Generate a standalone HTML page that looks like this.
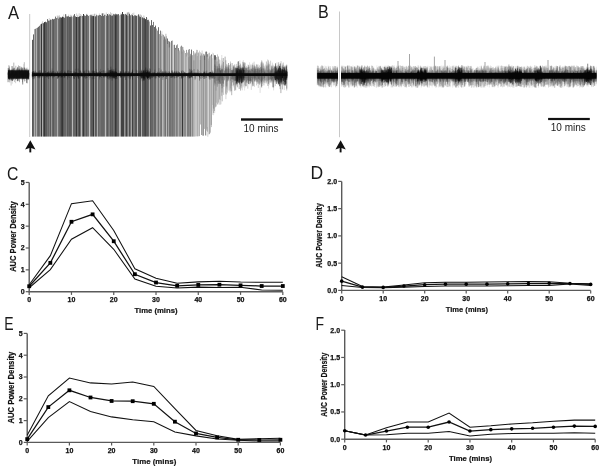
<!DOCTYPE html><html><head><meta charset="utf-8"><style>html,body{margin:0;padding:0;background:#fff;width:603px;height:469px;overflow:hidden}svg{display:block;filter:blur(0.3px)}</style></head><body><svg width="603" height="469" viewBox="0 0 603 469"><path d="M29.20,182.60 V291.70 H282.82" fill="none" stroke="#5a5a5a" stroke-width="1.4"/><line x1="25.70" y1="291.70" x2="29.20" y2="291.70" stroke="#5a5a5a" stroke-width="1.2"/><text x="24.60" y="294.10" text-anchor="end" font-size="7" font-weight="bold" font-family="&quot;Liberation Sans&quot;, sans-serif" fill="#111" stroke="#111" stroke-width="0.25">0</text><line x1="25.70" y1="269.85" x2="29.20" y2="269.85" stroke="#5a5a5a" stroke-width="1.2"/><text x="24.60" y="272.25" text-anchor="end" font-size="7" font-weight="bold" font-family="&quot;Liberation Sans&quot;, sans-serif" fill="#111" stroke="#111" stroke-width="0.25">1</text><line x1="25.70" y1="248.00" x2="29.20" y2="248.00" stroke="#5a5a5a" stroke-width="1.2"/><text x="24.60" y="250.40" text-anchor="end" font-size="7" font-weight="bold" font-family="&quot;Liberation Sans&quot;, sans-serif" fill="#111" stroke="#111" stroke-width="0.25">2</text><line x1="25.70" y1="226.15" x2="29.20" y2="226.15" stroke="#5a5a5a" stroke-width="1.2"/><text x="24.60" y="228.55" text-anchor="end" font-size="7" font-weight="bold" font-family="&quot;Liberation Sans&quot;, sans-serif" fill="#111" stroke="#111" stroke-width="0.25">3</text><line x1="25.70" y1="204.30" x2="29.20" y2="204.30" stroke="#5a5a5a" stroke-width="1.2"/><text x="24.60" y="206.70" text-anchor="end" font-size="7" font-weight="bold" font-family="&quot;Liberation Sans&quot;, sans-serif" fill="#111" stroke="#111" stroke-width="0.25">4</text><line x1="25.70" y1="182.45" x2="29.20" y2="182.45" stroke="#5a5a5a" stroke-width="1.2"/><text x="24.60" y="184.85" text-anchor="end" font-size="7" font-weight="bold" font-family="&quot;Liberation Sans&quot;, sans-serif" fill="#111" stroke="#111" stroke-width="0.25">5</text><line x1="29.20" y1="291.70" x2="29.20" y2="294.90" stroke="#5a5a5a" stroke-width="1.2"/><text x="29.20" y="302.30" text-anchor="middle" font-size="7" font-weight="bold" font-family="&quot;Liberation Sans&quot;, sans-serif" fill="#111" stroke="#111" stroke-width="0.25">0</text><line x1="71.47" y1="291.70" x2="71.47" y2="294.90" stroke="#5a5a5a" stroke-width="1.2"/><text x="71.47" y="302.30" text-anchor="middle" font-size="7" font-weight="bold" font-family="&quot;Liberation Sans&quot;, sans-serif" fill="#111" stroke="#111" stroke-width="0.25">10</text><line x1="113.74" y1="291.70" x2="113.74" y2="294.90" stroke="#5a5a5a" stroke-width="1.2"/><text x="113.74" y="302.30" text-anchor="middle" font-size="7" font-weight="bold" font-family="&quot;Liberation Sans&quot;, sans-serif" fill="#111" stroke="#111" stroke-width="0.25">20</text><line x1="156.01" y1="291.70" x2="156.01" y2="294.90" stroke="#5a5a5a" stroke-width="1.2"/><text x="156.01" y="302.30" text-anchor="middle" font-size="7" font-weight="bold" font-family="&quot;Liberation Sans&quot;, sans-serif" fill="#111" stroke="#111" stroke-width="0.25">30</text><line x1="198.28" y1="291.70" x2="198.28" y2="294.90" stroke="#5a5a5a" stroke-width="1.2"/><text x="198.28" y="302.30" text-anchor="middle" font-size="7" font-weight="bold" font-family="&quot;Liberation Sans&quot;, sans-serif" fill="#111" stroke="#111" stroke-width="0.25">40</text><line x1="240.55" y1="291.70" x2="240.55" y2="294.90" stroke="#5a5a5a" stroke-width="1.2"/><text x="240.55" y="302.30" text-anchor="middle" font-size="7" font-weight="bold" font-family="&quot;Liberation Sans&quot;, sans-serif" fill="#111" stroke="#111" stroke-width="0.25">50</text><line x1="282.82" y1="291.70" x2="282.82" y2="294.90" stroke="#5a5a5a" stroke-width="1.2"/><text x="282.82" y="302.30" text-anchor="middle" font-size="7" font-weight="bold" font-family="&quot;Liberation Sans&quot;, sans-serif" fill="#111" stroke="#111" stroke-width="0.25">60</text><polyline points="29.20,284.71 50.34,255.65 71.47,203.64 92.61,200.80 113.74,230.52 134.88,268.76 156.01,278.15 177.15,283.18 198.28,281.87 219.41,281.21 240.55,282.09 261.69,282.30 282.82,282.30" fill="none" stroke="#111" stroke-width="1.05"/><polyline points="29.20,287.77 50.34,269.63 71.47,239.26 92.61,227.68 113.74,249.31 134.88,279.03 156.01,286.24 177.15,287.99 198.28,287.11 219.41,287.55 240.55,287.33 261.69,289.95 282.82,290.17" fill="none" stroke="#111" stroke-width="1.05"/><polyline points="29.20,286.24 50.34,262.86 71.47,221.78 92.61,214.35 113.74,241.23 134.88,274.22 156.01,282.52 177.15,285.80 198.28,284.93 219.41,284.71 240.55,285.36 261.69,286.02 282.82,286.02" fill="none" stroke="#111" stroke-width="1.25"/><rect x="27.30" y="284.34" width="3.8" height="3.8" fill="#000"/><rect x="48.44" y="260.96" width="3.8" height="3.8" fill="#000"/><rect x="69.57" y="219.88" width="3.8" height="3.8" fill="#000"/><rect x="90.70" y="212.45" width="3.8" height="3.8" fill="#000"/><rect x="111.84" y="239.33" width="3.8" height="3.8" fill="#000"/><rect x="132.97" y="272.32" width="3.8" height="3.8" fill="#000"/><rect x="154.11" y="280.62" width="3.8" height="3.8" fill="#000"/><rect x="175.25" y="283.90" width="3.8" height="3.8" fill="#000"/><rect x="196.38" y="283.03" width="3.8" height="3.8" fill="#000"/><rect x="217.51" y="282.81" width="3.8" height="3.8" fill="#000"/><rect x="238.65" y="283.46" width="3.8" height="3.8" fill="#000"/><rect x="259.79" y="284.12" width="3.8" height="3.8" fill="#000"/><rect x="280.92" y="284.12" width="3.8" height="3.8" fill="#000"/><text transform="translate(16.20,236.60) rotate(-90)" text-anchor="middle" font-size="8.6" font-weight="bold" font-family="&quot;Liberation Sans&quot;, sans-serif" fill="#111" stroke="#111" stroke-width="0.2" textLength="70.5" lengthAdjust="spacingAndGlyphs">AUC Power Density</text><text x="156.00" y="313.30" text-anchor="middle" font-size="8" font-weight="bold" font-family="&quot;Liberation Sans&quot;, sans-serif" fill="#111" stroke="#111" stroke-width="0.2" textLength="43" lengthAdjust="spacingAndGlyphs">Time (mins)</text><path d="M341.70,181.60 V290.40 H590.70" fill="none" stroke="#5a5a5a" stroke-width="1.4"/><line x1="338.20" y1="290.40" x2="341.70" y2="290.40" stroke="#5a5a5a" stroke-width="1.2"/><text x="337.10" y="292.80" text-anchor="end" font-size="7" font-weight="bold" font-family="&quot;Liberation Sans&quot;, sans-serif" fill="#111" stroke="#111" stroke-width="0.25">0.0</text><line x1="338.20" y1="263.15" x2="341.70" y2="263.15" stroke="#5a5a5a" stroke-width="1.2"/><text x="337.10" y="265.55" text-anchor="end" font-size="7" font-weight="bold" font-family="&quot;Liberation Sans&quot;, sans-serif" fill="#111" stroke="#111" stroke-width="0.25">0.5</text><line x1="338.20" y1="235.90" x2="341.70" y2="235.90" stroke="#5a5a5a" stroke-width="1.2"/><text x="337.10" y="238.30" text-anchor="end" font-size="7" font-weight="bold" font-family="&quot;Liberation Sans&quot;, sans-serif" fill="#111" stroke="#111" stroke-width="0.25">1.0</text><line x1="338.20" y1="208.65" x2="341.70" y2="208.65" stroke="#5a5a5a" stroke-width="1.2"/><text x="337.10" y="211.05" text-anchor="end" font-size="7" font-weight="bold" font-family="&quot;Liberation Sans&quot;, sans-serif" fill="#111" stroke="#111" stroke-width="0.25">1.5</text><line x1="338.20" y1="181.40" x2="341.70" y2="181.40" stroke="#5a5a5a" stroke-width="1.2"/><text x="337.10" y="183.80" text-anchor="end" font-size="7" font-weight="bold" font-family="&quot;Liberation Sans&quot;, sans-serif" fill="#111" stroke="#111" stroke-width="0.25">2.0</text><line x1="341.70" y1="290.40" x2="341.70" y2="293.60" stroke="#5a5a5a" stroke-width="1.2"/><text x="341.70" y="300.90" text-anchor="middle" font-size="7" font-weight="bold" font-family="&quot;Liberation Sans&quot;, sans-serif" fill="#111" stroke="#111" stroke-width="0.25">0</text><line x1="383.20" y1="290.40" x2="383.20" y2="293.60" stroke="#5a5a5a" stroke-width="1.2"/><text x="383.20" y="300.90" text-anchor="middle" font-size="7" font-weight="bold" font-family="&quot;Liberation Sans&quot;, sans-serif" fill="#111" stroke="#111" stroke-width="0.25">10</text><line x1="424.70" y1="290.40" x2="424.70" y2="293.60" stroke="#5a5a5a" stroke-width="1.2"/><text x="424.70" y="300.90" text-anchor="middle" font-size="7" font-weight="bold" font-family="&quot;Liberation Sans&quot;, sans-serif" fill="#111" stroke="#111" stroke-width="0.25">20</text><line x1="466.20" y1="290.40" x2="466.20" y2="293.60" stroke="#5a5a5a" stroke-width="1.2"/><text x="466.20" y="300.90" text-anchor="middle" font-size="7" font-weight="bold" font-family="&quot;Liberation Sans&quot;, sans-serif" fill="#111" stroke="#111" stroke-width="0.25">30</text><line x1="507.70" y1="290.40" x2="507.70" y2="293.60" stroke="#5a5a5a" stroke-width="1.2"/><text x="507.70" y="300.90" text-anchor="middle" font-size="7" font-weight="bold" font-family="&quot;Liberation Sans&quot;, sans-serif" fill="#111" stroke="#111" stroke-width="0.25">40</text><line x1="549.20" y1="290.40" x2="549.20" y2="293.60" stroke="#5a5a5a" stroke-width="1.2"/><text x="549.20" y="300.90" text-anchor="middle" font-size="7" font-weight="bold" font-family="&quot;Liberation Sans&quot;, sans-serif" fill="#111" stroke="#111" stroke-width="0.25">50</text><line x1="590.70" y1="290.40" x2="590.70" y2="293.60" stroke="#5a5a5a" stroke-width="1.2"/><text x="590.70" y="300.90" text-anchor="middle" font-size="7" font-weight="bold" font-family="&quot;Liberation Sans&quot;, sans-serif" fill="#111" stroke="#111" stroke-width="0.25">60</text><polyline points="341.70,276.77 362.45,286.58 383.20,287.13 403.95,284.95 424.70,282.77 445.45,282.22 466.20,282.22 486.95,281.95 507.70,281.68 528.45,281.41 549.20,281.68 569.95,283.31 590.70,283.86" fill="none" stroke="#111" stroke-width="1.05"/><polyline points="341.70,285.50 362.45,287.40 383.20,287.67 403.95,287.13 424.70,286.58 445.45,286.04 466.20,286.04 486.95,286.04 507.70,285.77 528.45,285.50 549.20,285.50 569.95,283.86 590.70,285.50" fill="none" stroke="#111" stroke-width="1.05"/><polyline points="341.70,281.13 362.45,287.13 383.20,287.40 403.95,286.04 424.70,284.68 445.45,284.13 466.20,284.13 486.95,284.13 507.70,283.86 528.45,283.59 549.20,283.31 569.95,283.59 590.70,284.40" fill="none" stroke="#111" stroke-width="1.25"/><circle cx="341.70" cy="281.13" r="1.8" fill="#000"/><circle cx="362.45" cy="287.13" r="1.8" fill="#000"/><circle cx="383.20" cy="287.40" r="1.8" fill="#000"/><circle cx="403.95" cy="286.04" r="1.8" fill="#000"/><circle cx="424.70" cy="284.68" r="1.8" fill="#000"/><circle cx="445.45" cy="284.13" r="1.8" fill="#000"/><circle cx="466.20" cy="284.13" r="1.8" fill="#000"/><circle cx="486.95" cy="284.13" r="1.8" fill="#000"/><circle cx="507.70" cy="283.86" r="1.8" fill="#000"/><circle cx="528.45" cy="283.59" r="1.8" fill="#000"/><circle cx="549.20" cy="283.31" r="1.8" fill="#000"/><circle cx="569.95" cy="283.59" r="1.8" fill="#000"/><circle cx="590.70" cy="284.40" r="1.8" fill="#000"/><text transform="translate(322.30,235.50) rotate(-90)" text-anchor="middle" font-size="8.4" font-weight="bold" font-family="&quot;Liberation Sans&quot;, sans-serif" fill="#111" stroke="#111" stroke-width="0.2" textLength="64.5" lengthAdjust="spacingAndGlyphs">AUC Power Density</text><text x="466.90" y="312.20" text-anchor="middle" font-size="8" font-weight="bold" font-family="&quot;Liberation Sans&quot;, sans-serif" fill="#111" stroke="#111" stroke-width="0.2" textLength="42.3" lengthAdjust="spacingAndGlyphs">Time (mins)</text><path d="M27.20,333.40 V442.40 H280.40" fill="none" stroke="#5a5a5a" stroke-width="1.4"/><line x1="23.70" y1="442.40" x2="27.20" y2="442.40" stroke="#5a5a5a" stroke-width="1.2"/><text x="22.60" y="444.80" text-anchor="end" font-size="7" font-weight="bold" font-family="&quot;Liberation Sans&quot;, sans-serif" fill="#111" stroke="#111" stroke-width="0.25">0</text><line x1="23.70" y1="420.60" x2="27.20" y2="420.60" stroke="#5a5a5a" stroke-width="1.2"/><text x="22.60" y="423.00" text-anchor="end" font-size="7" font-weight="bold" font-family="&quot;Liberation Sans&quot;, sans-serif" fill="#111" stroke="#111" stroke-width="0.25">1</text><line x1="23.70" y1="398.80" x2="27.20" y2="398.80" stroke="#5a5a5a" stroke-width="1.2"/><text x="22.60" y="401.20" text-anchor="end" font-size="7" font-weight="bold" font-family="&quot;Liberation Sans&quot;, sans-serif" fill="#111" stroke="#111" stroke-width="0.25">2</text><line x1="23.70" y1="377.00" x2="27.20" y2="377.00" stroke="#5a5a5a" stroke-width="1.2"/><text x="22.60" y="379.40" text-anchor="end" font-size="7" font-weight="bold" font-family="&quot;Liberation Sans&quot;, sans-serif" fill="#111" stroke="#111" stroke-width="0.25">3</text><line x1="23.70" y1="355.20" x2="27.20" y2="355.20" stroke="#5a5a5a" stroke-width="1.2"/><text x="22.60" y="357.60" text-anchor="end" font-size="7" font-weight="bold" font-family="&quot;Liberation Sans&quot;, sans-serif" fill="#111" stroke="#111" stroke-width="0.25">4</text><line x1="23.70" y1="333.40" x2="27.20" y2="333.40" stroke="#5a5a5a" stroke-width="1.2"/><text x="22.60" y="335.80" text-anchor="end" font-size="7" font-weight="bold" font-family="&quot;Liberation Sans&quot;, sans-serif" fill="#111" stroke="#111" stroke-width="0.25">5</text><line x1="27.20" y1="442.40" x2="27.20" y2="445.60" stroke="#5a5a5a" stroke-width="1.2"/><text x="27.20" y="453.00" text-anchor="middle" font-size="7" font-weight="bold" font-family="&quot;Liberation Sans&quot;, sans-serif" fill="#111" stroke="#111" stroke-width="0.25">0</text><line x1="69.40" y1="442.40" x2="69.40" y2="445.60" stroke="#5a5a5a" stroke-width="1.2"/><text x="69.40" y="453.00" text-anchor="middle" font-size="7" font-weight="bold" font-family="&quot;Liberation Sans&quot;, sans-serif" fill="#111" stroke="#111" stroke-width="0.25">10</text><line x1="111.60" y1="442.40" x2="111.60" y2="445.60" stroke="#5a5a5a" stroke-width="1.2"/><text x="111.60" y="453.00" text-anchor="middle" font-size="7" font-weight="bold" font-family="&quot;Liberation Sans&quot;, sans-serif" fill="#111" stroke="#111" stroke-width="0.25">20</text><line x1="153.80" y1="442.40" x2="153.80" y2="445.60" stroke="#5a5a5a" stroke-width="1.2"/><text x="153.80" y="453.00" text-anchor="middle" font-size="7" font-weight="bold" font-family="&quot;Liberation Sans&quot;, sans-serif" fill="#111" stroke="#111" stroke-width="0.25">30</text><line x1="196.00" y1="442.40" x2="196.00" y2="445.60" stroke="#5a5a5a" stroke-width="1.2"/><text x="196.00" y="453.00" text-anchor="middle" font-size="7" font-weight="bold" font-family="&quot;Liberation Sans&quot;, sans-serif" fill="#111" stroke="#111" stroke-width="0.25">40</text><line x1="238.20" y1="442.40" x2="238.20" y2="445.60" stroke="#5a5a5a" stroke-width="1.2"/><text x="238.20" y="453.00" text-anchor="middle" font-size="7" font-weight="bold" font-family="&quot;Liberation Sans&quot;, sans-serif" fill="#111" stroke="#111" stroke-width="0.25">50</text><line x1="280.40" y1="442.40" x2="280.40" y2="445.60" stroke="#5a5a5a" stroke-width="1.2"/><text x="280.40" y="453.00" text-anchor="middle" font-size="7" font-weight="bold" font-family="&quot;Liberation Sans&quot;, sans-serif" fill="#111" stroke="#111" stroke-width="0.25">60</text><polyline points="27.20,435.21 48.30,395.75 69.40,378.09 90.50,382.89 111.60,383.98 132.70,382.01 153.80,386.37 174.90,408.61 196.00,430.41 217.10,435.86 238.20,439.35 259.30,438.69 280.40,438.26" fill="none" stroke="#111" stroke-width="1.05"/><polyline points="27.20,441.31 48.30,417.55 69.40,401.63 90.50,411.44 111.60,416.89 132.70,419.73 153.80,421.69 174.90,431.94 196.00,435.86 217.10,438.91 238.20,440.22 259.30,441.09 280.40,441.09" fill="none" stroke="#111" stroke-width="1.05"/><polyline points="27.20,439.13 48.30,407.08 69.40,390.30 90.50,397.49 111.60,400.98 132.70,401.20 153.80,403.81 174.90,421.69 196.00,433.46 217.10,437.39 238.20,439.78 259.30,440.00 280.40,439.78" fill="none" stroke="#111" stroke-width="1.25"/><rect x="25.30" y="437.23" width="3.8" height="3.8" fill="#000"/><rect x="46.40" y="405.18" width="3.8" height="3.8" fill="#000"/><rect x="67.50" y="388.40" width="3.8" height="3.8" fill="#000"/><rect x="88.60" y="395.59" width="3.8" height="3.8" fill="#000"/><rect x="109.70" y="399.08" width="3.8" height="3.8" fill="#000"/><rect x="130.80" y="399.30" width="3.8" height="3.8" fill="#000"/><rect x="151.90" y="401.91" width="3.8" height="3.8" fill="#000"/><rect x="173.00" y="419.79" width="3.8" height="3.8" fill="#000"/><rect x="194.10" y="431.56" width="3.8" height="3.8" fill="#000"/><rect x="215.20" y="435.49" width="3.8" height="3.8" fill="#000"/><rect x="236.30" y="437.88" width="3.8" height="3.8" fill="#000"/><rect x="257.40" y="438.10" width="3.8" height="3.8" fill="#000"/><rect x="278.50" y="437.88" width="3.8" height="3.8" fill="#000"/><text transform="translate(14.30,387.60) rotate(-90)" text-anchor="middle" font-size="8.6" font-weight="bold" font-family="&quot;Liberation Sans&quot;, sans-serif" fill="#111" stroke="#111" stroke-width="0.2" textLength="72" lengthAdjust="spacingAndGlyphs">AUC Power Density</text><text x="154.30" y="464.00" text-anchor="middle" font-size="8" font-weight="bold" font-family="&quot;Liberation Sans&quot;, sans-serif" fill="#111" stroke="#111" stroke-width="0.2" textLength="44" lengthAdjust="spacingAndGlyphs">Time (mins)</text><path d="M344.70,330.00 V439.20 H595.20" fill="none" stroke="#5a5a5a" stroke-width="1.4"/><line x1="341.20" y1="439.20" x2="344.70" y2="439.20" stroke="#5a5a5a" stroke-width="1.2"/><text x="340.10" y="441.60" text-anchor="end" font-size="7" font-weight="bold" font-family="&quot;Liberation Sans&quot;, sans-serif" fill="#111" stroke="#111" stroke-width="0.25">0.0</text><line x1="341.20" y1="411.95" x2="344.70" y2="411.95" stroke="#5a5a5a" stroke-width="1.2"/><text x="340.10" y="414.35" text-anchor="end" font-size="7" font-weight="bold" font-family="&quot;Liberation Sans&quot;, sans-serif" fill="#111" stroke="#111" stroke-width="0.25">0.5</text><line x1="341.20" y1="384.70" x2="344.70" y2="384.70" stroke="#5a5a5a" stroke-width="1.2"/><text x="340.10" y="387.10" text-anchor="end" font-size="7" font-weight="bold" font-family="&quot;Liberation Sans&quot;, sans-serif" fill="#111" stroke="#111" stroke-width="0.25">1.0</text><line x1="341.20" y1="357.45" x2="344.70" y2="357.45" stroke="#5a5a5a" stroke-width="1.2"/><text x="340.10" y="359.85" text-anchor="end" font-size="7" font-weight="bold" font-family="&quot;Liberation Sans&quot;, sans-serif" fill="#111" stroke="#111" stroke-width="0.25">1.5</text><line x1="341.20" y1="330.20" x2="344.70" y2="330.20" stroke="#5a5a5a" stroke-width="1.2"/><text x="340.10" y="332.60" text-anchor="end" font-size="7" font-weight="bold" font-family="&quot;Liberation Sans&quot;, sans-serif" fill="#111" stroke="#111" stroke-width="0.25">2.0</text><line x1="344.70" y1="439.20" x2="344.70" y2="442.40" stroke="#5a5a5a" stroke-width="1.2"/><text x="344.70" y="449.70" text-anchor="middle" font-size="7" font-weight="bold" font-family="&quot;Liberation Sans&quot;, sans-serif" fill="#111" stroke="#111" stroke-width="0.25">0</text><line x1="386.45" y1="439.20" x2="386.45" y2="442.40" stroke="#5a5a5a" stroke-width="1.2"/><text x="386.45" y="449.70" text-anchor="middle" font-size="7" font-weight="bold" font-family="&quot;Liberation Sans&quot;, sans-serif" fill="#111" stroke="#111" stroke-width="0.25">10</text><line x1="428.20" y1="439.20" x2="428.20" y2="442.40" stroke="#5a5a5a" stroke-width="1.2"/><text x="428.20" y="449.70" text-anchor="middle" font-size="7" font-weight="bold" font-family="&quot;Liberation Sans&quot;, sans-serif" fill="#111" stroke="#111" stroke-width="0.25">20</text><line x1="469.95" y1="439.20" x2="469.95" y2="442.40" stroke="#5a5a5a" stroke-width="1.2"/><text x="469.95" y="449.70" text-anchor="middle" font-size="7" font-weight="bold" font-family="&quot;Liberation Sans&quot;, sans-serif" fill="#111" stroke="#111" stroke-width="0.25">30</text><line x1="511.70" y1="439.20" x2="511.70" y2="442.40" stroke="#5a5a5a" stroke-width="1.2"/><text x="511.70" y="449.70" text-anchor="middle" font-size="7" font-weight="bold" font-family="&quot;Liberation Sans&quot;, sans-serif" fill="#111" stroke="#111" stroke-width="0.25">40</text><line x1="553.45" y1="439.20" x2="553.45" y2="442.40" stroke="#5a5a5a" stroke-width="1.2"/><text x="553.45" y="449.70" text-anchor="middle" font-size="7" font-weight="bold" font-family="&quot;Liberation Sans&quot;, sans-serif" fill="#111" stroke="#111" stroke-width="0.25">50</text><line x1="595.20" y1="439.20" x2="595.20" y2="442.40" stroke="#5a5a5a" stroke-width="1.2"/><text x="595.20" y="449.70" text-anchor="middle" font-size="7" font-weight="bold" font-family="&quot;Liberation Sans&quot;, sans-serif" fill="#111" stroke="#111" stroke-width="0.25">60</text><polyline points="344.70,430.75 365.57,435.00 386.45,427.75 407.32,422.03 428.20,422.03 449.07,413.04 469.95,427.21 490.82,425.85 511.70,423.94 532.58,422.85 553.45,421.21 574.33,420.12 595.20,420.12" fill="none" stroke="#111" stroke-width="1.05"/><polyline points="344.70,430.75 365.57,435.00 386.45,434.84 407.32,433.20 428.20,433.20 449.07,431.57 469.95,435.93 490.82,434.30 511.70,433.48 532.58,433.20 553.45,433.20 574.33,432.66 595.20,433.20" fill="none" stroke="#111" stroke-width="1.05"/><polyline points="344.70,430.75 365.57,435.00 386.45,431.02 407.32,427.21 428.20,427.21 449.07,422.03 469.95,431.02 490.82,429.66 511.70,428.84 532.58,428.30 553.45,427.21 574.33,426.12 595.20,426.39" fill="none" stroke="#111" stroke-width="1.25"/><circle cx="344.70" cy="430.75" r="1.8" fill="#000"/><circle cx="365.57" cy="435.00" r="1.8" fill="#000"/><circle cx="386.45" cy="431.02" r="1.8" fill="#000"/><circle cx="407.32" cy="427.21" r="1.8" fill="#000"/><circle cx="428.20" cy="427.21" r="1.8" fill="#000"/><circle cx="449.07" cy="422.03" r="1.8" fill="#000"/><circle cx="469.95" cy="431.02" r="1.8" fill="#000"/><circle cx="490.82" cy="429.66" r="1.8" fill="#000"/><circle cx="511.70" cy="428.84" r="1.8" fill="#000"/><circle cx="532.58" cy="428.30" r="1.8" fill="#000"/><circle cx="553.45" cy="427.21" r="1.8" fill="#000"/><circle cx="574.33" cy="426.12" r="1.8" fill="#000"/><circle cx="595.20" cy="426.39" r="1.8" fill="#000"/><text transform="translate(326.60,384.80) rotate(-90)" text-anchor="middle" font-size="8.4" font-weight="bold" font-family="&quot;Liberation Sans&quot;, sans-serif" fill="#111" stroke="#111" stroke-width="0.2" textLength="64" lengthAdjust="spacingAndGlyphs">AUC Power Density</text><text x="470.50" y="461.00" text-anchor="middle" font-size="8" font-weight="bold" font-family="&quot;Liberation Sans&quot;, sans-serif" fill="#111" stroke="#111" stroke-width="0.2" textLength="43" lengthAdjust="spacingAndGlyphs">Time (mins)</text><line x1="29.7" y1="14" x2="29.7" y2="137" stroke="#c8c8c8" stroke-width="1"/><path d="M17.5 66.9V77.5M15.8 65.8V77.1M23.8 69.7V75.4M13.3 73.1V78.7M20.8 66.4V77.6M19.0 72.9V80.8M24.8 71.2V77.4M18.5 65.4V78.5M11.8 74.1V75.1M26.2 68.2V78.5M12.3 73.4V80.1" stroke="#424242" stroke-width="0.6" stroke-opacity="0.6" fill="none"/><path d="M20.3 72.8V78.5M21.4 67.6V75.8M17.8 71.1V74.7M9.6 69.7V79.0M21.7 71.3V74.7M14.1 72.4V76.1M20.6 70.9V75.2M26.0 71.3V76.6M8.7 69.8V77.8M8.9 69.5V75.3M20.1 68.7V76.7M12.9 74.3V75.0" stroke="#4e4e4e" stroke-width="0.6" stroke-opacity="0.8" fill="none"/><path d="M10.0 74.0V76.0M13.8 62.6V74.7M9.4 73.9V79.1M22.0 73.3V78.1M26.8 72.7V79.8M13.4 69.5V77.6M13.0 68.8V79.5M24.2 67.8V74.6M25.3 72.9V75.9M15.4 72.3V74.9M12.9 68.7V76.8M13.4 71.5V79.2M11.2 71.4V75.8M16.6 72.0V76.0" stroke="#666666" stroke-width="0.6" stroke-opacity="0.8" fill="none"/><path d="M8.9 65.2V75.5M19.5 73.9V82.2M24.7 71.6V76.2M18.4 70.9V80.5M12.3 73.3V81.0M22.4 72.1V74.8M16.5 68.6V79.0M18.0 73.7V77.7M19.4 66.0V78.4M22.1 70.0V74.7M27.2 68.8V78.1M9.4 66.5V79.5M19.7 72.4V77.2M15.3 72.1V76.5M23.0 73.0V77.4M25.4 71.1V76.0" stroke="#5a5a5a" stroke-width="0.6" stroke-opacity="0.8" fill="none"/><path d="M11.3 70.1V74.9M22.4 74.0V75.8M19.6 69.9V74.9M23.5 74.3V78.1M9.3 68.4V76.3M23.8 72.9V79.0M14.5 68.2V82.1M18.8 73.6V75.4" stroke="#1e1e1e" stroke-width="0.6" stroke-opacity="0.4" fill="none"/><path d="M13.1 70.6V75.3M8.0 72.5V82.2M26.5 72.0V82.8M22.5 70.4V76.3M22.7 73.2V76.4M19.0 69.2V76.7M9.6 70.5V76.8M9.5 71.2V76.3M21.7 71.7V76.7M13.3 72.0V75.4" stroke="#424242" stroke-width="0.6" stroke-opacity="0.8" fill="none"/><path d="M18.9 71.8V77.8M8.8 71.9V75.1M21.4 67.1V74.8M28.3 71.3V77.3M20.6 72.5V76.7M9.7 72.6V80.0M14.9 70.1V76.1M9.1 73.3V82.1M16.8 73.6V76.9M18.9 67.5V74.7M8.7 68.4V74.6M16.5 72.4V74.8M16.3 74.2V78.7M18.7 73.5V77.9" stroke="#5a5a5a" stroke-width="0.6" stroke-opacity="0.6" fill="none"/><path d="M14.6 74.1V77.4M16.3 71.4V78.6M27.3 71.4V76.0M28.1 72.0V74.8M24.6 67.5V78.5M12.4 70.3V75.7M25.4 72.8V75.6M19.5 72.0V77.9M17.7 67.6V81.3M28.8 72.5V79.0M21.5 69.3V75.8M17.4 70.9V74.6M17.3 74.0V80.9M26.1 73.5V77.9M22.4 68.0V76.0" stroke="#1e1e1e" stroke-width="0.6" stroke-opacity="0.8" fill="none"/><path d="M16.4 72.5V77.4M26.2 73.6V76.4M10.8 69.6V80.3M21.2 70.8V79.9M14.6 72.3V75.7M16.5 71.0V77.0M20.0 71.0V75.2M18.7 69.9V75.5M24.3 62.2V76.9M22.9 67.2V77.9M24.9 70.7V81.0M8.3 70.0V77.8M23.9 74.5V78.7M10.2 74.0V77.6M17.8 73.1V78.2" stroke="#727272" stroke-width="0.6" stroke-opacity="0.8" fill="none"/><path d="M16.3 70.0V76.7M26.3 69.0V77.7M24.6 71.1V81.6M9.7 70.3V76.2M23.3 71.7V77.9M9.3 70.7V75.7M12.5 72.0V75.8M23.9 72.8V78.7M11.3 73.3V77.0M17.8 69.9V75.8M22.9 72.9V77.8M11.8 74.0V79.8M22.5 70.0V82.3M22.8 71.5V77.1" stroke="#666666" stroke-width="0.6" stroke-opacity="0.6" fill="none"/><path d="M9.8 69.9V82.6M19.7 72.3V75.3M27.0 67.4V78.9M25.0 70.2V76.7M17.7 67.9V75.9M9.7 74.0V77.5M22.8 74.1V80.3" stroke="#5a5a5a" stroke-width="0.6" stroke-opacity="0.4" fill="none"/><path d="M13.2 73.5V75.3M23.4 71.1V76.4M8.6 74.0V75.7M21.0 72.8V75.4M14.5 70.6V77.9M28.7 68.8V75.1M23.5 71.0V77.8M20.6 73.9V77.2M13.6 73.2V75.3" stroke="#666666" stroke-width="0.6" stroke-opacity="0.4" fill="none"/><path d="M21.5 71.7V77.0M13.8 72.6V77.9M27.5 72.3V77.9M15.6 71.7V76.7M21.9 70.9V77.7M14.0 74.4V77.2M25.7 69.9V78.8M11.9 72.4V75.2M15.6 74.4V75.2M16.3 69.4V77.1" stroke="#2a2a2a" stroke-width="0.6" stroke-opacity="0.6" fill="none"/><path d="M28.4 73.5V77.4M22.7 69.5V74.6M27.0 72.4V77.8M12.5 66.3V80.4M23.2 71.6V79.1M14.5 69.4V79.2M12.9 74.1V81.1M15.9 72.3V76.1M27.0 70.8V76.3M20.1 73.5V77.5M19.0 70.7V75.1M20.3 73.6V74.8M23.0 70.8V78.7M28.5 72.9V79.6M11.9 69.6V75.5M21.1 68.2V77.0" stroke="#727272" stroke-width="0.6" stroke-opacity="0.6" fill="none"/><path d="M12.5 74.2V80.7M17.4 72.4V75.3M17.5 68.9V80.1M12.1 73.7V79.9M17.2 73.5V77.4M27.6 72.4V76.2M13.5 68.4V79.7M14.5 74.0V75.8M14.1 71.3V77.7M24.1 73.0V77.7M21.9 74.0V74.9M12.2 72.5V74.9M19.1 74.3V77.6M28.0 71.8V74.5M9.3 69.3V78.6M26.2 74.1V77.5" stroke="#363636" stroke-width="0.6" stroke-opacity="0.6" fill="none"/><path d="M9.5 70.5V77.1M25.3 72.0V76.2M16.7 72.4V74.9M21.3 74.5V76.8M14.3 74.3V75.9M23.7 72.9V76.7M10.3 73.5V76.8M8.2 68.1V74.8M16.2 73.1V76.9M19.4 70.2V76.2M14.2 67.7V78.1M28.0 71.6V80.1M9.3 71.6V76.3M17.6 74.5V75.5M15.3 70.9V77.4" stroke="#2a2a2a" stroke-width="0.6" stroke-opacity="0.8" fill="none"/><path d="M13.2 72.3V80.0M18.1 74.1V77.6M12.3 68.6V83.7M23.7 64.2V77.8M12.3 71.8V75.9M9.3 69.9V75.7M12.2 72.9V76.2M8.9 68.4V74.9" stroke="#727272" stroke-width="0.6" stroke-opacity="0.4" fill="none"/><path d="M28.0 70.9V77.8M16.5 73.8V76.5M23.8 68.3V80.0M11.0 72.1V76.4M26.5 71.7V80.0" stroke="#424242" stroke-width="0.6" stroke-opacity="0.4" fill="none"/><path d="M13.9 72.4V75.7M12.2 72.3V74.9M14.0 73.9V77.5M23.9 72.4V76.5M28.8 73.0V76.7M11.9 66.0V80.9M22.7 69.2V76.3M12.8 73.4V76.9" stroke="#121212" stroke-width="0.6" stroke-opacity="0.6" fill="none"/><path d="M22.5 72.8V75.5M11.9 73.1V74.9" stroke="#121212" stroke-width="0.6" stroke-opacity="0.4" fill="none"/><path d="M27.1 71.7V83.3M28.6 73.1V74.9M8.4 71.9V77.5M19.3 69.6V74.6M22.7 73.8V84.5" stroke="#121212" stroke-width="0.6" stroke-opacity="0.8" fill="none"/><path d="M21.1 71.0V77.7M17.8 70.7V74.9M16.9 73.3V75.7M24.7 67.9V76.2M23.5 73.3V75.4M15.8 72.9V79.9M21.4 71.7V74.6M27.5 73.1V77.0M28.6 70.4V76.1M15.6 69.2V83.2M8.7 73.1V78.0" stroke="#4e4e4e" stroke-width="0.6" stroke-opacity="0.4" fill="none"/><path d="M8.2 72.8V79.6M10.8 74.1V80.3M19.9 68.4V76.2M16.1 72.5V78.2M20.3 71.4V75.1" stroke="#2a2a2a" stroke-width="0.6" stroke-opacity="0.4" fill="none"/><path d="M26.5 70.9V77.7M25.1 71.2V76.9M11.0 70.9V79.0M11.1 73.9V85.5M20.5 74.1V76.8M27.0 71.4V74.9M21.3 71.3V76.5M19.2 74.3V77.2" stroke="#363636" stroke-width="0.6" stroke-opacity="0.4" fill="none"/><path d="M16.7 71.5V77.5M8.9 73.3V79.0M23.0 73.3V77.1M18.9 69.9V78.5M12.9 69.5V76.3M8.9 71.2V79.5M19.0 74.2V78.1M28.7 69.6V76.5M16.5 73.8V75.5M18.3 71.3V75.8M25.5 73.9V76.3" stroke="#363636" stroke-width="0.6" stroke-opacity="0.8" fill="none"/><path d="M13.0 73.8V75.4M27.9 72.3V75.8M25.9 70.2V75.4M18.8 69.3V78.3M25.2 73.1V75.6M22.0 71.8V75.3M15.5 73.8V79.9M9.8 72.5V78.6M15.9 73.8V77.1M11.6 71.7V74.8M13.0 72.0V74.7M14.5 71.5V75.3" stroke="#4e4e4e" stroke-width="0.6" stroke-opacity="0.6" fill="none"/><path d="M15.0 74.0V76.4M27.4 74.0V78.5M21.0 69.9V78.1M25.5 68.9V77.5M24.1 69.7V77.7M12.3 70.3V75.9M27.2 73.8V75.2M9.7 73.8V80.2M23.0 71.0V78.7M9.9 74.2V76.6M27.8 72.8V76.2M27.0 69.3V78.2M16.3 74.4V75.5M10.0 72.4V77.7M15.7 71.1V75.9M16.0 73.7V75.0M11.4 69.6V79.9" stroke="#1e1e1e" stroke-width="0.6" stroke-opacity="0.6" fill="none"/><rect x="8" y="70.3" width="21" height="8.4" fill="#0a0a0a" opacity="0.9"/><path d="M32.5 39.8V74.0M32.5 74.0V136.6M43.5 23.2V74.0M43.5 74.0V136.6M45.5 21.7V74.0M45.5 74.0V136.6M46.5 22.3V74.0M46.5 74.0V136.6M50.5 19.6V74.0M50.5 74.0V136.6M53.5 19.3V74.0M53.5 74.0V136.6M60.5 17.4V74.0M60.5 74.0V136.6M63.5 17.1V74.0M63.5 74.0V136.6M67.5 16.4V74.0M67.5 74.0V136.6M69.5 16.9V74.0M69.5 74.0V136.6M70.5 16.8V74.0M70.5 74.0V136.6M78.5 16.9V74.0M78.5 74.0V136.6M86.5 14.5V74.0M86.5 74.0V136.6M91.5 15.4V74.0M91.5 74.0V136.6M92.5 15.8V74.0M92.5 74.0V136.6M95.5 16.3V74.0M95.5 74.0V136.6M107.5 14.0V74.0M107.5 74.0V136.6M110.5 15.0V74.0M110.5 74.0V136.6M112.5 15.5V74.0M112.5 74.0V136.6M135.5 15.4V74.0M135.5 74.0V136.6M136.5 15.8V74.0M136.5 74.0V136.6M138.5 14.4V74.0M138.5 74.0V136.6M139.5 16.4V74.0M139.5 74.0V136.6M142.5 17.4V74.0M142.5 74.0V136.6M143.5 18.2V74.0M143.5 74.0V136.6M146.5 17.1V74.0M146.5 74.0V136.6M147.5 20.0V74.0M147.5 74.0V136.6M150.5 25.5V74.0M150.5 74.0V136.6" stroke="#5a5a5a" stroke-width="1" fill="none"/><path d="M33.5 34.4V74.0M33.5 74.0V136.6M38.5 26.8V74.0M38.5 74.0V136.6M48.5 20.6V74.0M48.5 74.0V136.6M52.5 18.9V74.0M52.5 74.0V136.6M59.5 17.5V74.0M59.5 74.0V136.6M64.5 17.7V74.0M64.5 74.0V136.6M65.5 14.3V74.0M65.5 74.0V136.6M68.5 16.2V74.0M68.5 74.0V136.6M71.5 16.5V74.0M71.5 74.0V136.6M73.5 16.2V74.0M73.5 74.0V136.6M74.5 14.1V74.0M74.5 74.0V136.6M75.5 16.4V74.0M75.5 74.0V136.6M82.5 16.0V74.0M82.5 74.0V136.6M84.5 15.5V74.0M84.5 74.0V136.6M96.5 15.2V74.0M96.5 74.0V136.6M98.5 15.5V74.0M98.5 74.0V136.6M101.5 16.0V74.0M101.5 74.0V136.6M102.5 13.4V74.0M102.5 74.0V136.6M103.5 16.0V74.0M103.5 74.0V136.6M111.5 15.7V74.0M111.5 74.0V136.6M114.5 14.4V74.0M114.5 74.0V136.6M117.5 14.4V74.0M117.5 74.0V136.6M118.5 14.1V74.0M118.5 74.0V136.6M148.5 20.1V74.0M148.5 74.0V136.6M151.5 20.1V74.0M151.5 74.0V136.6M152.5 25.1V74.0M152.5 74.0V136.6M154.5 27.0V74.0M154.5 74.0V136.6M155.5 25.6V74.0M155.5 74.0V136.6M204.5 55.7V74.0M206.5 51.6V74.0M214.5 55.2V74.0M215.5 55.3V74.0" stroke="#666666" stroke-width="1" fill="none"/><path d="M34.5 29.1V74.0M34.5 74.0V136.6M36.5 28.1V74.0M36.5 74.0V136.6M42.5 23.2V74.0M42.5 74.0V136.6M57.5 17.9V74.0M57.5 74.0V136.6M97.5 15.4V74.0M97.5 74.0V136.6M141.5 18.2V74.0M141.5 74.0V136.6M149.5 21.5V74.0M149.5 74.0V136.6M172.5 40.5V74.0M178.5 74.0V136.6M179.5 50.6V74.0M191.5 74.0V136.6M193.5 51.0V74.0M193.5 74.0V136.6M197.5 74.0V136.4M199.5 74.0V136.2M202.5 55.4V74.0M202.5 74.0V135.6M203.5 53.8V74.0M207.5 74.0V131.7M209.5 56.4V74.0M212.5 74.0V105.0M218.5 56.5V74.0" stroke="#aeaeae" stroke-width="1" fill="none"/><path d="M35.5 28.8V74.0M35.5 74.0V136.6M49.5 20.6V74.0M49.5 74.0V136.6M66.5 16.4V74.0M66.5 74.0V136.6M109.5 14.3V74.0M109.5 74.0V136.6M153.5 21.9V74.0M153.5 74.0V136.6M160.5 30.6V74.0M160.5 74.0V136.6M171.5 40.9V74.0M171.5 74.0V136.6M173.5 74.0V136.6M174.5 44.8V74.0M174.5 74.0V136.6M175.5 47.9V74.0M176.5 74.0V136.6M178.5 48.1V74.0M187.5 74.0V136.6M188.5 74.0V136.6M207.5 54.2V74.0M211.5 54.4V74.0" stroke="#7e7e7e" stroke-width="1" fill="none"/><path d="M37.5 27.7V74.0M37.5 74.0V136.6M39.5 25.8V74.0M39.5 74.0V136.6M47.5 19.1V74.0M47.5 74.0V136.6M54.5 18.8V74.0M54.5 74.0V136.6M55.5 16.6V74.0M55.5 74.0V136.6M56.5 18.1V74.0M56.5 74.0V136.6M58.5 18.6V74.0M58.5 74.0V136.6M77.5 16.9V74.0M77.5 74.0V136.6M80.5 16.0V74.0M80.5 74.0V136.6M85.5 15.9V74.0M85.5 74.0V136.6M87.5 14.9V74.0M87.5 74.0V136.6M88.5 15.9V74.0M88.5 74.0V136.6M90.5 15.2V74.0M90.5 74.0V136.6M99.5 15.0V74.0M99.5 74.0V136.6M100.5 15.0V74.0M100.5 74.0V136.6M104.5 14.8V74.0M104.5 74.0V136.6M106.5 15.7V74.0M106.5 74.0V136.6M108.5 15.4V74.0M108.5 74.0V136.6M113.5 14.2V74.0M113.5 74.0V136.6M125.5 13.9V74.0M125.5 74.0V136.6M127.5 15.5V74.0M127.5 74.0V136.6M130.5 15.3V74.0M130.5 74.0V136.6M133.5 16.1V74.0M133.5 74.0V136.6M134.5 15.3V74.0M134.5 74.0V136.6M158.5 27.2V74.0M158.5 74.0V136.6M161.5 35.8V74.0M161.5 74.0V136.6M165.5 39.3V74.0M165.5 74.0V136.6M167.5 38.5V74.0M167.5 74.0V136.6M169.5 41.6V74.0M169.5 74.0V136.6M170.5 74.0V136.6M172.5 74.0V136.6M190.5 74.0V136.6M191.5 49.6V74.0" stroke="#727272" stroke-width="1" fill="none"/><path d="M40.5 24.4V74.0M40.5 74.0V136.6M51.5 19.7V74.0M51.5 74.0V136.6M94.5 16.3V74.0M94.5 74.0V136.6M124.5 14.4V74.0M124.5 74.0V136.6M128.5 15.4V74.0M128.5 74.0V136.6M157.5 30.6V74.0M157.5 74.0V136.6M181.5 74.0V136.6M183.5 74.0V136.6M200.5 55.6V74.0M203.5 74.0V135.7M205.5 74.0V135.3M213.5 74.0V113.0" stroke="#969696" stroke-width="1" fill="none"/><path d="M41.5 23.8V74.0M41.5 74.0V136.6M44.5 22.1V74.0M44.5 74.0V136.6M62.5 16.7V74.0M62.5 74.0V136.6M76.5 17.0V74.0M76.5 74.0V136.6M83.5 14.0V74.0M83.5 74.0V136.6M93.5 15.9V74.0M93.5 74.0V136.6M115.5 14.3V74.0M115.5 74.0V136.6M182.5 74.0V136.6" stroke="#363636" stroke-width="1" fill="none"/><path d="M61.5 17.6V74.0M61.5 74.0V136.6M79.5 16.3V74.0M79.5 74.0V136.6M121.5 14.3V74.0M121.5 74.0V136.6M122.5 12.0V74.0M122.5 74.0V136.6M123.5 14.1V74.0M123.5 74.0V136.6M126.5 14.7V74.0M126.5 74.0V136.6M132.5 15.0V74.0M132.5 74.0V136.6M145.5 19.1V74.0M145.5 74.0V136.6" stroke="#424242" stroke-width="1" fill="none"/><path d="M72.5 16.8V74.0M72.5 74.0V136.6M81.5 16.3V74.0M81.5 74.0V136.6M105.5 14.8V74.0M105.5 74.0V136.6M119.5 15.4V74.0M119.5 74.0V136.6M137.5 15.5V74.0M137.5 74.0V136.6M162.5 34.4V74.0M162.5 74.0V136.6M166.5 36.3V74.0M166.5 74.0V136.6M186.5 74.0V136.6M187.5 52.6V74.0M192.5 55.1V74.0M194.5 54.6V74.0M194.5 74.0V136.6M195.5 53.6V74.0M198.5 53.8V74.0M200.5 74.0V124.5M204.5 74.0V128.9M209.5 74.0V134.2M210.5 55.5V74.0M215.5 74.0V107.1M216.5 57.1V74.0M217.5 74.0V104.2M218.5 74.0V102.6" stroke="#bababa" stroke-width="1" fill="none"/><path d="M89.5 15.2V74.0M89.5 74.0V136.6M180.5 46.9V74.0M184.5 50.7V74.0M195.5 74.0V136.5M196.5 74.0V136.4M198.5 74.0V136.3M201.5 53.8V74.0M210.5 74.0V132.7M211.5 74.0V127.1M217.5 54.4V74.0" stroke="#c6c6c6" stroke-width="1" fill="none"/><path d="M116.5 14.3V74.0M116.5 74.0V136.6M129.5 13.8V74.0M129.5 74.0V136.6M140.5 17.0V74.0M140.5 74.0V136.6M144.5 18.1V74.0M144.5 74.0V136.6" stroke="#4e4e4e" stroke-width="1" fill="none"/><path d="M120.5 14.7V74.0M120.5 74.0V136.6M131.5 14.5V74.0M131.5 74.0V136.6M156.5 28.6V74.0M156.5 74.0V136.6M159.5 34.1V74.0M159.5 74.0V136.6M163.5 34.8V74.0M163.5 74.0V136.6M168.5 40.9V74.0M168.5 74.0V136.6M175.5 74.0V136.6M177.5 44.4V74.0M181.5 45.6V74.0M182.5 46.8V74.0M183.5 49.7V74.0M185.5 53.1V74.0M186.5 49.9V74.0M188.5 49.7V74.0M189.5 49.0V74.0M201.5 74.0V135.0M205.5 51.7V74.0M214.5 74.0V111.0" stroke="#a2a2a2" stroke-width="1" fill="none"/><path d="M164.5 36.5V74.0M164.5 74.0V136.6M176.5 45.3V74.0M177.5 74.0V136.6M179.5 74.0V136.6M180.5 74.0V136.6M184.5 74.0V136.6M185.5 74.0V136.6M189.5 74.0V136.6M192.5 74.0V136.6" stroke="#8a8a8a" stroke-width="1" fill="none"/><path d="M170.5 42.4V74.0M173.5 44.9V74.0M190.5 55.3V74.0M196.5 52.2V74.0M197.5 56.0V74.0M199.5 50.6V74.0M208.5 53.4V74.0M212.5 58.2V74.0M213.5 53.4V74.0M216.5 74.0V106.5" stroke="#d2d2d2" stroke-width="1" fill="none"/><path d="M206.5 74.0V124.9M208.5 74.0V134.4" stroke="#dedede" stroke-width="1" fill="none"/><path d="M147.0 18.1V21.1M106.3 12.5V15.5M91.2 14.3V17.3M143.8 15.4V18.4M42.7 21.2V24.2M84.1 14.8V17.8M57.9 16.9V19.9M121.0 13.2V16.2M42.2 22.6V25.6M127.9 12.8V15.8M111.8 13.0V16.0M60.1 16.8V19.8M73.5 15.3V18.3M68.7 14.5V17.5M80.6 14.0V17.0M108.6 13.5V16.5M79.2 13.3V16.3M103.9 13.4V16.4M99.4 13.5V16.5M76.6 13.4V16.4M65.7 14.0V17.0M133.8 12.6V15.6M57.9 16.2V19.2M148.3 19.2V22.2M58.8 15.6V18.6M65.9 14.7V17.7M57.3 15.4V18.4M71.2 15.4V18.4M115.6 13.1V16.1M101.5 13.4V16.4M141.5 15.4V18.4M81.7 14.9V17.9M94.6 14.0V17.0M103.2 13.0V16.0M90.8 14.5V17.5M94.7 13.6V16.6M110.5 12.1V15.1M70.8 14.7V17.7M49.3 18.1V21.1M65.8 14.2V17.2M127.8 13.3V16.3M139.3 14.8V17.8M86.9 13.7V16.7M144.0 16.5V19.5M93.0 14.0V17.0M132.5 13.2V16.2M77.7 14.8V17.8M63.7 14.4V17.4M128.4 11.9V14.9M140.9 14.9V17.9M127.7 12.3V15.3M129.1 12.3V15.3M59.4 15.3V18.3M73.4 14.9V17.9M141.1 16.3V19.3M96.3 13.8V16.8M127.1 12.5V15.5M140.2 14.2V17.2M110.9 13.9V16.9M113.4 13.7V16.7M235.4 74.5V84.1M269.4 71.5V79.4M285.1 72.2V76.3M241.6 72.2V76.5M234.3 74.3V75.9M215.1 74.1V78.5M278.5 70.6V74.7M270.7 74.1V76.7M286.3 66.7V77.2M230.6 73.5V80.1M217.9 69.4V85.5M224.0 69.6V80.0M234.2 70.6V80.7M247.9 73.1V78.0M259.0 73.3V80.3M282.5 67.6V74.5M280.3 72.4V75.4M258.1 74.4V75.8M273.0 64.7V81.5M277.7 65.3V78.5M282.7 72.4V75.4M230.1 74.1V92.3M229.2 65.0V77.0M239.9 73.1V78.9M278.2 71.4V74.8M281.6 71.8V78.5M247.8 73.5V88.7M234.5 64.4V78.9M245.5 69.9V79.6M272.2 72.2V77.5M215.2 68.8V80.6M262.9 70.8V78.7M277.0 71.4V78.7M222.5 60.6V83.4M223.5 74.5V75.8M286.2 68.8V78.6M235.0 68.5V75.0M214.4 66.1V75.6M249.2 67.1V77.6M262.5 68.2V80.0M273.2 67.7V76.8M263.0 73.6V76.9M258.6 73.8V78.3M272.2 73.6V79.0M242.1 68.7V79.7M258.3 74.1V87.9M262.0 71.3V82.2M270.9 74.4V80.4" stroke="#7e7e7e" stroke-width="0.6" stroke-opacity="0.6" fill="none"/><path d="M243.5 71.5V74.0M201.8 53.1V74.0M219.0 59.3V74.0M218.3 64.1V74.0M209.4 52.7V74.0M165.9 33.8V74.0M201.4 55.6V74.0M243.6 62.5V74.0M217.0 61.1V74.0M229.8 68.9V74.0M215.2 75.0V105.9M205.9 75.0V135.6M240.5 75.0V90.6M242.6 75.0V80.1M231.6 75.0V91.2M222.2 75.0V101.3M221.7 75.0V95.8M231.7 75.0V95.2M230.4 75.0V88.0M242.1 75.0V81.1M213.6 75.0V106.2M233.8 75.0V85.1M229.1 75.0V90.6" stroke="#8a8a8a" stroke-width="0.6" fill="none"/><path d="M175.8 49.4V74.0M161.9 31.3V74.0M179.4 50.9V74.0M196.8 56.7V74.0M221.8 58.2V74.0M194.9 52.1V74.0M161.4 33.8V74.0M210.2 58.6V74.0M243.9 62.7V74.0M167.3 44.0V74.0M242.2 75.0V90.3M212.7 75.0V110.8M237.3 75.0V81.9M217.3 75.0V104.7M235.8 75.0V90.4M225.9 75.0V99.2M205.8 75.0V129.9M243.0 75.0V86.5" stroke="#bababa" stroke-width="0.6" fill="none"/><path d="M243.7 68.5V74.0M200.3 60.0V74.0M225.1 56.6V74.0M163.9 39.8V74.0M228.5 63.0V74.0M190.0 56.3V74.0M191.8 55.7V74.0M181.2 46.0V74.0" stroke="#727272" stroke-width="0.6" fill="none"/><path d="M221.8 55.0V74.0M225.3 65.4V74.0M207.2 56.8V74.0M169.0 47.4V74.0M194.9 53.3V74.0M198.7 54.2V74.0M198.6 53.0V74.0M186.4 56.5V74.0M162.4 39.6V74.0M214.7 75.0V113.1M217.1 75.0V98.5M213.6 75.0V115.2M247.3 75.0V83.0M214.6 75.0V103.6M241.6 75.0V88.2M207.6 75.0V127.1M219.5 75.0V96.9M227.5 75.0V93.2M237.6 75.0V82.1M206.7 75.0V127.3" stroke="#c6c6c6" stroke-width="0.6" fill="none"/><path d="M208.4 60.8V74.0M183.2 47.0V74.0M204.8 59.9V74.0M206.9 52.3V74.0M166.0 36.5V74.0M181.9 53.6V74.0M198.5 52.3V74.0M221.5 65.6V74.0M216.8 57.3V74.0M243.3 65.1V74.0M202.1 50.5V74.0M185.5 54.0V74.0M182.5 50.3V74.0M178.0 50.9V74.0M207.8 75.0V136.7M220.9 75.0V104.3M205.7 75.0V131.0M244.9 75.0V87.6M226.1 75.0V94.6M225.5 75.0V93.4M248.7 75.0V83.9M218.9 75.0V104.5M233.8 75.0V84.4M214.8 75.0V107.9M220.2 75.0V100.1M220.0 75.0V104.8M213.3 75.0V113.0M247.1 75.0V78.4M227.1 75.0V92.1M226.3 75.0V88.5" stroke="#aeaeae" stroke-width="0.6" fill="none"/><path d="M238.8 71.9V74.0M225.8 60.3V74.0M223.3 58.0V74.0M195.2 53.4V74.0M244.8 67.4V74.0M182.1 51.6V74.0M193.9 60.4V74.0M223.5 62.0V74.0M235.9 68.8V74.0M230.4 63.7V74.0M188.7 57.3V74.0M243.9 63.7V74.0M231.2 75.0V85.7M243.8 75.0V79.6M206.0 75.0V130.8M211.3 75.0V124.9M246.3 75.0V86.2M237.3 75.0V87.3M239.2 75.0V89.0M222.1 75.0V92.5M213.7 75.0V108.6" stroke="#7e7e7e" stroke-width="0.6" fill="none"/><path d="M240.9 68.4V74.0M187.6 55.1V74.0M244.2 67.9V74.0M212.7 52.5V74.0M244.6 75.0V90.5M249.6 75.0V78.0M212.4 75.0V114.8M243.0 75.0V87.5M207.2 75.0V127.2M243.1 75.0V86.3" stroke="#d2d2d2" stroke-width="0.6" fill="none"/><path d="M204.4 54.4V74.0M241.1 71.6V74.0M164.7 37.6V74.0M190.5 53.8V74.0" stroke="#666666" stroke-width="0.6" fill="none"/><path d="M233.3 67.2V74.0M215.1 59.9V74.0M196.8 49.8V74.0M197.2 50.0V74.0M208.7 58.5V74.0M166.2 38.1V74.0M178.8 53.2V74.0M198.1 52.9V74.0M243.0 70.4V74.0M200.3 52.3V74.0M189.0 52.1V74.0M219.5 75.0V99.3M230.3 75.0V89.5M216.2 75.0V102.7M226.1 75.0V94.3M240.8 75.0V87.2M209.6 75.0V133.8M248.6 75.0V80.3M213.4 75.0V108.1M206.7 75.0V128.3" stroke="#969696" stroke-width="0.6" fill="none"/><path d="M236.7 63.9V74.0M215.2 59.6V74.0M179.2 52.2V74.0M237.6 61.6V74.0M219.9 60.2V74.0M183.3 51.6V74.0M211.5 55.9V74.0M229.0 65.2V74.0M234.7 75.0V91.0M223.6 75.0V94.9M205.6 75.0V129.1M237.2 75.0V83.6M235.1 75.0V90.0M206.5 75.0V129.3M230.6 75.0V91.1M244.9 75.0V85.6" stroke="#a2a2a2" stroke-width="0.6" fill="none"/><path d="M253.6 71.8V75.6M285.5 73.8V85.5M276.6 70.2V74.9M230.6 72.9V75.2M247.6 69.8V80.4M233.8 66.5V75.8M218.8 72.3V75.0M254.4 72.5V81.7M237.1 69.4V75.3M260.4 67.2V77.6M267.5 73.3V75.5M261.3 62.4V76.4M272.9 72.2V77.5M278.7 64.6V74.5M281.1 69.2V79.9M248.4 70.8V76.6M245.2 72.0V75.8M280.4 71.1V77.5M251.7 69.1V78.0M257.1 69.0V76.7M250.5 72.4V80.7M261.5 68.8V82.4M247.0 71.9V80.8M277.5 70.4V77.3M245.9 70.2V75.8M271.1 71.6V76.9M215.1 66.0V84.0M271.6 71.8V79.4M250.1 69.6V77.9M214.8 64.2V85.5M238.8 67.5V77.3M219.8 66.0V84.0M251.7 68.8V76.3M251.2 72.5V81.7M262.9 62.5V74.8" stroke="#5a5a5a" stroke-width="0.6" stroke-opacity="0.6" fill="none"/><path d="M241.2 71.3V86.1M270.5 70.3V79.1M235.7 73.7V77.1M218.4 68.3V77.2M257.4 68.5V81.2M280.8 68.4V77.7M281.9 73.5V78.1M226.8 63.9V74.8M254.7 69.3V75.1M259.4 65.3V74.9M253.1 68.2V86.0M242.3 67.2V80.1M272.2 68.9V79.9M265.2 72.0V83.3M228.9 68.5V75.0M252.8 71.9V78.6M270.6 60.7V78.7M247.5 67.9V75.1M242.0 71.5V78.1M251.0 64.4V80.9M239.2 70.7V75.1M282.4 64.8V78.9M275.3 64.6V74.9M230.8 74.0V75.6M240.1 73.7V82.5M282.9 63.4V74.9M220.0 70.8V75.4M281.0 71.7V77.3M254.3 67.4V76.0M220.0 72.4V78.9M271.3 71.8V80.4M255.3 72.1V77.9M251.2 70.0V78.3M219.1 69.7V82.5M286.4 71.0V75.8M244.6 72.3V76.3M239.6 65.0V78.7M284.8 67.6V80.3M222.8 68.9V77.8M235.2 71.3V80.1M217.4 69.5V75.6M232.3 70.4V75.6M227.0 70.8V76.9M273.6 73.1V77.1M247.7 67.2V74.7" stroke="#363636" stroke-width="0.6" stroke-opacity="0.4" fill="none"/><path d="M227.6 66.1V81.2M252.8 69.3V79.9M235.2 68.2V76.3M237.4 72.6V86.2M264.3 65.7V78.6M268.6 65.6V88.5M246.2 73.0V78.5M216.1 68.9V80.7M280.6 69.2V83.4M232.0 65.4V82.5M258.6 74.4V77.0M285.2 69.3V79.1M249.3 72.5V80.6M273.5 68.8V76.6M218.9 73.5V84.0M246.6 71.7V78.4M222.3 67.9V75.6M216.0 72.1V79.4M217.1 73.8V77.1M264.8 69.3V79.9M285.6 70.1V79.7M249.6 62.3V76.5M243.3 60.0V74.7M266.0 71.6V79.6M241.0 69.2V77.7M225.5 66.0V76.1M246.4 71.1V76.6M255.5 67.0V78.1M270.8 72.9V83.0M275.6 71.4V77.0M230.7 68.4V77.4M266.6 72.9V80.5M269.0 71.4V79.8M284.2 71.4V82.2M240.0 71.9V77.3M257.1 71.1V75.6M247.2 64.5V77.9M223.6 73.6V74.6M264.9 68.8V76.2M254.0 69.9V77.5M248.4 64.5V82.2M261.2 62.1V76.5M281.0 73.2V74.8M281.5 69.9V77.1M232.8 73.2V76.0M256.4 63.9V79.8M275.8 71.3V76.5M239.6 69.4V79.2M230.0 68.7V75.9M275.1 74.3V74.9" stroke="#8a8a8a" stroke-width="0.6" stroke-opacity="0.4" fill="none"/><path d="M284.0 68.7V78.8M222.8 70.3V82.3M261.0 63.3V80.1M250.8 70.1V79.8M258.8 73.6V82.0M225.4 67.3V74.9M222.8 72.5V77.9M216.4 69.4V77.3M234.9 73.0V80.0M240.8 73.2V76.1M215.1 68.6V79.7M244.4 71.8V75.4M263.5 70.6V77.7M269.1 73.7V79.7M274.9 67.1V75.4M231.2 70.3V78.6M261.3 70.0V80.3M243.2 68.8V80.2M248.8 71.7V75.4M235.3 67.4V76.9M239.4 72.2V77.9M278.2 71.6V84.6M214.1 73.1V75.1M233.8 66.1V77.6M264.5 67.4V78.4M220.9 71.3V78.9M281.5 73.6V80.8M226.4 67.4V78.1M217.6 68.4V76.3M265.5 74.3V75.6M266.8 72.9V80.4M221.4 67.6V78.0M233.8 69.3V76.1M264.8 71.1V80.0M257.6 74.3V80.7M253.9 68.9V76.2M216.2 71.0V75.2M215.0 73.9V75.0M235.0 71.3V79.3M230.9 68.0V80.2M250.3 68.8V81.1M262.2 61.5V80.1M254.3 73.2V78.4M240.5 72.0V78.0M240.2 71.7V80.5M283.7 73.9V76.2M258.4 67.2V79.1M273.6 72.7V77.2M228.6 65.9V79.8M218.0 72.7V76.4M278.8 66.6V78.5M227.3 69.0V80.0" stroke="#969696" stroke-width="0.6" stroke-opacity="0.6" fill="none"/><path d="M275.3 66.7V86.1M234.4 71.2V81.2M215.9 74.3V75.8M214.8 69.7V78.7M220.6 72.2V75.4M247.8 74.1V82.7M257.1 71.6V79.1M246.5 73.3V82.6M239.5 73.8V79.7M235.6 74.1V78.4M282.8 74.4V75.0M274.4 71.5V78.1M271.6 69.4V76.9M232.8 71.6V78.3M246.7 70.5V79.1M261.3 70.0V74.9M227.0 67.7V78.5M267.9 70.2V80.9M273.7 72.5V82.4M248.0 70.2V80.3M217.7 72.4V78.7M220.9 74.2V76.7M218.0 74.1V83.2M249.8 68.8V74.9M247.6 72.3V78.2M252.2 73.2V78.2M240.2 73.7V82.2M271.1 69.8V79.8M227.0 67.0V76.8M240.0 63.0V75.1M259.3 69.8V79.4M237.3 69.6V84.0M267.2 69.8V80.6M215.3 73.1V74.7M283.3 62.4V75.7M251.9 70.6V81.8M251.1 67.8V80.3M286.3 74.1V75.4M274.3 68.1V76.4M218.4 72.2V75.0M266.4 72.3V82.4M286.1 65.7V76.5M235.8 72.3V78.6M285.4 71.7V82.5M284.7 68.5V76.1M251.6 69.1V75.4M267.3 65.1V77.3M233.3 69.6V79.8M220.8 69.7V83.2M239.4 69.1V75.8M272.1 71.5V83.5M226.1 66.3V85.7M244.3 62.2V74.9" stroke="#424242" stroke-width="0.6" stroke-opacity="0.4" fill="none"/><path d="M255.2 68.0V81.6M287.0 69.2V76.1M224.5 74.0V77.1M237.8 73.5V77.1M238.2 68.9V82.7M228.4 67.4V76.0M243.2 70.3V76.3M258.8 71.4V78.5M281.3 74.3V84.8M252.5 64.7V74.6M273.8 68.5V74.6M274.4 72.0V75.0M280.4 70.3V76.4M249.2 73.1V81.3M272.9 72.3V76.8M214.9 73.7V82.6M245.5 71.4V75.3M268.5 74.2V79.2M258.2 69.1V78.7M220.2 67.7V77.1M273.6 71.8V87.5M254.9 69.8V78.5M280.5 63.2V77.0M269.0 64.5V79.9M233.2 69.9V76.9M280.6 70.4V80.8M237.4 72.0V83.3M228.4 71.3V79.4M226.0 68.6V77.9M264.5 72.1V77.7M214.9 72.5V74.5M285.4 74.1V75.6M242.8 61.8V74.6M232.1 63.0V75.8M260.8 72.9V81.7M255.8 68.9V75.4M222.3 69.9V77.7M225.2 70.2V75.7" stroke="#363636" stroke-width="0.6" stroke-opacity="0.6" fill="none"/><path d="M227.9 72.4V77.5M258.0 68.5V75.1M215.8 66.7V80.2M236.3 72.3V76.2M249.7 70.2V75.1M284.3 74.3V90.1M259.0 73.1V76.6M278.4 70.6V76.5M274.4 66.0V81.5M257.2 74.4V76.2M256.5 72.1V79.3M257.8 70.0V78.9M260.3 66.7V76.9M246.2 72.6V76.5M232.5 71.1V76.9M263.9 65.9V78.9M219.0 71.9V80.7M232.1 69.2V79.0M234.1 68.7V81.3M244.9 66.8V84.7M251.1 70.8V75.4M284.0 65.8V85.9M250.6 71.2V82.6M239.9 60.4V76.5M273.6 73.7V90.4M253.2 67.6V85.9M225.5 66.5V77.0M277.2 74.0V78.2M285.1 67.1V77.3M244.9 63.1V80.1M250.6 69.0V80.8M284.9 72.1V77.9M276.8 72.3V81.0M260.4 67.3V76.2M279.8 68.8V80.7M219.2 68.7V75.3M268.5 74.1V80.1M274.6 71.9V77.7M216.4 74.3V77.1M237.0 73.4V81.3M221.2 64.7V79.1M246.9 69.9V83.2M241.3 72.7V81.1M242.5 72.0V76.8M283.1 69.8V76.9M257.6 68.7V75.4M252.9 73.8V75.7M285.2 65.4V76.4M262.9 64.8V78.9M271.4 74.5V78.0M233.4 67.5V75.1M224.5 68.1V79.9M262.9 68.8V74.6" stroke="#727272" stroke-width="0.6" stroke-opacity="0.4" fill="none"/><path d="M214.1 74.2V74.5M259.0 73.7V75.8M250.2 71.3V78.6M243.7 71.3V78.8M255.4 73.5V75.8M216.2 72.4V79.3M254.0 74.1V74.8M279.5 73.8V75.0M251.3 72.7V89.9M227.0 72.1V74.6M227.0 74.1V77.7M238.4 72.4V77.0M244.2 72.8V75.6M233.8 69.4V87.4M233.8 65.5V81.3M257.4 69.7V77.3M270.8 69.1V81.7M226.6 74.1V81.6M277.7 73.1V83.4M220.7 70.5V77.1M239.6 72.2V83.2M276.8 73.2V74.6M276.2 72.2V79.0M271.7 73.2V81.5M267.6 74.3V76.9M283.3 71.3V81.1M230.3 69.3V80.1M216.1 73.1V90.6M232.9 70.1V79.6M222.6 72.6V79.9M255.1 73.6V74.8M249.0 66.3V83.9M251.8 72.2V78.1M223.0 65.4V83.4M282.8 70.0V82.3M254.5 73.9V80.5M235.6 68.2V83.2M235.5 72.9V76.8M279.8 71.1V78.9M282.5 74.1V79.1M241.8 68.8V75.4M269.2 64.1V78.6M243.2 64.6V80.4M274.1 74.0V77.8M269.2 68.9V78.5M229.1 74.1V75.0M217.1 66.2V85.4M257.1 70.0V75.9M219.4 68.0V76.6M268.2 71.5V75.3" stroke="#5a5a5a" stroke-width="0.6" stroke-opacity="0.4" fill="none"/><path d="M286.4 73.2V76.0M237.2 70.7V77.4M279.0 74.5V76.5M263.4 71.5V79.0M241.0 66.5V76.8M273.8 70.8V76.3M224.5 74.3V80.9M286.4 71.0V77.2M216.9 62.1V76.5M241.2 66.3V78.2M253.9 72.4V78.1M218.3 68.1V78.1M222.6 67.9V75.6M266.8 66.1V74.7M253.7 68.1V77.0M245.8 70.2V78.1M244.9 62.4V77.9M268.6 72.3V76.1M229.2 70.5V78.3M252.0 65.6V77.8M269.4 68.7V78.5M234.3 67.2V74.5M244.9 67.7V76.3M269.6 70.0V78.2M231.9 72.1V75.5M282.6 69.9V78.5M285.6 73.3V77.2M280.3 64.1V77.7M273.5 68.0V76.0M219.6 64.8V77.5M226.9 68.9V81.6M225.2 71.4V77.7M217.3 70.8V75.3M227.2 69.0V89.7M261.1 64.3V76.0M223.9 73.9V76.4M228.4 71.3V81.0M254.7 69.8V77.2M231.3 73.6V75.3M234.9 71.4V77.5M262.3 63.3V84.1M271.6 68.3V76.6M227.7 66.8V79.5M261.2 72.1V74.6M245.9 71.4V77.4M248.6 67.3V75.9" stroke="#7e7e7e" stroke-width="0.6" stroke-opacity="0.4" fill="none"/><path d="M249.2 72.6V85.2M246.4 73.0V79.6M246.6 73.1V75.6M258.0 69.9V75.4M237.0 66.6V80.3M224.6 71.4V75.5M227.0 74.1V84.6M256.3 64.5V76.1M268.9 69.0V79.5M238.7 65.4V81.5M230.5 69.9V74.9M250.0 69.9V77.0M257.7 73.6V81.4M227.5 70.3V76.2M249.9 74.4V79.1M231.5 71.7V82.5M271.8 74.3V75.6M282.4 73.3V81.5M231.2 70.3V78.3M220.0 70.4V76.4M269.4 72.6V76.3M235.2 72.8V76.3M244.0 69.0V77.2M257.7 65.3V82.5M246.9 66.8V76.7M227.2 70.3V81.7M214.5 72.8V76.8M278.5 66.7V82.8M269.2 73.1V82.9M250.8 66.1V83.6M267.9 74.2V79.6M235.3 73.7V79.1M266.4 71.7V82.4M266.5 73.2V83.9M215.5 72.7V82.4M262.8 73.9V75.7M240.9 71.4V77.5M252.7 65.0V80.4M286.8 64.9V74.5M259.9 68.1V77.5M216.4 69.9V76.5M216.9 74.2V81.0M276.7 62.4V81.8M250.8 64.8V74.7M219.6 66.1V83.3M240.8 71.1V74.5M282.6 73.4V84.8" stroke="#969696" stroke-width="0.6" stroke-opacity="0.4" fill="none"/><path d="M264.0 68.9V82.3M267.3 67.1V78.1M256.5 69.1V80.8M216.5 70.0V76.9M273.0 64.8V77.0M257.3 68.8V82.1M263.3 72.8V80.1M223.3 62.6V76.4M270.0 71.3V82.7M274.7 74.1V81.0M277.6 74.3V75.2M261.9 69.4V75.4M241.7 73.3V75.6M219.1 72.4V78.9M275.0 71.1V75.0M230.0 72.4V82.2M252.0 70.3V76.1M279.1 62.3V75.6M271.3 71.8V78.1" stroke="#a2a2a2" stroke-width="0.6" stroke-opacity="0.4" fill="none"/><path d="M221.2 68.6V75.9M261.3 71.4V78.6M269.3 70.7V79.4M275.0 72.1V76.7M220.1 72.7V78.9M222.8 72.6V80.1M239.1 74.4V81.0M266.3 65.5V76.1M283.4 65.1V79.3M255.4 66.5V78.5M239.5 72.3V84.4M266.6 73.0V79.2M217.5 72.7V80.1M246.5 66.2V76.5M252.8 62.8V85.5M235.8 66.9V77.6M286.6 67.6V80.2M260.0 74.2V76.8M269.6 74.3V76.7M218.0 72.4V83.5M219.8 72.4V75.6M280.9 72.1V75.0M224.9 72.2V80.2M227.7 72.0V80.5M215.7 70.2V76.3M269.1 62.4V75.2M279.7 65.3V76.2M236.2 72.9V82.4M273.7 66.3V75.6M253.3 65.4V80.3M284.7 68.6V77.7M248.6 73.9V77.6M238.3 65.9V77.4M260.6 72.5V74.8M281.0 68.5V76.9M259.4 68.4V82.8M284.0 74.0V82.6M226.9 73.7V76.7M271.4 67.6V74.6M264.7 72.4V75.3M269.1 69.1V77.9M282.7 70.0V79.7M216.9 72.6V84.0M280.3 69.8V76.5" stroke="#8a8a8a" stroke-width="0.6" stroke-opacity="0.6" fill="none"/><path d="M254.0 71.2V78.7M232.2 69.9V76.0M247.8 72.7V76.2M281.3 69.6V79.8M248.7 65.0V83.9M272.6 66.4V87.3M255.4 69.2V79.8M219.5 63.6V82.3M274.8 73.9V78.6M278.3 62.3V84.6M272.7 69.6V78.4M263.4 68.3V76.4M228.1 68.6V77.7M226.1 69.3V74.9M254.9 65.9V77.3M231.5 70.1V79.0M256.9 71.1V76.7M232.1 74.0V77.0M214.5 68.0V75.3M264.4 70.6V75.8M249.4 70.3V81.0M261.5 68.8V86.8M237.4 73.1V74.9M222.1 69.0V88.3M256.8 64.7V82.3M280.1 70.6V89.1M220.3 70.5V83.8M219.8 68.6V78.0M276.1 74.4V77.8M285.4 71.3V75.2M244.5 65.8V80.2M242.3 72.7V82.5M244.2 72.8V80.9M232.6 73.4V82.4M221.8 69.1V85.7M261.7 60.4V87.7M250.6 73.7V80.8M274.6 73.6V77.9M262.0 74.1V86.0M240.8 72.7V75.6M223.8 72.8V86.8M270.8 71.2V79.2M233.7 65.4V78.9M269.9 73.0V76.1M243.7 69.8V82.4M271.4 65.6V77.0M261.2 67.3V76.2M273.3 74.1V87.1M281.4 73.6V82.9M227.9 73.7V75.5M278.4 74.3V75.2M271.9 66.4V80.7M243.5 73.5V75.4M252.7 69.9V84.3M245.8 72.5V75.8M284.6 71.1V77.0M223.4 73.2V83.8" stroke="#424242" stroke-width="0.6" stroke-opacity="0.6" fill="none"/><path d="M233.2 69.2V78.4M281.2 69.0V75.1M257.1 71.7V79.4M266.6 73.5V80.3M228.9 65.7V81.1M268.0 70.8V79.3M218.6 72.9V76.0M235.4 68.6V77.5M251.1 72.2V81.6M235.7 73.1V80.9M269.4 70.5V81.6M265.3 64.5V77.9M272.0 72.5V79.0M241.0 73.9V88.5M284.4 72.3V85.2M241.2 69.7V77.3M231.1 70.1V75.6M285.7 74.2V79.1M274.3 71.5V80.7M232.5 73.9V79.5M224.6 73.9V75.4M275.9 70.9V82.3M221.7 71.6V80.0M222.1 63.5V79.6M249.8 74.0V79.6M245.2 62.8V80.3M265.1 69.4V80.0M235.6 73.2V75.9M233.9 73.5V79.2M268.4 73.6V78.2M269.3 70.6V84.7M234.5 69.1V74.7M278.7 74.0V80.2M262.8 66.9V83.3" stroke="#666666" stroke-width="0.6" stroke-opacity="0.4" fill="none"/><path d="M223.6 68.0V79.7M279.5 74.3V77.0M237.3 68.4V84.8M235.1 64.5V79.1M283.6 68.1V75.2M220.5 74.1V75.0M246.6 69.5V81.1M272.4 62.6V76.8M251.1 73.0V78.9M266.6 70.5V82.5M252.4 71.3V76.1M260.1 73.5V92.9M235.8 73.1V85.1M214.8 67.5V77.3M267.6 72.3V85.8M284.8 65.9V79.3M277.6 71.8V79.2M230.7 68.5V79.7M240.6 68.5V74.7M286.5 69.5V75.4M268.3 73.3V83.7" stroke="#a2a2a2" stroke-width="0.6" stroke-opacity="0.6" fill="none"/><path d="M225.0 71.1V79.2M233.1 69.9V86.0M244.0 68.7V75.5M263.4 63.5V75.9M240.5 64.1V74.8M225.9 67.3V76.8M242.7 74.4V75.0M240.8 64.8V78.8M258.2 66.7V77.2M242.1 73.6V75.0M264.2 73.3V82.8M236.9 69.0V76.4M272.0 73.0V74.7M246.6 68.2V81.9M257.9 64.3V84.0M232.9 74.4V78.2M268.1 70.0V86.0M262.2 71.0V75.7M220.6 72.6V78.0M267.9 63.4V75.1M283.0 68.3V80.4M256.6 73.5V85.4M215.6 69.8V75.6M254.4 64.7V75.6M278.1 73.5V74.9M254.2 68.9V74.7M240.3 70.1V74.7M275.8 74.2V81.6M237.2 67.5V75.2M226.9 74.1V87.3M281.8 70.2V76.4M233.5 73.0V79.7M230.5 61.5V81.0M228.4 73.0V78.1M250.3 73.0V76.1M240.9 66.9V78.6M262.7 73.9V76.3M278.4 67.7V77.4M232.6 73.0V77.3M261.2 72.7V75.0" stroke="#727272" stroke-width="0.6" stroke-opacity="0.6" fill="none"/><path d="M248.3 66.6V80.2M239.8 70.9V75.1M238.5 69.2V74.8M282.0 65.9V80.2M239.8 70.0V77.1M266.2 66.5V77.2M260.9 68.7V81.1M271.6 71.1V76.5M215.1 64.9V77.8M259.9 70.2V80.0M234.9 73.2V81.0M259.0 69.6V79.5M244.6 67.9V80.2M254.1 61.7V77.3M235.3 67.6V80.6M268.0 66.0V76.9M220.2 70.5V75.7M228.5 73.1V75.2M218.5 73.7V83.9M278.5 72.6V79.8M221.7 70.2V77.6M257.0 67.0V82.1M260.0 74.3V74.6M259.5 71.1V77.3M254.5 73.0V86.8M234.4 72.5V77.2M245.7 74.0V82.5M253.0 70.5V79.1M261.8 65.8V78.6M270.3 71.5V75.8M267.7 59.4V81.6M215.0 72.8V77.9M252.3 67.4V82.7M220.5 70.2V75.1M265.0 70.5V81.2M274.1 72.9V76.5M227.6 73.2V81.3M265.2 70.3V76.4M250.1 72.4V84.2M253.4 73.9V77.5M285.5 73.9V76.0M275.0 71.1V82.4M235.2 72.4V89.6M255.0 70.9V75.7M286.7 71.0V78.2M284.9 73.6V82.2M275.9 65.6V79.8M248.4 73.2V79.8M260.1 69.9V84.4M261.4 72.0V79.6M286.7 64.3V77.1" stroke="#4e4e4e" stroke-width="0.6" stroke-opacity="0.4" fill="none"/><path d="M220.1 74.2V83.8M246.0 67.6V76.0M220.8 72.9V75.9M248.6 70.9V78.2M282.5 66.4V89.4M236.8 72.1V74.8M275.4 70.6V75.5M224.7 70.8V75.2M262.8 74.3V78.4M244.2 70.1V75.2M277.8 66.4V77.2M258.3 72.2V83.5M245.9 67.9V78.0M248.6 71.7V84.0M263.9 74.1V85.4M220.1 71.0V75.5M217.4 68.7V76.6M279.9 68.2V79.6M217.0 69.5V81.0M218.6 73.3V80.5M240.8 67.4V78.7M215.3 68.5V76.5M286.8 71.1V76.1M245.9 68.4V78.1M268.4 60.4V83.8M271.0 70.1V82.4M259.5 68.1V84.6M242.2 68.3V83.4M257.3 68.4V76.4M255.9 74.1V80.5M280.0 64.2V75.6M220.9 70.5V77.2M218.1 68.3V80.2M266.4 61.5V74.7M269.7 72.0V75.5M264.5 72.1V78.2M250.5 70.7V83.3M248.4 70.4V76.1M220.8 70.6V75.8M232.7 72.3V76.8M254.9 71.0V80.7M261.3 73.8V80.7M235.1 67.7V79.6M285.8 70.7V75.1M237.7 72.5V75.9M216.4 71.5V76.7M275.3 71.1V79.8M254.1 66.5V75.1M232.6 70.7V79.4M258.3 71.7V77.1" stroke="#4e4e4e" stroke-width="0.6" stroke-opacity="0.6" fill="none"/><path d="M225.5 68.9V75.6M236.1 69.6V76.0M215.4 70.7V78.1M279.3 73.3V82.6M217.2 66.2V77.8M272.6 70.9V75.4M239.2 65.7V77.7M226.9 73.7V77.8M246.0 68.6V78.7M214.9 70.0V76.1M286.7 65.3V90.5M272.1 69.2V81.4M248.9 70.8V81.5M261.8 72.8V80.7M258.8 69.5V78.7M228.0 65.3V79.5M264.7 72.2V75.9M246.7 68.5V80.8M265.0 68.3V81.2M251.3 73.7V77.7M263.4 68.7V81.5M258.4 67.9V76.1M260.7 72.8V76.0M239.1 66.2V83.5M252.8 68.4V86.5M248.6 71.1V75.2M231.4 71.8V79.6M244.1 70.9V76.7M223.7 72.7V78.7M260.4 73.4V83.3M281.0 61.2V77.1M226.8 64.7V86.2M244.6 72.3V78.1M217.3 73.9V86.9M262.5 70.6V81.1M219.6 70.9V75.4M230.2 71.6V78.5M272.3 68.9V76.2M245.5 73.5V86.2M217.8 66.6V77.0M280.5 71.4V74.9M268.1 73.8V78.2M221.8 71.3V81.0" stroke="#666666" stroke-width="0.6" stroke-opacity="0.6" fill="none"/><path d="M242.0 73.9V75.7M240.7 71.9V75.7M239.2 71.5V76.3M241.6 72.2V76.2M239.5 71.5V80.1M238.5 61.3V82.7M243.8 69.9V78.2M236.9 72.8V77.2M237.7 68.0V78.2M237.0 68.3V79.1M236.5 71.9V79.5M238.1 74.1V77.6M241.4 72.8V83.3M241.3 73.3V78.1M238.3 74.4V78.3M241.4 73.1V77.0M286.4 70.7V78.2M284.6 71.2V76.6M282.0 72.6V77.9M285.1 72.5V74.7M278.6 69.0V84.1M282.3 69.8V77.8M278.2 68.4V79.4M280.5 68.0V76.5M281.0 71.7V80.5M281.9 71.7V77.9M286.2 72.8V77.0M276.4 72.5V83.9M284.9 72.3V78.4M278.6 73.4V80.3M279.8 66.0V78.9M277.0 71.0V78.2M279.1 73.5V76.2M280.6 74.4V76.8M284.6 69.6V79.3M275.1 66.5V80.1M275.3 74.1V77.0M275.7 72.2V74.6M286.8 70.8V79.6M283.5 70.0V81.0M278.0 74.3V78.9M276.5 73.9V77.9M282.0 70.5V80.6M285.6 74.0V79.5M282.4 72.6V77.9M276.0 68.9V80.7M280.5 68.7V77.8M279.8 70.9V78.4M283.3 69.8V84.3" stroke="#060606" stroke-width="0.6" stroke-opacity="0.8" fill="none"/><path d="M237.6 70.1V81.6M240.6 71.2V75.7M237.4 73.8V74.8M237.2 66.3V76.7M238.0 72.3V79.2M239.6 69.3V78.3M239.5 72.4V82.1M240.8 69.6V80.1M238.9 73.3V81.3M241.9 72.1V75.4M282.8 74.1V76.3M279.4 74.3V82.1M280.8 67.5V74.7M281.3 71.1V78.6M279.2 70.8V78.2M283.4 67.1V75.3M277.3 73.7V74.8M280.3 71.6V74.5M282.4 71.4V76.2M278.9 68.1V77.0M278.3 71.4V76.2M285.1 74.1V85.8" stroke="#2a2a2a" stroke-width="0.6" stroke-opacity="0.8" fill="none"/><path d="M237.6 74.1V75.0M237.3 72.1V75.7M241.0 72.0V78.1M239.8 67.5V76.4M237.2 70.6V81.2M239.8 73.0V77.9M236.8 71.4V76.9M240.9 69.7V79.0M237.5 74.0V81.5M240.9 68.0V81.8M236.9 69.5V84.1M240.0 72.0V75.8M242.9 74.0V76.9M281.8 72.8V84.0M286.7 72.0V78.0M286.8 74.2V77.9M286.1 67.2V75.5M285.7 71.0V76.6M284.7 74.5V75.0M279.6 66.0V77.3M277.2 72.0V79.4" stroke="#060606" stroke-width="0.6" stroke-opacity="0.6" fill="none"/><path d="M243.7 74.4V77.7M243.8 70.0V75.4M241.6 73.8V83.1M240.7 70.2V76.3M236.6 73.8V82.3M236.8 67.9V74.8M243.2 73.2V78.6M239.1 73.8V74.7M238.0 71.7V77.1M242.9 68.7V75.3M237.5 72.6V76.8M239.3 71.0V80.3M237.9 73.4V75.3M241.5 69.7V77.4M240.4 73.3V77.2M239.7 72.8V76.8M242.6 68.2V77.6M240.5 71.8V74.9M236.0 68.2V80.7M237.3 71.6V81.4M280.5 69.7V82.6M287.0 72.2V76.4M275.3 72.2V79.8M282.2 73.7V77.2M279.7 71.2V85.9M280.1 72.1V78.1M284.2 74.0V78.0M285.6 72.8V79.6M278.1 69.8V79.9M278.0 70.3V74.9M280.3 71.2V80.3M277.5 71.4V77.8M285.5 73.4V84.5M282.3 69.5V78.3M280.1 72.7V75.9M286.1 71.4V83.7M281.1 73.8V75.0M284.3 66.7V85.1M285.2 73.6V84.4M282.1 69.2V75.5M277.2 72.4V82.3" stroke="#121212" stroke-width="0.6" stroke-opacity="0.8" fill="none"/><path d="M242.7 66.9V80.5M243.3 72.8V82.0M242.0 73.9V79.0M239.5 70.0V84.5M238.9 69.5V77.9M241.1 71.5V75.2M280.6 72.9V74.5M276.6 73.0V75.2M280.0 71.4V77.7M277.1 73.9V79.6M277.6 69.2V74.8M276.8 74.1V79.0M284.3 74.0V74.8" stroke="#2a2a2a" stroke-width="0.6" stroke-opacity="0.6" fill="none"/><path d="M241.4 71.2V77.3M243.8 70.4V78.4M243.4 73.3V79.7M243.3 70.4V80.7M236.2 70.3V85.4M239.4 72.9V83.1M242.9 74.1V75.4M236.4 73.6V83.8M277.4 74.5V81.0M276.3 72.9V74.8M283.2 74.5V77.8M279.7 72.9V86.4M281.5 70.4V79.8M278.2 73.7V78.4M277.9 73.0V75.2M280.9 71.9V93.1M281.9 72.5V76.2M285.6 72.9V76.2M281.1 72.1V82.0M286.8 72.0V88.6" stroke="#1e1e1e" stroke-width="0.6" stroke-opacity="0.6" fill="none"/><path d="M237.1 74.0V77.0M237.2 73.0V80.0M237.4 73.9V78.7M240.9 71.3V81.4M237.3 70.2V81.0M241.5 71.2V78.4M239.4 69.9V77.5M243.4 68.7V75.7M239.9 69.2V78.0M280.3 72.7V76.6M276.2 72.3V77.9M282.5 69.2V77.8M282.7 74.2V77.3M280.8 72.4V79.4M282.1 72.6V75.5M281.8 71.8V81.7M286.1 74.5V79.8M284.2 69.3V77.5M278.0 72.2V79.0M278.8 67.8V77.0M284.4 73.6V75.8M284.2 70.4V76.0M284.4 67.8V75.6M278.8 70.1V76.5M279.5 66.8V78.0M281.3 73.5V82.5M276.5 71.4V79.2M285.1 74.0V81.9M282.0 72.9V77.8M276.5 68.0V76.3M285.0 72.3V76.4M285.5 69.9V75.4" stroke="#121212" stroke-width="0.6" stroke-opacity="0.6" fill="none"/><path d="M240.2 69.7V75.3M241.2 68.2V75.2M242.1 73.2V81.6M243.5 67.6V75.2M237.0 72.4V75.0M236.7 73.9V83.0M243.1 73.0V75.3M242.4 73.5V82.3M238.3 68.8V75.1M238.2 72.0V75.9M238.8 70.7V79.5M236.2 73.8V80.9M239.0 74.4V82.1M241.9 70.0V77.5M286.0 73.7V76.7M276.6 66.4V78.7M275.0 66.7V78.6M279.0 74.3V79.0M278.5 74.0V83.4M276.7 72.0V76.1M278.0 73.4V76.4M280.9 73.4V79.0M286.3 74.1V77.2M284.7 70.0V77.4M281.1 74.0V75.3M284.4 69.6V79.5M284.8 72.8V82.0M283.1 71.9V75.9M275.5 63.3V79.3M283.7 74.0V79.9M277.4 70.6V78.8M275.4 74.4V79.2M275.6 74.1V75.0M275.6 72.7V80.0M282.7 74.4V74.8M277.8 72.8V77.8M286.3 65.8V74.8M279.8 72.6V84.0M281.4 71.4V76.3M277.8 71.8V76.0M285.3 72.2V77.9M283.7 72.2V75.7" stroke="#1e1e1e" stroke-width="0.6" stroke-opacity="0.8" fill="none"/><path d="M49.9 71.7V77.3M92.2 71.9V75.2M94.0 73.4V78.9M41.9 73.1V75.6M157.1 73.4V74.7M54.6 73.8V76.2M42.3 72.0V76.6M94.1 71.2V75.7M166.1 73.2V79.1M184.4 72.1V75.5M75.0 73.4V75.6M185.1 73.0V75.3M173.0 71.9V76.9M137.6 73.8V74.6M45.3 73.1V76.2M84.5 73.1V77.1M131.4 74.6V75.9M162.8 73.2V79.8M89.0 70.5V76.1M93.9 73.0V75.8M140.5 72.8V75.6M64.8 72.7V75.1M158.4 74.0V77.0M94.9 72.7V75.1M136.3 72.9V75.7M166.8 73.4V77.0M108.2 72.9V75.4M78.4 73.3V75.8M120.6 73.7V76.4M150.7 72.3V79.0M170.8 74.2V77.5M189.2 73.1V77.7M53.7 73.5V75.1M136.6 73.3V76.2M169.2 71.4V77.0M148.1 74.4V78.0M113.3 73.7V76.6M48.7 73.3V79.0M190.9 74.0V74.9M118.0 73.3V74.8M152.2 73.8V77.9M177.4 73.6V74.9M108.2 73.1V75.1M194.5 73.3V75.5M42.5 74.1V76.1M200.8 72.6V75.1M108.1 71.5V75.0M142.2 74.5V81.2M199.3 73.9V76.9M112.1 73.6V75.7M37.9 73.1V75.2M145.2 73.5V76.2M188.0 72.5V78.1M153.2 73.6V76.6M179.6 72.1V75.4M112.4 72.2V77.1M90.6 74.3V75.2M71.9 74.2V74.7M171.9 70.7V77.4M100.2 72.0V74.9M39.1 72.6V75.5M73.3 73.5V75.4M196.0 74.5V75.8M101.0 73.0V75.7M52.2 74.2V74.9M137.5 73.6V75.9M124.6 74.5V77.7M83.4 71.8V76.1M178.5 74.5V76.4M184.4 73.1V76.1M110.9 66.7V76.8M203.8 73.3V76.5M85.8 73.2V78.6M145.2 74.0V74.7M110.2 72.7V76.1M110.7 72.7V76.7M116.3 71.7V76.0M115.7 68.3V79.2M112.5 72.1V75.5M111.1 72.0V78.8M115.4 72.5V75.8M148.3 72.6V75.3M141.7 70.3V78.7M149.7 68.3V75.5M146.1 72.2V76.5M142.0 73.0V78.3M147.7 71.7V76.8M148.0 72.0V75.8M145.9 74.3V74.8M146.5 74.0V74.7M146.5 74.4V77.5M145.5 72.5V75.0" stroke="#1e1e1e" stroke-width="0.6" stroke-opacity="0.6" fill="none"/><path d="M191.8 74.2V75.4M191.5 72.7V75.1M40.9 72.0V75.9M41.4 74.4V76.3M78.6 73.5V78.9M178.2 71.2V75.3M61.8 74.2V77.3M162.9 73.0V75.8M74.2 70.8V75.8M185.5 73.9V77.4M175.7 74.4V76.4M110.9 72.9V75.8M32.8 72.8V74.8M48.3 72.3V75.6M89.7 71.5V79.7M77.4 72.6V76.1M32.2 71.8V77.8M65.6 73.6V75.0M97.9 74.5V76.4M204.2 73.8V75.1M99.9 73.7V76.1M141.5 73.5V74.9M51.7 70.4V75.0M151.7 74.4V76.4M210.0 74.3V79.2M114.5 71.7V75.4M163.2 72.6V76.5M191.0 74.2V75.6M184.9 74.1V75.5M93.6 73.9V75.3M104.7 72.9V76.0M160.4 73.3V74.9M159.1 72.0V77.2M72.1 73.4V74.8M213.2 73.0V75.7M162.1 72.0V75.1M64.6 70.4V77.2M100.6 68.9V74.9M206.8 70.5V74.8M108.5 70.4V75.6M140.8 71.3V76.5M142.2 72.8V75.2M120.8 71.5V75.9M174.9 73.6V77.8M37.2 72.3V75.2M173.7 74.4V76.5M125.8 72.7V74.8M63.4 73.8V78.1M204.0 74.1V75.6M38.2 73.8V75.1M40.0 72.6V76.7M38.8 72.8V75.7M176.5 74.4V75.5M106.9 73.9V76.3M61.9 73.0V76.1M136.2 69.6V75.3M93.4 71.9V75.2M192.6 74.4V75.3M111.7 70.8V76.0M90.4 73.7V74.7M73.4 73.2V78.9M52.4 71.6V77.0M201.5 74.5V76.6M109.2 74.4V76.2M192.8 73.9V75.9M35.8 73.3V76.7M197.1 73.6V74.7M37.3 73.8V77.1M144.6 69.5V77.1M171.3 72.8V75.2M177.7 73.9V76.7M131.4 72.9V75.2M209.2 72.2V76.2M166.3 71.2V75.0M143.8 71.9V75.0M60.4 71.1V78.0M186.8 73.1V75.7M58.2 72.5V76.1M179.8 74.4V78.6M168.1 74.2V75.6M40.1 72.1V78.0M191.1 70.2V76.8M53.1 71.7V75.3M144.2 73.9V74.7M164.2 72.6V74.8M144.1 73.9V76.1M52.1 68.5V75.0M96.4 69.2V75.0M210.9 72.3V76.2M138.7 71.8V79.1M191.6 71.5V77.5M181.6 72.1V75.5M188.6 73.0V76.7M189.5 73.7V78.1M123.3 73.7V77.8M165.1 72.0V75.2M79.2 72.6V76.1M109.8 74.6V74.7M93.9 74.2V75.7M132.1 71.4V76.3M43.5 71.9V76.4M168.8 73.5V74.8M160.3 70.8V77.2M212.5 72.3V78.2M134.5 74.1V75.7M121.4 72.7V77.6M90.2 72.1V76.0M148.8 74.5V77.2M137.6 74.4V77.9M37.6 74.3V75.2M97.6 74.5V77.0M177.7 73.4V77.2M111.4 72.5V76.1M112.2 73.9V76.1M142.0 74.2V79.7M145.7 73.9V75.7" stroke="#2a2a2a" stroke-width="0.6" stroke-opacity="0.4" fill="none"/><path d="M125.1 72.6V76.6M174.6 72.0V74.7M116.9 73.9V75.7M189.9 74.5V78.2M38.9 74.5V77.3M160.9 74.3V76.1M125.5 72.7V80.0M46.3 73.9V76.9M125.9 71.0V76.1M177.2 72.2V75.5M158.5 74.4V76.5M172.3 72.2V75.1M207.0 72.3V74.6M45.4 70.8V74.8M69.2 70.6V78.0M61.9 73.6V76.8M67.3 73.2V74.9M107.0 73.2V76.5M148.2 73.9V76.8M42.9 74.3V75.9M72.0 74.3V74.8M210.5 71.7V75.6M188.5 73.8V76.7M42.4 73.8V75.9M47.9 73.8V75.5M197.6 73.0V75.5M143.9 73.3V77.2M98.1 72.0V75.0M37.5 73.7V74.9M144.1 73.7V74.9M193.4 72.4V75.1M172.0 74.2V75.0M138.6 72.7V74.8M161.3 69.6V75.9M123.5 72.7V74.8M166.5 74.1V78.9M131.7 72.8V76.2M59.9 73.5V75.6M93.1 74.5V75.0M126.7 72.6V74.7M193.2 74.3V75.8M55.0 74.5V75.8M55.5 72.6V75.3M49.2 72.5V74.7M103.5 70.3V77.6M140.0 72.3V77.0M132.1 72.4V76.9M179.2 72.0V75.1M189.6 68.8V78.0M65.8 74.3V75.5M104.7 74.2V75.2M99.7 74.3V75.6M43.1 73.6V75.1M142.5 74.2V74.8M130.1 74.5V75.9M65.4 73.2V75.1M108.2 72.5V74.9M167.3 73.8V76.7M42.9 73.7V75.0M127.8 73.9V74.7M170.1 72.9V75.3M74.3 73.8V74.8M58.1 74.0V78.4M207.3 74.0V75.2M120.7 71.1V77.5M210.7 72.1V77.8M121.2 72.4V77.6M199.3 73.7V76.7M43.9 71.8V76.2M57.3 74.2V76.5M138.9 74.1V75.7M87.2 73.3V78.2M100.0 73.3V76.2M102.2 72.9V75.0M122.7 74.0V75.7M96.6 74.3V76.0M182.7 74.4V76.3M200.3 74.6V78.5M183.3 73.5V77.8M94.7 71.0V76.7M212.8 72.0V77.6M206.1 71.3V75.4M210.0 72.3V79.9M146.7 74.3V74.9M198.4 73.5V75.7M37.6 73.7V74.7M119.1 73.0V76.0M61.2 72.8V76.1M112.7 74.2V75.2M97.1 73.2V76.6M57.8 72.4V75.9M53.7 70.9V75.8M203.8 72.0V76.8M57.5 74.4V78.8M99.5 71.7V77.1M47.4 72.2V76.3M108.0 73.5V75.9M34.8 72.0V75.3M128.9 73.1V78.4M186.5 73.9V75.5M37.9 71.9V77.7M201.1 72.4V78.9M39.8 74.3V75.5M193.9 74.0V75.7M142.2 74.3V75.7M42.7 73.8V75.0M80.8 74.3V76.6M62.6 73.7V74.6M70.1 73.7V76.4M149.9 73.3V78.2M105.0 70.7V76.8M117.7 74.2V74.9M96.3 71.6V76.0M46.0 74.3V76.2M116.3 72.4V77.1M79.6 73.0V75.8M47.5 72.6V77.5M191.5 71.1V77.1M66.9 74.2V74.8M163.7 71.6V76.3M59.1 73.3V77.1M214.0 71.9V79.0M150.3 69.3V74.7M155.1 74.0V78.3M109.0 70.0V76.4M58.5 74.6V76.7M40.0 73.5V75.1M71.4 74.4V77.5M211.3 73.4V77.5M50.1 74.2V76.6M33.3 73.6V77.1M204.4 72.6V79.0M67.6 73.7V75.4M157.6 74.6V75.9M103.8 73.3V77.1M155.8 73.2V74.9M109.6 71.0V78.0M38.9 74.4V74.8M160.5 74.4V75.9M167.1 72.8V75.7M88.4 73.7V76.3M90.8 73.6V76.3M173.3 73.1V74.7M147.7 73.6V76.5M86.2 74.0V75.2M34.8 73.2V75.3M54.9 71.8V75.5M64.7 74.1V78.2M104.5 72.8V75.1M145.3 72.6V77.2M187.4 73.5V77.1M179.7 73.0V75.0M126.7 74.2V74.8M126.8 73.7V74.6M120.8 74.4V76.2M205.0 73.0V74.9M94.2 74.5V75.6M194.1 69.1V74.8M34.8 72.1V74.9M35.2 70.8V74.6M42.6 74.3V77.5M90.0 73.3V75.1M180.8 74.5V75.8M180.0 72.9V75.9M127.8 72.9V77.4M138.3 73.8V74.6M68.4 72.9V75.1M81.7 74.0V75.7M54.1 74.5V77.0M103.4 74.2V75.1M39.2 74.3V77.7M113.3 74.4V78.2M111.4 73.9V77.5M113.5 74.6V74.6M113.1 71.1V76.7M110.5 71.9V76.3M112.6 71.2V75.8M149.7 73.2V79.0M148.7 72.1V80.1M146.9 73.2V75.4M143.3 71.9V75.8M146.5 72.4V75.1M147.3 68.7V78.1M144.8 74.4V74.8" stroke="#060606" stroke-width="0.6" stroke-opacity="0.4" fill="none"/><path d="M36.4 71.9V75.0M80.2 74.4V75.2M88.6 70.5V76.6M44.9 73.9V75.3M112.5 72.6V75.5M39.2 73.0V75.7M46.3 72.4V75.2M190.1 71.8V74.9M148.3 73.9V75.4M203.9 72.7V75.6M78.8 73.2V74.7M121.5 74.1V76.5M96.0 73.9V76.3M211.6 73.2V77.4M132.4 70.4V75.4M149.2 74.2V75.6M46.6 72.3V77.0M190.8 70.3V75.6M131.4 74.4V76.2M85.1 70.4V78.6M186.5 73.3V75.0M145.2 73.4V74.6M86.6 69.7V78.0M124.4 71.7V76.8M51.4 74.5V75.1M156.4 74.3V77.5M78.1 68.6V78.5M195.8 73.4V78.6M118.4 72.8V76.3M177.6 74.2V76.3M102.1 74.1V75.6M160.4 74.3V75.8M140.5 74.0V74.6M61.5 73.2V78.0M92.3 70.9V79.2M212.3 70.4V76.6M128.3 72.9V75.7M82.7 73.5V77.2M211.2 74.4V78.7M158.4 72.9V76.3M52.7 73.4V78.3M34.5 74.0V74.9M208.4 73.3V75.4M40.8 73.5V76.1M136.6 74.2V74.9M33.0 71.5V76.9M100.7 73.5V76.1M181.4 74.6V77.3M32.8 73.3V79.2M160.8 72.9V76.5M192.4 72.8V75.4M39.0 73.6V75.1M106.6 73.8V75.8M45.3 73.9V75.1M74.8 73.6V75.5M101.4 71.0V78.0M204.8 74.4V76.1M195.1 73.2V80.1M51.6 72.3V76.0M55.0 71.9V75.1M139.4 74.1V74.7M162.8 72.4V77.7M78.9 73.6V77.5M61.9 73.6V76.3M123.5 70.3V75.0M32.0 74.6V75.6M97.6 73.7V75.5M156.3 72.9V74.8M100.6 73.6V76.5M168.3 71.4V75.6M190.7 73.1V75.2M59.7 73.9V75.1M203.9 70.7V77.3M168.2 73.5V76.0M74.2 72.8V79.0M161.5 73.5V75.1M177.3 72.9V75.0M61.3 74.6V77.1M204.1 74.2V76.3M178.7 72.3V77.0M96.0 74.3V76.5M156.2 74.6V74.7M102.7 70.6V76.2M48.0 72.5V76.5M52.7 71.2V75.5M106.0 73.9V76.7M75.4 72.0V75.1M68.3 69.9V76.7M205.3 73.9V78.5M174.3 74.0V78.7M189.0 73.4V79.1M40.1 70.1V76.2M206.3 73.4V75.5M213.5 74.5V77.7M81.0 71.9V77.0M51.6 72.6V75.5M124.4 72.2V74.7M183.0 74.0V75.5M40.1 73.5V76.5M125.6 71.6V75.9M129.1 71.7V75.3M73.0 74.1V74.8M83.9 70.9V75.3M57.9 74.3V75.2M169.8 72.4V75.7M88.9 74.4V75.4M33.0 74.6V75.3M141.8 74.4V75.6M97.0 74.1V75.8M93.6 71.8V74.7M84.3 72.6V77.7M165.1 71.8V76.5M61.8 70.0V76.1M51.2 73.1V76.3M152.9 73.2V77.5M113.2 73.1V76.5M76.5 73.6V75.8M194.9 74.1V75.1M128.2 72.6V76.3M155.3 73.2V76.8M88.2 74.4V76.7M173.9 72.7V77.7M128.2 71.7V74.6M133.5 73.4V75.9M108.8 71.8V79.2M70.0 73.7V75.0M101.0 73.3V75.9M33.4 72.7V75.9M157.1 71.4V74.9M79.7 72.9V76.0M62.1 73.9V76.4M186.2 74.0V74.9M39.2 70.5V78.6M184.3 73.8V76.7M48.1 72.0V77.2M124.4 73.6V76.3M137.6 74.2V75.2M110.3 72.4V74.9M106.0 72.6V74.8M158.4 73.6V75.8M103.5 74.5V76.6M72.3 74.1V75.7M32.6 72.5V75.8M36.8 72.3V75.5M60.2 71.5V76.7M113.2 74.1V75.7M115.1 72.4V79.2M111.6 74.0V75.7M111.6 73.9V75.4M112.5 71.5V78.4M113.5 71.6V76.5M146.5 73.2V76.5M141.5 73.9V75.2M149.9 73.1V75.7M145.1 72.9V79.8M142.8 72.7V76.4M141.7 74.2V75.8M148.7 73.4V75.8M141.7 69.6V75.9M146.2 70.4V75.2M147.2 72.0V75.8" stroke="#121212" stroke-width="0.6" stroke-opacity="0.4" fill="none"/><path d="M71.6 73.7V74.8M89.9 72.4V77.8M194.7 73.2V76.2M52.5 73.1V76.1M141.1 74.4V76.4M77.1 72.3V75.3M170.5 72.8V77.7M70.5 73.4V75.0M85.7 72.8V77.0M109.2 74.3V80.1M158.4 72.8V76.0M111.1 72.7V75.1M208.4 73.6V77.0M165.4 72.8V76.1M196.1 73.8V76.9M120.7 73.0V74.8M35.0 70.6V75.5M48.4 73.9V76.7M113.8 71.9V75.4M120.3 71.8V77.5M183.5 71.3V77.1M176.6 72.0V76.9M155.9 74.4V78.8M88.1 73.7V75.3M194.2 72.5V76.1M34.0 73.9V75.5M96.4 73.6V76.9M190.5 73.5V77.8M190.3 74.4V75.2M184.4 71.7V76.0M171.9 73.9V75.8M79.5 72.8V75.1M58.5 73.0V76.7M120.5 72.2V74.8M34.0 73.5V75.5M195.7 73.6V74.7M172.1 74.6V76.1M212.8 71.3V78.5M147.0 69.9V76.9M41.0 70.7V76.1M142.0 74.0V75.0M74.7 72.7V74.9M34.7 72.9V77.9M105.5 73.1V75.6M81.7 73.8V76.4M48.6 71.6V75.7M192.4 70.2V74.9M94.3 72.5V75.6M98.5 72.4V76.3M32.6 73.3V76.3M47.6 72.1V76.3M157.8 73.2V76.3M182.3 73.2V76.4M76.1 72.6V75.6M135.9 72.9V76.2M50.8 70.9V74.8M197.3 72.5V75.1M41.7 72.6V75.9M189.3 72.8V75.0M151.6 74.5V76.5M110.4 74.2V75.5M154.1 72.4V75.9M144.4 70.6V75.1M169.7 72.5V75.2M38.8 74.5V76.9M110.1 74.6V75.7M128.8 73.5V75.0M46.6 73.0V76.5M171.5 73.0V78.0M147.0 73.4V77.5M88.8 71.2V75.4M106.1 71.6V77.9M152.7 74.6V77.2M78.0 72.6V75.9M66.3 72.4V76.5M179.7 73.9V75.9M64.3 72.5V76.2M73.4 74.2V76.5M85.6 73.8V75.2M130.2 74.3V75.8M58.5 74.0V77.4M90.3 73.4V76.0M75.5 73.4V74.8M142.1 73.4V75.4M183.8 72.8V74.6M125.3 73.8V76.9M70.3 74.5V75.5M183.1 70.8V75.7M59.7 74.3V74.9M90.4 74.6V77.5M175.3 72.1V74.8M212.2 72.8V78.7M56.1 73.1V75.6M159.5 71.6V77.5M113.7 73.7V76.3M111.0 74.0V76.9M78.0 73.8V76.6M178.5 71.6V76.3M33.8 72.9V75.9M210.2 73.8V75.3M149.3 72.2V74.9M122.7 74.5V75.2M141.6 73.1V77.6M99.6 70.9V79.4M75.3 68.8V77.1M35.4 73.4V77.1M148.1 74.0V76.4M198.1 70.1V76.0M181.6 73.8V78.1M182.2 70.0V75.1M116.0 74.0V75.3M192.3 71.6V77.3M161.4 74.4V75.0M52.6 73.6V75.8M132.2 72.4V75.0M105.6 74.2V76.7M203.4 73.2V75.8M44.3 73.9V76.2M199.5 71.3V78.1M65.2 71.4V76.7M68.5 73.8V75.9M173.3 71.9V75.6M192.4 73.1V78.2M168.5 73.1V74.8M149.7 73.1V79.1M80.4 70.0V77.8M108.0 68.4V76.2M83.3 73.4V74.7M164.0 71.2V77.3M72.9 74.4V75.4M165.8 71.4V76.1M159.1 68.1V77.6M129.7 72.9V77.0M173.6 73.7V75.0M154.1 73.2V75.7M37.9 73.9V77.4M42.1 73.7V75.1M104.9 73.5V76.9M203.2 73.9V75.1M116.5 74.0V77.7M110.3 73.8V76.4M113.8 71.5V76.2M115.5 70.2V75.4M113.9 73.0V75.3M111.5 71.9V76.6M114.6 73.9V74.7M114.7 71.3V75.0M111.2 74.0V77.5M144.9 73.1V76.0M143.3 72.3V77.9M149.8 71.0V80.0M145.5 70.8V76.0" stroke="#1e1e1e" stroke-width="0.6" stroke-opacity="0.4" fill="none"/><path d="M76.5 72.8V75.0M78.5 73.1V78.6M67.8 74.4V77.3M106.5 73.6V75.9M114.2 72.4V76.6M205.1 74.5V77.4M121.4 74.1V76.5M153.9 71.9V75.0M146.9 72.0V77.5M189.2 72.6V75.6M189.1 74.1V74.6M132.5 69.6V79.6M54.8 74.6V77.1M181.5 70.9V78.6M65.4 73.4V75.6M121.9 73.9V75.2M115.1 74.3V75.0M113.5 74.0V75.6M175.9 73.1V75.7M57.6 74.0V74.6M103.4 74.1V74.6M67.6 70.6V75.0M70.7 71.0V75.5M134.3 73.3V76.5M63.7 73.5V76.2M40.7 73.0V75.1M95.3 74.4V75.2M195.1 72.1V74.9M59.4 72.3V76.6M32.5 72.9V74.9M152.5 72.4V76.0M159.2 72.7V77.8M61.2 74.4V76.2M194.6 73.5V75.7M107.7 73.0V75.1M176.8 70.8V78.1M62.2 72.3V75.3M108.6 74.4V75.8M33.2 74.0V76.7M172.8 74.2V76.5M191.7 73.6V76.9M38.8 71.5V74.9M166.3 73.8V76.5M190.7 72.1V77.3M43.9 74.1V76.6M127.2 73.9V75.0M53.4 73.7V77.3M61.4 74.3V74.7M153.6 73.6V77.1M121.9 73.4V74.7M107.9 72.6V77.1M51.3 72.6V74.8M139.2 70.8V75.3M43.5 73.0V75.8M140.4 73.6V76.4M176.2 73.0V75.2M206.6 73.6V77.9M110.2 72.0V75.7M62.7 73.7V77.1M56.9 74.3V74.8M154.1 74.2V76.0M76.3 73.5V75.5M127.4 73.5V76.3M106.1 73.5V75.2M195.9 73.9V75.0M45.8 73.3V75.3M82.8 74.0V75.0M149.5 72.2V75.5M129.9 71.9V76.4M123.0 72.8V76.2M149.0 74.2V76.3M176.1 71.7V75.8M97.3 74.3V75.2M157.7 72.0V76.5M126.8 74.6V74.8M107.3 74.0V74.8M32.4 71.9V76.7M64.7 74.4V77.3M161.9 72.3V77.3M148.1 73.6V77.9M84.2 72.7V76.6M128.9 74.3V76.3M110.2 69.8V75.9M110.2 70.1V76.6M116.8 72.7V74.8M115.9 72.7V75.7M114.5 73.2V75.0M110.8 71.1V75.8M114.9 74.6V74.9M115.2 74.5V77.0M111.7 71.0V74.8M148.7 73.8V74.7M142.0 73.4V77.3M148.8 72.3V77.6M146.1 74.6V76.2M149.2 73.0V74.9M141.3 73.2V74.9M144.8 72.6V79.0M148.1 70.3V77.9M143.6 72.6V80.4M147.5 72.7V74.7M145.7 67.6V75.6M143.7 72.9V78.0M145.0 69.9V77.4" stroke="#121212" stroke-width="0.6" stroke-opacity="0.6" fill="none"/><path d="M126.6 74.4V76.9M60.8 72.4V76.4M113.8 74.3V77.3M191.1 69.0V75.9M83.6 74.3V77.4M50.7 73.2V75.9M197.1 74.3V75.6M169.4 71.7V75.6M70.0 74.4V75.0" stroke="#363636" stroke-width="0.6" stroke-opacity="0.6" fill="none"/><path d="M108.4 74.4V76.5M76.3 74.3V75.9M52.6 72.5V75.1M90.8 73.0V74.9M48.7 71.1V76.4M36.6 72.6V75.3M161.6 73.5V75.6M83.8 72.3V76.6M123.3 74.5V76.2M196.2 73.8V75.1M101.7 74.3V75.3M209.5 72.5V74.7M34.2 73.1V77.1M114.5 73.6V75.7M154.8 69.7V77.1M198.7 73.7V75.7M40.2 73.4V74.9M111.8 74.2V75.1M185.0 74.4V76.7M80.8 74.5V75.3M57.6 70.7V75.3M133.1 73.3V76.1M109.8 72.8V76.7M188.9 73.7V76.4M77.9 74.5V77.7M57.4 73.6V78.6M78.8 73.9V75.7M104.5 74.4V77.5M42.8 74.3V74.7M38.8 74.1V74.7M203.7 73.8V76.5M74.5 71.7V78.9M88.7 72.9V75.4M198.2 72.2V76.3M84.3 70.9V75.5M73.5 71.6V77.2M32.8 71.1V75.6M139.9 73.2V74.6M138.6 74.4V76.4M44.9 71.3V77.7M40.1 72.7V76.6M120.2 71.2V77.4M57.5 72.5V75.2M111.7 73.4V74.8M146.9 70.0V75.3M160.2 73.1V76.8M144.1 71.3V76.8M71.9 71.4V75.1M195.0 74.0V78.5M167.9 72.6V76.3M205.0 71.8V75.3M157.9 73.7V75.3M163.4 74.5V75.5M45.9 73.9V77.3M166.2 72.5V75.4M121.9 72.8V76.5M79.5 70.6V74.7M35.4 74.4V76.3M193.3 74.3V75.5M75.6 73.2V76.2M73.7 73.0V77.7M181.9 72.4V77.5M100.7 73.5V75.5M155.9 74.1V77.5M122.4 72.5V76.3M208.7 73.8V75.9M189.1 72.3V75.9M203.9 73.4V79.0M75.9 72.5V75.9M143.4 70.4V74.6M144.9 74.1V76.0M167.0 72.2V75.7M130.3 73.3V79.2M123.7 73.9V75.7M67.6 73.7V79.4M119.7 72.7V75.0M113.2 73.4V75.8M149.7 71.7V76.9M142.1 73.7V74.8M143.5 72.3V75.3M149.2 73.6V77.3M144.1 72.8V76.5" stroke="#2a2a2a" stroke-width="0.6" stroke-opacity="0.6" fill="none"/><path d="M154.3 72.6V76.4M107.7 74.0V78.7M91.7 74.2V75.3M185.7 72.9V76.0M128.2 71.3V74.7M93.0 70.4V75.7M151.8 74.2V77.5M77.8 73.7V76.6M34.1 74.5V79.1M57.3 71.5V75.6M204.3 73.2V75.2M47.3 73.5V75.4M210.4 71.9V76.9M211.4 72.4V75.2M140.9 73.4V76.8M174.7 70.9V76.0M154.7 72.8V75.4M53.1 72.8V74.9M93.9 73.1V76.3M160.7 73.6V76.0M33.7 71.0V74.8M185.0 72.3V76.2M168.7 73.0V76.0M82.1 73.7V76.9M110.0 70.0V78.5M65.2 73.1V74.8M185.5 74.4V75.4M32.4 73.9V76.5M78.1 74.5V76.6M75.3 72.4V77.1M188.7 73.1V74.8M50.9 74.2V77.1M204.3 71.8V74.9M132.2 71.9V75.8M178.1 74.3V76.4M80.7 70.9V74.7M130.7 73.4V77.4M100.0 73.9V77.2M64.8 71.8V75.4M209.1 72.0V78.6M162.3 71.0V75.8M196.9 73.1V75.7M113.1 73.0V77.7M202.3 74.5V77.8M151.1 73.1V77.5M170.9 74.4V75.9M115.9 71.5V76.8M194.3 74.4V75.1M97.9 72.0V75.2M100.5 72.2V74.8M107.1 72.5V77.1M146.4 72.2V76.7M117.7 74.2V75.4M211.3 74.4V74.7M60.0 74.5V76.0M191.0 73.1V77.5M209.5 73.4V77.2M176.6 73.5V76.2M96.7 71.9V74.6M163.4 72.9V77.1M148.3 73.3V74.8M137.6 74.3V75.5M100.4 72.8V76.6M58.5 73.9V77.6M213.9 73.0V76.6M81.6 72.5V74.6M33.0 71.7V75.6M207.8 73.9V75.1M75.7 74.0V75.2M137.0 70.4V74.8M172.2 70.4V77.6M189.7 74.4V74.8M32.6 74.3V75.1M118.6 73.6V76.4M144.5 74.2V76.6M199.6 73.7V80.6M45.5 73.4V75.3M112.2 73.0V75.8M112.2 70.2V77.6M114.2 71.7V76.2M114.3 73.1V76.1M114.2 74.2V77.3M116.6 74.0V77.2M112.0 74.0V74.8M115.7 71.7V76.9M114.9 74.4V76.6M116.8 74.1V79.0M112.3 71.2V77.2M114.1 73.2V78.3M116.5 73.7V74.8M116.8 72.4V75.6M143.7 70.0V80.5M147.0 72.5V77.2M146.7 74.4V75.8M149.8 74.0V77.3M141.4 70.9V78.2M148.8 70.8V77.6M144.3 74.3V80.5M145.2 70.9V74.9M141.7 73.6V75.0M144.2 74.0V78.2M145.7 74.3V75.8" stroke="#060606" stroke-width="0.6" stroke-opacity="0.6" fill="none"/><path d="M139.3 74.0V77.1M165.6 70.5V75.7M81.2 73.4V75.4M140.7 72.3V78.2M118.7 74.2V74.8M197.8 74.5V76.8M195.3 73.2V75.8M197.7 69.0V76.0M108.3 71.2V74.9M196.5 72.0V75.8M45.7 73.0V77.6M118.7 70.1V75.5M85.0 71.9V76.6M114.9 73.2V74.7M90.2 73.7V74.7M175.0 74.3V77.8M99.6 73.3V77.4M140.4 74.6V74.7M207.0 73.9V76.9M99.9 71.1V76.8M34.3 72.2V75.5M131.8 72.2V75.3M189.1 74.3V77.0M191.4 74.1V75.5M49.0 72.2V74.9" stroke="#363636" stroke-width="0.6" stroke-opacity="0.4" fill="none"/><path d="M112.1 68.8V80.6M149.4 72.4V75.2M149.6 73.7V74.9M147.7 72.9V76.9" stroke="#2a2a2a" stroke-width="0.6" stroke-opacity="0.8" fill="none"/><path d="M114.6 71.5V78.1M114.3 74.2V75.8M112.7 71.3V75.0M110.2 74.0V74.8M111.9 74.0V76.0M112.7 71.1V75.9M147.6 74.3V76.4M149.8 71.7V77.0M144.2 73.4V77.5M148.2 74.2V77.3M146.0 73.4V76.7M142.4 73.9V77.5M142.7 71.9V76.2M148.2 73.5V78.2M143.8 73.7V77.8M144.4 72.0V77.2" stroke="#1e1e1e" stroke-width="0.6" stroke-opacity="0.8" fill="none"/><path d="M111.8 73.0V75.9M113.8 69.4V78.3M147.5 74.4V79.1M146.4 72.9V75.9M148.0 72.9V77.2M143.8 72.9V79.1M147.9 73.0V75.3M150.0 74.6V75.6M147.5 70.8V78.3" stroke="#060606" stroke-width="0.6" stroke-opacity="0.8" fill="none"/><path d="M113.7 72.8V75.0M111.3 69.6V75.2M113.3 72.8V75.0M116.1 72.3V76.6M112.1 73.9V75.0M114.9 73.8V78.2M112.3 72.1V75.8M142.7 73.7V77.5M143.6 71.0V75.0M143.9 72.1V77.0M142.1 72.9V78.2M144.2 73.6V75.0M143.2 71.0V75.7M141.3 72.5V76.1" stroke="#121212" stroke-width="0.6" stroke-opacity="0.8" fill="none"/><rect x="32" y="73.2" width="255" height="2.8" fill="#0a0a0a"/><rect x="241" y="118.3" width="41.8" height="2.4" fill="#111"/><text x="261" y="131.9" text-anchor="middle" font-size="10" font-family="&quot;Liberation Sans&quot;, sans-serif" fill="#222">10 mins</text><path d="M30.3,140.3 L35.5,149.5 L30.3,147.8 L25.1,149.5 Z" fill="#111"/><rect x="29.35" y="147" width="1.9" height="5.4" fill="#111"/><path d="M373.0 73.0V85.7M495.6 67.3V82.3M506.6 71.3V77.3M353.3 74.4V85.0M546.8 73.7V79.8M513.2 66.3V81.1M500.1 73.0V83.0M516.9 72.1V86.0M427.2 67.6V86.7M394.8 70.9V82.4M445.4 72.5V84.8M575.2 67.0V78.4M426.8 73.7V78.7M413.6 70.9V85.4M419.1 72.0V85.8M581.3 66.0V83.7M541.1 67.9V78.2M508.2 66.5V78.2M497.2 72.0V77.5M489.4 73.9V84.6M372.3 66.0V83.1M463.3 68.9V80.5M550.9 65.8V80.7M400.5 73.2V77.3M460.2 69.5V80.3M385.6 67.5V86.0M387.6 67.2V83.3M354.8 71.7V82.9M593.1 70.4V81.9M324.7 73.3V80.5M323.3 71.9V77.5M396.7 71.7V79.8M352.5 74.7V80.9M504.4 73.4V82.2M341.8 73.8V81.9M503.4 71.5V81.7M570.8 72.7V80.8M544.8 74.8V78.0M447.7 74.3V80.3M491.7 75.1V82.2M459.7 70.6V80.5M453.0 74.4V80.0M582.8 69.9V80.9M556.2 70.7V80.8M546.4 72.5V81.2M425.1 73.3V76.6M540.5 71.6V80.0M440.4 73.1V80.1M552.3 71.4V80.2M476.0 71.0V79.8M470.9 75.2V80.8M325.0 75.0V77.0M579.9 74.8V80.5M386.9 71.9V79.4M337.0 72.8V80.4M366.4 73.3V80.2M550.4 70.1V78.9M359.7 72.0V77.9M542.8 71.3V79.1M370.4 70.5V78.4M544.6 74.2V76.8M551.3 74.9V76.3M589.3 70.6V76.8M320.2 71.7V81.5M382.3 74.8V80.0M472.5 71.9V81.5M450.8 73.4V78.6M495.6 72.2V80.6M581.1 74.8V80.2M489.4 73.0V78.9M385.1 75.4V79.4M397.8 70.1V78.6M393.0 73.4V82.2M566.0 71.8V78.4M508.8 73.8V76.7M420.3 74.3V82.2M499.7 74.2V76.4M354.2 74.2V81.1M595.1 72.6V78.1M417.4 71.3V79.2M366.7 73.0V82.2M415.3 75.3V81.2M573.0 75.1V80.9M482.9 72.4V77.3M477.3 70.1V82.0M453.4 73.3V77.9M532.9 72.4V80.4M455.7 75.3V78.7M452.1 71.5V81.5M563.3 72.2V80.3M348.7 74.5V76.5M367.2 70.3V80.1M355.2 71.1V81.7M596.4 71.2V76.6M416.1 74.6V80.3M415.9 74.8V81.7M544.9 73.7V78.9M389.3 70.3V79.6M457.7 73.5V79.3M499.5 74.4V76.4M490.2 74.2V81.1M468.6 74.7V76.5M451.8 72.2V81.5M353.4 72.9V77.3M595.8 74.5V81.9M497.0 71.7V80.0M564.4 74.8V80.3M376.4 70.7V82.1M530.5 70.2V81.0M418.3 73.6V77.7" stroke="#4e4e4e" stroke-width="0.6" stroke-opacity="0.6" fill="none"/><path d="M395.5 74.3V82.0M534.2 67.4V85.8M366.3 67.4V85.7M352.9 65.6V78.7M478.9 73.1V85.3M427.1 72.3V80.6M530.6 65.7V77.3M566.8 74.7V84.1M573.9 65.4V81.9M370.0 74.6V80.6M363.2 67.1V86.3M485.2 71.4V77.6M434.0 73.6V85.7M526.6 73.7V87.0M453.0 71.9V80.3M593.3 66.4V76.6M393.3 68.4V80.0M432.2 73.3V81.2M499.9 71.0V80.0M329.3 71.6V86.7M409.3 69.2V82.8M368.2 68.0V83.3M519.0 67.7V79.3M586.6 74.2V76.9M422.5 72.2V83.2M366.7 70.9V85.7M519.4 66.9V86.4M501.1 68.2V84.2M556.3 65.6V83.3M505.3 73.2V82.3M538.6 67.5V87.6M523.8 67.4V80.6M353.8 69.4V86.1M379.9 71.2V79.5M319.3 72.2V78.2M361.5 74.7V82.7M552.1 74.6V85.6M541.5 72.5V86.6M337.0 73.5V83.3M440.7 70.8V86.1M472.6 75.0V84.4M588.1 68.3V81.8M527.3 65.7V85.7M561.4 66.9V80.0M590.0 71.8V80.8M556.4 67.3V82.6M470.1 73.4V78.6M593.5 71.8V77.4M587.5 72.4V85.1M377.9 68.0V78.8M576.0 73.4V85.4M469.5 74.9V86.7M401.2 71.2V87.4M351.8 73.6V83.2M558.1 72.5V86.2M567.3 71.1V84.5M364.5 71.2V81.5M417.9 65.4V87.8M441.6 74.6V81.2M407.5 74.7V83.9M425.7 73.0V85.6M358.9 67.9V80.5M372.3 68.4V78.7M345.4 66.5V87.1M444.3 67.2V78.8M540.5 69.1V83.4M552.2 73.2V80.3M507.2 65.9V84.4M403.6 72.1V77.1M503.8 74.6V83.6M531.3 70.4V85.5M483.5 66.8V77.4M508.1 68.3V86.8M470.1 70.2V77.6M505.2 71.4V82.5M405.5 66.5V86.9M447.3 74.8V87.1M510.5 70.3V84.0M442.8 74.4V83.1M550.3 71.0V80.6M450.3 72.2V78.0M563.1 70.2V78.7M402.8 67.6V84.1M429.8 66.0V84.7M536.0 73.8V77.6M561.1 71.2V84.3M544.4 72.0V86.2M554.8 73.2V81.1M360.2 73.0V82.3M560.9 74.2V87.7M595.8 74.8V85.6M468.9 74.4V86.2M471.0 66.2V85.1M512.0 69.5V83.1M546.9 66.8V84.8M555.5 75.0V84.2M433.5 74.9V84.7M511.8 75.2V87.0M454.7 68.9V86.1M355.3 70.8V86.8M429.2 70.6V87.6M401.7 72.2V77.6M547.9 73.4V79.6M523.1 66.7V84.2M413.0 69.3V85.7M468.0 65.4V78.6M407.3 66.7V76.4M393.0 68.4V82.4M386.9 71.5V77.1M455.0 75.1V81.4M344.5 70.5V76.9M493.5 72.5V83.7M562.1 73.1V79.2M448.2 67.2V78.0M437.8 70.3V78.1M439.3 71.9V76.5M486.0 72.1V82.0M538.5 73.2V83.4M476.1 74.9V79.9M583.1 75.0V85.6" stroke="#7e7e7e" stroke-width="0.6" stroke-opacity="0.4" fill="none"/><path d="M358.2 69.7V84.1M497.3 69.5V79.3M366.6 69.4V85.4M533.4 70.8V81.8M487.5 65.8V76.6M570.2 71.7V78.9M435.2 66.3V85.5M551.9 69.6V76.9M398.7 65.8V86.6M417.9 70.9V84.9M550.7 72.2V85.9M468.8 73.0V85.1M495.3 70.6V80.5M455.4 67.9V83.8M564.2 71.1V84.0M400.2 65.3V85.2M401.5 73.3V83.7M322.8 66.1V84.6M413.3 69.6V78.6M479.6 73.3V79.3M395.8 73.7V80.0M422.1 72.7V81.8M580.2 72.1V76.8M429.6 72.0V80.9M591.5 66.0V85.6M366.7 67.5V84.3M396.0 74.4V82.9M544.5 66.6V84.7M378.0 69.2V86.4M553.9 73.7V85.9M364.2 73.2V82.5M583.5 69.1V85.1M534.2 69.8V81.2M571.6 73.0V80.1M363.5 72.9V84.5M493.3 69.3V77.1M388.0 72.8V76.6M382.2 69.9V87.8M375.2 70.4V80.2M368.0 68.9V76.7M517.3 65.9V81.1M447.3 73.5V78.7M332.1 72.2V77.2M331.9 70.4V82.9M328.0 68.8V84.2M502.6 65.9V77.9M446.6 74.2V81.0M403.8 66.4V79.0M351.6 69.6V77.4M367.8 69.6V76.7M368.9 72.7V83.4M573.5 73.9V83.2M342.0 66.3V81.5M594.4 73.1V85.9M363.5 75.1V78.3M392.9 69.7V78.7M556.9 72.0V82.9M321.1 72.1V82.7M548.6 74.5V77.7M509.9 73.3V80.6M502.3 67.8V82.4M534.7 71.1V77.7M391.6 67.2V81.2M368.7 74.1V82.3M412.8 73.4V80.4M440.1 74.9V82.4M580.0 72.9V85.4M335.1 66.1V78.3M573.9 65.8V85.3M538.6 70.8V80.0M550.0 73.5V82.8M347.7 66.9V84.2M515.9 74.3V83.5M498.8 65.6V85.0M557.8 72.4V83.1M384.7 75.1V81.1M427.3 69.2V82.7M391.2 67.5V78.8M534.7 65.3V81.8M557.4 66.2V85.0M504.0 73.8V86.3M534.7 67.6V79.9M579.0 67.1V84.4M351.2 74.5V80.5M393.3 66.3V77.1M504.0 66.0V86.8M471.7 69.0V76.5M359.0 72.4V80.2M386.8 69.8V81.8M395.8 73.5V78.8M317.8 73.3V82.8M580.4 75.0V86.6M477.2 74.1V78.0M375.6 69.5V77.9M325.0 73.7V80.0M501.3 65.4V78.9M429.9 68.2V85.6M587.6 68.2V82.0M335.9 67.4V82.1M535.6 71.4V83.3M410.3 72.9V78.3M325.7 70.4V82.5M445.6 70.5V86.1M581.9 67.9V78.1M356.2 69.6V79.0M397.8 73.4V81.2M455.0 68.5V82.2M511.9 72.1V80.4M507.6 67.1V85.4M455.4 67.1V82.3M341.5 71.1V78.5M415.6 72.6V78.6M481.1 68.5V87.8M485.9 68.1V80.1M533.7 74.6V78.4M350.0 68.5V82.0M551.8 70.2V81.0M413.5 74.3V83.3M441.5 74.9V77.3M480.4 69.6V80.2M535.6 67.4V87.5M367.4 70.9V84.1M486.6 69.8V80.4M594.1 65.9V82.9M433.8 65.9V83.3M447.6 67.9V83.6M473.2 71.5V85.0M482.2 69.6V81.5M467.3 67.8V80.7M365.3 73.2V77.7M430.8 67.0V85.5M476.4 73.3V84.8M493.2 70.2V81.1M520.8 72.4V79.3M354.1 66.8V83.5M369.4 67.9V80.2M521.7 73.3V82.6M481.1 70.4V79.0M375.5 74.4V78.1M379.5 68.8V86.7M456.3 68.0V77.4M545.8 69.4V81.8M381.7 73.1V78.2M373.1 70.3V83.9M577.8 68.2V79.6M586.8 71.6V76.5M446.6 75.1V81.8M419.7 71.9V78.1M426.4 72.3V78.6M386.9 74.6V81.9M567.9 69.9V78.4M405.6 72.9V78.0M382.8 71.3V82.2M489.2 70.5V81.4M520.7 70.2V76.7M536.6 70.4V78.8M369.4 72.0V81.6M445.9 71.4V80.5M464.3 75.0V79.4M548.5 72.9V78.4M352.2 73.4V79.3M464.2 69.9V81.9M510.4 71.3V78.2M520.5 72.6V80.2M368.4 72.2V79.7M489.8 73.6V76.4M531.8 70.5V77.4M389.5 70.5V80.7M538.7 71.9V81.7M408.4 73.0V76.7M526.0 72.8V77.9M551.6 70.4V80.1M536.8 73.2V77.5M540.3 74.2V76.8M443.4 74.5V81.1M568.2 75.2V76.7M515.9 71.3V77.9M548.1 75.0V77.7M433.9 71.7V76.5M343.6 75.5V79.7M527.9 74.3V81.9M591.1 74.4V77.9M579.1 70.9V82.0M413.7 70.4V77.4M566.1 73.5V81.4M406.3 70.1V76.2M486.9 71.3V79.5M424.5 75.2V76.3M411.1 71.3V76.6M505.9 70.4V79.8M546.8 75.0V78.4M415.6 72.9V78.1M492.3 73.6V77.5M592.0 70.6V78.8M386.8 69.9V80.5M415.1 70.6V79.5M555.9 73.4V76.5M373.2 74.4V80.2M407.5 69.9V81.7M456.0 72.6V81.0M568.8 73.0V77.6M557.2 74.1V79.3M480.2 71.5V78.4M423.1 75.2V78.4M375.4 71.4V76.7M529.1 74.5V79.5M528.6 74.3V81.9M363.5 70.8V78.6M328.9 71.4V77.5M573.5 71.1V79.8M376.9 73.6V81.0M472.2 72.6V77.9M365.2 74.6V76.2M409.8 71.0V79.5M329.9 72.8V79.5M581.2 71.1V78.0M352.9 71.7V79.5M559.1 72.0V76.5M410.2 71.9V78.2M399.5 71.8V79.3M580.1 70.6V78.9M390.0 70.7V81.5M539.6 75.1V78.1M517.5 74.8V78.6M424.0 70.1V79.5M513.3 75.4V80.2M571.5 71.2V77.3M500.0 73.9V81.6M352.5 74.1V79.0M385.5 70.1V77.2M474.3 70.5V80.0M476.3 70.4V76.4M481.5 70.8V81.4M327.5 71.4V76.5M493.7 72.9V79.6M553.7 69.9V78.0M596.2 71.4V76.5M498.2 71.7V77.3M518.2 70.3V79.2M420.3 74.4V76.3M325.3 72.2V77.8M466.9 73.4V77.9M451.1 75.2V77.4M342.3 70.9V80.3M507.2 72.0V77.9M443.9 71.6V76.2M330.0 74.1V82.0M539.6 75.3V79.6M433.4 72.9V80.1M351.8 70.7V76.1M434.1 75.2V81.5M548.8 72.7V78.5M491.2 72.1V79.7M318.9 71.3V80.2M331.3 73.5V79.6M354.6 70.0V77.1M407.2 70.1V77.9M529.4 73.8V79.2M417.3 75.5V78.3M344.8 74.8V77.7M401.2 71.7V78.9M388.4 73.4V79.6M439.3 73.1V79.9M483.0 74.3V81.1M577.0 75.2V77.0M561.4 73.8V77.9M368.1 72.6V80.0M560.8 74.2V79.3M495.3 75.3V78.1M572.4 72.4V80.6M484.9 74.8V78.6M546.9 72.5V81.5M384.0 73.6V76.8M410.7 74.4V80.2M512.0 70.7V77.6M489.4 74.9V82.2M430.0 72.6V81.1M571.2 74.1V79.1M443.5 74.6V82.0M376.5 71.7V80.4M582.2 71.7V81.8M455.3 74.1V76.2M477.5 73.3V77.6M546.0 71.5V81.5M401.1 71.6V80.2" stroke="#424242" stroke-width="0.6" stroke-opacity="0.4" fill="none"/><path d="M559.5 65.5V77.3M528.0 73.3V82.0M552.0 71.2V80.8M436.7 72.3V87.4M425.2 74.2V86.6M445.6 65.9V79.9M557.3 73.4V79.8M482.7 74.5V84.4M512.1 66.5V84.3M555.0 73.0V83.7M435.2 73.1V83.9M455.8 68.4V82.7M430.9 73.7V84.8M362.9 69.5V78.9M376.8 71.5V77.6M464.8 71.7V86.7M513.4 73.2V77.2M376.8 69.4V87.2M438.9 68.7V81.4M339.5 73.0V87.5M395.1 69.5V78.8M474.5 69.1V87.0M413.8 67.3V80.0M453.2 65.9V86.7M518.8 72.4V79.1M515.8 71.2V82.1M407.4 73.1V85.1M355.4 75.2V85.3M488.8 73.0V78.9M564.0 74.4V79.6M348.7 69.5V87.0M496.4 68.2V85.4M509.5 70.7V77.8M568.4 73.0V76.6M449.8 69.4V82.2M463.5 65.7V87.3M339.8 71.3V77.2M593.5 71.2V81.9M353.5 67.9V77.7M378.6 71.3V82.1M532.5 66.3V79.7M570.0 73.9V84.2M337.0 73.9V87.5M513.1 71.2V86.0M437.9 71.1V82.9M441.9 70.0V76.8M508.1 70.7V81.2M336.1 69.5V86.8M371.2 69.5V86.2M327.3 71.1V84.3M384.9 66.2V80.4M467.5 71.8V80.0M352.2 69.0V79.4M390.6 66.0V87.4M432.2 72.0V87.6M377.7 73.4V86.9M567.6 67.0V76.7M515.8 66.0V76.5M478.2 73.8V81.0M317.3 65.7V77.5M510.3 75.1V84.1M538.3 73.6V86.4M367.2 69.2V85.7M462.5 72.5V78.3M359.0 70.7V77.4M434.5 67.1V77.2M544.8 71.8V77.6M450.5 70.1V86.0M329.3 74.8V78.1M527.3 68.0V76.9M527.1 70.6V85.9M556.0 71.7V85.3M575.7 68.1V79.2M533.4 69.6V84.5M563.9 72.5V87.5M379.2 73.1V82.0M552.0 69.2V80.6M547.3 69.9V79.8M523.4 66.3V79.3M479.5 74.9V86.2M385.6 72.5V84.2M370.3 73.1V85.2M421.8 68.3V84.0M585.6 75.2V84.3M542.0 71.6V83.8M561.7 70.5V84.9M564.2 67.9V82.2M478.7 70.0V84.5M459.4 69.9V79.0M359.4 65.4V83.8M569.2 74.5V79.2" stroke="#a2a2a2" stroke-width="0.6" stroke-opacity="0.2" fill="none"/><path d="M490.3 67.5V84.9M551.1 68.6V81.1M483.0 71.3V79.1M350.8 66.4V84.5M494.4 74.6V78.6M595.0 74.6V78.4M391.9 69.1V82.5M364.7 70.3V81.7M408.7 65.5V87.0M386.4 69.7V81.6M413.5 74.1V81.9M420.4 65.5V82.0M538.7 72.4V77.9M596.3 69.5V79.5M462.6 66.5V79.4M432.6 73.6V82.8M552.6 73.6V82.1M389.0 68.3V85.7M518.5 74.8V83.9M468.8 73.0V86.8M470.8 66.2V83.2M346.3 69.6V84.4M486.3 66.5V78.3M350.9 71.2V77.9M473.8 74.8V79.6M578.7 72.5V84.0M520.9 66.7V80.5M359.3 71.1V81.4M587.5 71.8V84.8M529.6 73.8V81.0M489.3 74.8V83.5M472.1 68.3V85.1M507.3 67.3V83.4M448.5 70.3V87.0M402.8 65.6V78.9M412.3 68.2V77.9M556.3 67.9V85.5M550.4 74.4V79.3M434.1 69.4V82.0M432.9 71.4V77.4M558.7 73.4V83.9M374.0 70.8V85.8M339.4 68.8V85.3M573.2 71.5V85.8M412.1 75.1V87.6M506.6 70.3V82.9M453.6 74.6V82.1M404.0 72.0V80.1M455.8 74.0V81.8M379.2 70.9V83.2M337.0 73.2V79.2M357.2 72.3V87.8M348.2 65.8V85.0M569.3 66.2V86.6M489.3 70.5V87.4M420.1 70.0V80.3M471.7 67.4V77.8M411.3 66.5V87.4M549.2 65.5V76.5M401.0 68.4V82.5M378.5 65.9V78.2M513.2 72.9V84.3M415.4 72.9V82.3M503.2 68.0V85.0M410.5 73.1V86.0M569.4 72.0V80.1M481.0 68.8V77.8M557.1 66.0V84.9M572.0 65.5V85.5M541.1 74.1V85.2M329.9 73.5V80.8M479.6 70.3V79.4M503.4 71.4V77.3M505.1 73.5V78.0M369.0 70.8V80.0M386.6 72.6V84.7M521.3 70.1V81.4M362.6 73.0V80.3M496.4 66.4V76.8M500.0 68.6V84.2M421.2 67.0V78.2M414.5 70.4V76.5M470.0 70.6V78.1M352.0 67.8V79.2M495.6 73.0V82.8M415.8 66.0V80.2M472.6 69.2V86.4M527.6 69.2V85.0M519.4 74.5V80.7M513.6 71.1V79.0M373.6 69.2V77.9M570.0 74.0V84.2M344.6 72.5V85.8M548.5 67.7V84.4M369.6 67.7V80.7M502.4 69.1V79.3M552.2 74.0V81.9M523.8 70.7V87.5M521.1 68.8V86.0M416.0 67.7V87.4M417.8 72.7V78.8M327.1 67.9V78.7M330.1 66.2V80.6M490.9 67.8V84.0M371.8 73.7V77.6M335.0 68.1V79.5M440.8 72.0V80.8M456.2 74.7V79.0M473.1 68.2V81.3M562.0 72.0V87.7M334.3 66.1V85.5M574.3 65.7V86.1M439.4 71.3V82.6M356.4 70.7V81.8M332.4 72.3V81.5M328.2 65.6V82.0M369.9 67.9V85.5M455.2 67.5V87.1M470.9 66.1V78.3M443.3 74.5V82.2M446.7 70.7V86.7M419.7 74.0V84.3M435.2 73.3V80.4M501.2 68.3V86.2M416.9 67.7V86.6M396.5 75.3V77.9M337.5 73.5V80.5M575.0 67.3V76.5M486.4 66.2V81.3M382.9 69.0V78.2M404.5 69.3V80.4M527.3 72.6V86.4M526.9 69.5V85.4M336.4 66.3V82.7M361.3 73.4V81.2M490.4 65.4V83.9M471.3 74.6V87.7M405.8 69.5V86.2M527.8 73.0V80.7M386.9 72.9V76.7M435.3 66.2V85.7M459.9 67.4V81.8M542.4 65.3V76.4M487.2 65.4V85.7M407.6 67.4V85.0M584.4 70.0V83.1M461.8 71.9V79.3M590.3 74.7V76.7M394.1 65.6V86.5M544.7 65.8V78.5M443.2 73.0V82.8M348.9 71.6V87.6M565.3 71.4V78.2M512.4 72.5V85.2M400.5 73.9V84.4" stroke="#969696" stroke-width="0.6" stroke-opacity="0.4" fill="none"/><path d="M393.5 75.2V85.9M519.2 66.2V80.6M335.0 74.9V80.4M452.3 65.6V77.4M330.3 74.8V86.2M577.9 72.6V82.6M517.9 73.1V83.2M548.2 69.8V86.0M419.7 75.2V85.0M353.5 74.7V76.7M477.1 72.7V86.7M342.7 68.0V80.7M414.0 74.7V78.8M430.2 69.9V83.2M562.7 70.6V83.9M463.7 67.9V80.4M382.1 71.0V81.4M370.0 70.1V84.4M548.0 74.8V80.8M523.5 69.0V79.8M345.3 74.9V86.2M512.6 67.5V85.1M522.4 67.9V87.0M341.5 65.6V83.7M588.7 74.4V82.6M575.2 68.9V78.0M491.4 68.3V83.4M484.1 70.3V80.8M427.2 75.0V82.1M464.1 67.3V76.9M552.3 72.4V76.9M512.4 74.5V82.2M487.3 74.7V86.7M409.4 66.2V78.2M542.2 71.4V81.6M506.0 69.5V80.3M420.9 65.8V82.6M521.4 74.2V83.5M405.1 71.6V86.7M464.9 71.1V77.3M516.1 72.6V83.4M476.5 73.9V80.7M517.1 70.6V76.9M329.4 73.4V79.0M550.2 69.1V87.0M427.9 65.6V85.0M324.5 74.2V79.9M376.3 68.5V76.9M494.9 71.9V80.5M381.2 72.2V80.4M531.2 73.8V83.8M541.2 66.5V86.6M562.4 71.4V84.8M581.3 67.6V84.1M430.0 74.9V82.7M536.4 69.8V77.3M548.8 72.7V77.2M553.0 69.1V78.2M579.7 71.4V87.7M585.8 72.1V78.9M319.6 73.1V86.0M581.0 69.6V79.0M453.6 65.7V82.7M557.1 67.5V84.3M338.0 67.5V84.3M572.8 74.7V82.7M413.2 69.4V86.8M453.2 69.1V81.5M342.9 68.2V79.8M576.3 66.2V82.1M365.7 71.0V80.5M388.8 71.9V78.0M558.8 70.2V80.7M379.4 66.6V85.5M530.6 74.9V78.7M472.5 74.7V85.1M488.9 67.1V78.6M434.0 67.5V79.2M580.6 72.0V87.2M397.6 70.8V78.3M391.1 71.7V79.5M594.2 68.6V81.9M376.9 65.4V85.5M378.6 74.1V83.0M529.9 66.4V78.1M526.8 70.1V78.5M545.3 68.2V81.5M350.8 66.1V85.8M354.4 69.7V82.1M390.8 75.2V79.3M398.3 67.7V84.6M476.5 74.1V79.2M432.6 75.0V81.7M452.7 65.9V87.7M475.8 69.4V79.5M321.9 68.8V87.3M564.5 73.8V86.8M507.4 74.8V81.8M586.5 73.0V83.8M406.7 69.5V87.3M527.6 69.7V85.3M406.6 66.4V78.3M451.0 67.2V83.1M420.3 66.9V79.8M520.7 73.3V82.6M445.7 67.8V83.8M404.6 67.8V87.2M499.3 69.1V79.1M341.3 70.4V77.3M457.1 68.1V77.5M387.8 74.7V82.8M362.5 70.2V81.6M529.5 71.0V81.2M436.5 72.1V86.6M443.9 67.7V76.7M449.7 67.1V78.3M421.0 74.6V78.1M508.9 74.5V82.4M591.8 71.0V82.1M406.2 68.3V87.0M398.3 70.4V82.6M395.2 71.8V80.8M431.4 67.5V77.0M534.5 72.5V87.5M366.8 70.9V77.1M538.3 69.6V78.6M420.3 74.7V76.8M472.9 72.1V83.1M522.9 72.7V82.1M405.4 69.4V76.7M565.4 68.5V84.9M416.3 73.6V85.4M587.8 74.8V83.8M364.7 68.5V79.7M436.0 73.3V79.7M443.1 65.4V84.2M541.4 73.1V80.9M444.7 68.0V85.7" stroke="#a2a2a2" stroke-width="0.6" stroke-opacity="0.4" fill="none"/><path d="M524.7 66.5V87.3M559.0 66.8V84.7M464.8 75.2V86.3M341.2 74.2V84.0M386.0 73.4V79.5M449.0 68.0V79.8M443.6 68.4V78.2M457.9 71.2V85.5M476.3 72.5V86.8M584.1 68.6V83.2M564.3 66.7V83.1M534.2 72.2V83.8M408.6 65.8V78.8M443.9 70.4V87.0M514.3 71.2V80.9M370.8 73.5V86.1M594.5 66.8V81.2M589.2 71.0V84.2M547.1 68.0V84.8M338.0 74.7V85.6M454.4 70.8V85.3M481.2 65.9V77.5M456.4 65.8V80.1M457.0 75.1V78.1M471.8 73.0V81.5M390.2 68.9V77.1M561.5 73.5V78.3M427.6 67.5V87.5M594.5 68.0V81.4M542.2 72.0V82.8M361.9 71.4V81.7M529.8 68.2V87.6M439.6 74.4V78.7" stroke="#7e7e7e" stroke-width="0.6" stroke-opacity="0.6" fill="none"/><path d="M464.8 70.6V86.2M462.4 66.6V85.3M329.7 68.9V87.1M402.7 68.0V82.0M587.0 70.9V83.7M412.6 70.3V79.7M487.0 72.9V81.8M490.7 72.1V77.2M480.8 74.7V77.5M520.4 68.9V85.9M579.7 67.6V84.4M505.0 71.0V79.5M460.1 75.0V82.7M360.7 67.0V85.9M371.9 65.5V77.5M561.7 74.8V85.9M552.8 69.2V81.2M477.4 72.4V83.9M380.5 69.8V77.6M393.1 73.9V83.4M392.8 65.3V87.3M516.5 71.3V84.3M527.6 66.1V79.4M355.5 75.2V80.3M524.6 66.9V83.2M495.0 70.8V81.0M568.0 75.0V80.5M595.5 72.9V76.8M394.9 73.2V84.1M510.3 66.9V82.3M493.2 73.0V87.1M400.8 72.6V79.6M569.6 65.9V79.0M512.6 72.9V84.6" stroke="#969696" stroke-width="0.6" stroke-opacity="0.6" fill="none"/><path d="M420.1 67.2V87.4M588.5 67.4V86.9M546.1 66.5V77.9M365.1 74.5V81.5M589.3 71.6V77.0M380.4 66.5V83.4M512.0 73.8V81.9M455.4 73.9V76.6M507.8 72.3V87.7M370.4 72.6V83.7M333.1 75.0V86.4M535.5 74.4V87.7M549.1 72.7V77.4M538.1 66.5V80.9M538.5 74.4V77.5M579.8 70.2V83.7M439.7 74.6V83.3M511.7 75.0V81.4M423.1 73.9V84.3M583.3 70.2V82.4M507.6 67.9V86.6M488.4 72.5V79.9M355.7 66.9V83.2M530.2 67.9V78.0M482.1 72.5V86.0M370.2 70.7V76.8M509.3 67.1V78.3M401.4 69.7V79.1M350.1 69.8V83.5M505.9 71.0V76.7M570.7 73.2V86.6M356.3 65.5V77.9M455.8 68.8V78.0M526.6 71.9V83.6M359.4 73.1V85.0M363.6 69.2V76.5M325.9 74.4V86.9M405.4 70.3V82.8M382.0 68.7V84.8M546.5 66.7V85.0M415.4 72.8V85.3M387.3 68.7V85.2M470.2 75.2V77.1M581.7 71.1V83.4M582.4 68.6V87.1M561.8 71.8V81.9M596.0 75.0V80.3M372.9 67.9V81.2M426.7 71.0V80.4M556.7 72.6V77.7M531.0 70.3V82.7M404.5 66.8V84.7M464.1 68.8V82.8M328.8 72.3V79.2M329.4 71.1V80.6M572.1 66.4V82.2M365.5 73.6V76.9M442.6 66.5V86.0M409.0 68.1V78.3M591.3 73.1V77.4M356.7 75.0V87.0M397.6 71.4V77.1M358.7 74.6V84.8M327.7 69.1V84.3M385.3 69.2V86.8M539.8 65.9V78.6M415.4 66.0V76.5M394.6 65.4V80.1M379.4 72.0V85.2M475.3 74.8V85.3M381.3 71.2V87.7M409.1 68.2V86.8M512.0 69.8V82.3M510.8 70.1V86.9M418.1 74.0V79.2M442.4 69.8V81.9M362.7 70.1V79.0M361.5 69.4V87.5M429.1 72.1V79.2M516.1 73.6V84.2" stroke="#8a8a8a" stroke-width="0.6" stroke-opacity="0.2" fill="none"/><path d="M380.8 67.2V82.4M520.9 67.0V87.1M415.4 68.4V86.3M580.6 73.3V85.4M583.6 74.6V86.9M470.8 69.2V82.3M458.6 65.5V84.6M517.0 74.4V79.5M381.2 70.6V86.1M385.3 68.5V81.3M549.3 74.8V78.5M510.6 68.5V81.7M556.5 72.7V79.9M510.0 66.0V77.8M424.0 66.2V86.7M416.3 67.5V76.9M396.2 67.9V83.4M336.5 70.8V85.8M409.4 70.8V82.7M379.0 69.8V86.7M557.5 66.2V86.0M574.2 72.5V81.3M466.8 67.3V78.9M526.3 69.6V84.8M575.2 71.0V83.4M400.0 70.4V78.9M318.1 70.0V85.1M573.2 70.7V87.5M339.8 66.0V78.1M462.2 70.5V80.8M391.1 67.5V79.2M461.6 67.8V87.5M532.0 68.9V85.1M466.8 66.3V80.4M509.2 73.9V78.7M425.2 68.6V80.0M352.5 72.8V80.6M366.0 71.2V78.3M379.5 73.7V78.3M448.2 74.7V76.7M356.1 71.5V82.0M507.9 70.5V81.0M551.9 73.9V81.7M341.9 73.6V76.9M462.9 72.4V79.8M364.3 75.4V81.9M342.7 74.4V80.8M563.3 73.2V79.2M577.4 75.0V80.4M376.5 71.0V77.6M471.0 69.9V81.2M594.4 70.2V77.4M356.0 72.2V78.8M386.0 72.0V81.3M328.0 70.0V78.2M490.7 73.8V76.7M322.0 70.4V78.6M462.8 75.4V79.6M339.4 74.6V77.3M344.2 71.8V79.3M446.0 70.3V79.9M340.7 73.8V77.4M365.9 74.1V78.9M365.7 70.9V81.7M355.2 71.9V78.3M370.5 71.4V82.1M482.5 71.4V81.0M428.0 75.3V80.2M478.7 71.8V76.8M559.5 72.8V82.1M492.4 72.6V81.8M488.9 72.3V78.9M322.2 75.1V78.1M529.3 73.4V80.5M563.5 73.9V81.6M490.5 72.2V78.4M581.8 74.8V78.9M564.7 74.4V78.5M530.6 71.4V79.7M506.7 71.8V81.6M514.6 70.5V76.1M470.6 74.4V76.9M393.6 71.8V78.0M502.8 70.0V76.3M555.8 72.5V79.6M365.8 72.0V76.6M590.9 75.0V79.4M362.1 70.4V80.8M565.7 74.4V78.1M352.0 75.1V80.7M426.2 73.3V77.1M593.2 74.1V76.7M520.1 75.3V80.5M516.4 75.2V79.5M576.9 73.1V80.9M545.8 72.7V77.0M426.5 70.6V76.3M431.6 72.9V79.6M416.7 73.0V81.9M361.2 70.7V78.2M386.7 73.9V80.3M552.7 71.7V81.5M572.1 73.0V78.0M556.4 72.2V81.9M411.2 73.0V78.0M480.3 74.9V80.9M375.3 73.5V81.1M440.1 73.9V79.9M382.3 73.4V78.6M399.7 75.2V77.4M409.7 72.4V76.2M320.8 74.9V79.0M402.1 72.5V76.8M577.8 71.5V82.3M543.6 73.0V78.7M559.7 73.1V77.6M370.6 73.6V80.1" stroke="#424242" stroke-width="0.6" stroke-opacity="0.6" fill="none"/><path d="M354.9 74.9V80.7M534.8 68.3V77.5M455.1 71.8V77.6M478.7 71.8V87.2M530.1 68.2V77.5M548.5 71.4V79.1M470.0 67.7V84.5M333.8 73.5V82.0M417.4 67.9V87.7M585.4 71.0V83.0M498.5 68.2V83.1M402.6 72.0V84.2M547.1 68.0V84.2M434.6 75.3V86.3M582.3 74.3V82.2M505.9 67.0V77.4M543.7 67.7V87.1M548.7 74.0V79.9M520.8 67.0V83.6M543.5 73.5V82.3M391.2 66.0V76.9M562.8 68.0V79.9M490.1 68.6V83.5M373.4 72.0V81.9M555.0 71.3V76.5M565.6 66.1V79.6M568.3 72.5V83.7M417.6 73.5V81.3M419.3 71.7V79.1M360.9 70.4V81.3M387.7 74.8V86.6M320.8 70.3V79.5M347.7 71.9V80.9M422.3 73.0V76.7M320.2 71.3V81.3M513.3 71.6V81.6M547.4 70.0V77.0M324.6 72.2V81.5M476.3 70.3V81.0M419.4 72.0V79.7M415.6 72.0V81.9M543.1 71.8V80.2M517.8 71.1V76.9M467.5 75.5V81.9M593.5 73.3V79.6M420.0 70.1V80.1M527.4 74.5V80.7M441.1 73.1V80.5M449.5 71.6V78.6M322.1 75.1V76.6M503.7 75.2V76.9M575.0 75.3V78.7M547.2 73.4V77.5M365.9 74.7V78.3M355.6 75.2V77.6M411.7 71.5V77.8M591.0 73.1V79.9M496.8 73.5V82.1M441.3 70.5V82.2M499.3 74.4V80.3M443.5 74.5V81.8M556.6 74.1V77.7M455.3 70.7V80.5M382.0 73.6V81.5M356.8 71.1V82.3M444.9 71.5V77.3M588.9 72.6V78.5M587.3 75.0V81.9M375.9 71.0V76.6M353.7 73.1V76.6M517.9 71.1V79.7M544.8 73.9V81.2M569.5 73.3V76.7M585.9 73.7V80.5M509.6 71.7V77.7M413.5 73.4V80.6M368.3 72.7V78.5M412.2 70.7V76.5M402.8 70.0V79.1M577.3 71.5V76.7M499.0 73.2V78.2M471.4 70.9V77.1M327.1 72.3V77.4M408.9 69.8V80.4M557.6 71.5V78.7M335.6 71.1V78.5M378.1 72.6V80.8M591.6 74.4V76.9M562.2 71.3V81.1M351.6 71.5V77.1M360.4 73.1V79.0M465.8 71.9V79.2M393.5 72.9V76.8M485.0 74.3V77.2M561.5 70.8V76.9M575.7 70.6V81.8M556.4 71.9V79.1M367.0 75.5V79.2M335.2 69.9V79.9M554.0 71.0V79.5M546.1 71.3V79.2M443.4 70.7V77.4M580.5 71.2V77.1M382.1 75.1V76.8M408.1 75.3V76.5M553.6 73.8V76.8M542.4 72.2V79.3M430.8 70.2V76.2M333.7 75.0V80.3" stroke="#5a5a5a" stroke-width="0.6" stroke-opacity="0.6" fill="none"/><path d="M409.4 69.2V86.9M491.4 66.1V79.1M386.9 66.1V81.9M395.0 73.0V76.5M333.0 68.6V79.7M589.1 73.9V78.7M581.6 67.0V78.0M368.4 67.1V82.4M351.8 74.9V84.1M410.1 68.8V79.0M514.4 72.9V84.4M495.8 69.8V80.4M592.9 69.0V78.7M529.4 73.9V78.2M442.6 74.2V87.5M447.6 73.9V85.2M562.7 66.8V87.1M577.4 70.8V81.2M461.9 68.3V77.5M512.1 65.4V81.2M582.6 66.0V83.2M415.3 66.0V78.1M586.6 66.4V76.9M580.4 68.0V79.3M567.7 73.2V81.7M488.6 67.5V82.4M570.4 72.3V87.3M471.1 65.7V85.6M414.9 71.8V82.3M323.7 73.3V83.2M408.8 65.9V84.1M363.9 70.5V86.3M328.3 74.4V80.5M581.7 70.6V80.5M507.3 74.4V80.8M521.8 69.0V78.4M583.0 71.5V76.6M394.1 68.3V82.1M513.7 71.5V86.3M411.6 66.7V83.9M538.4 72.9V78.4M350.5 74.1V82.6M393.4 72.9V81.2M494.1 72.9V80.1M387.7 71.5V84.5M421.4 69.0V85.3M396.1 70.7V82.1M575.5 70.9V83.7M556.9 67.5V85.6M471.1 70.9V77.4M354.1 71.1V80.1M588.3 68.7V76.7M414.6 66.5V76.9M499.1 71.6V83.3M491.6 68.0V76.4M587.3 73.2V78.6M415.5 68.1V84.2M578.2 74.1V78.2M450.0 71.1V78.3M477.0 67.9V78.3M553.3 68.1V86.1M367.5 73.0V77.8M592.1 73.1V78.0M582.2 74.4V77.1M576.7 74.9V79.4M422.7 75.1V81.5M479.3 75.3V80.8M468.4 73.3V81.4M436.4 72.6V79.1M532.1 73.4V76.7M440.7 74.8V78.9M320.2 72.6V78.3M321.8 71.1V79.7M552.2 74.6V78.8M454.6 72.9V78.6M519.9 70.3V81.9M419.9 73.3V77.8M341.3 73.2V79.4M412.0 70.3V82.3M371.2 71.1V79.4M405.2 72.1V77.0M406.4 74.5V81.0M331.7 74.9V79.1M359.1 75.0V78.0M360.5 75.0V77.8M384.7 74.2V82.0M474.0 73.1V81.0M447.4 74.9V80.2M489.7 73.6V79.4M416.6 71.6V77.1M580.3 73.9V79.6M412.4 71.5V76.2M544.9 69.9V78.8M514.7 73.9V80.9M560.5 75.1V80.9M558.4 71.5V76.9M594.9 73.0V80.9M537.4 72.8V78.0M518.8 73.6V79.9M420.9 71.6V77.4M540.5 74.5V80.9" stroke="#363636" stroke-width="0.6" stroke-opacity="0.2" fill="none"/><path d="M493.7 73.8V85.1M464.0 68.1V78.9M366.9 66.6V80.3M461.0 67.0V78.0M367.3 65.8V87.4M399.4 72.7V87.4M473.3 70.0V82.7M331.6 69.9V84.5M586.2 74.8V77.7M588.3 69.8V80.6M493.7 71.3V83.0M412.1 66.8V82.0M463.8 66.1V83.2M568.7 74.6V81.2M448.0 65.9V84.6M591.7 73.6V78.4M344.9 73.1V86.9M570.9 66.7V81.5M560.3 72.7V78.0M381.5 72.2V78.8M588.2 67.3V79.8M403.2 74.7V81.4M508.1 71.3V81.9M324.9 65.5V83.5M472.7 70.6V82.4M494.3 73.4V83.9M539.2 71.3V79.2M551.2 67.9V83.8M501.0 73.0V85.6M481.0 68.5V85.8M405.3 69.4V82.0M369.7 65.7V79.2M487.8 73.7V81.7M494.1 75.3V84.1M581.1 72.3V78.0M490.0 66.4V80.7M327.9 69.1V84.7M352.0 74.5V77.6M474.7 72.3V81.2M418.5 73.0V78.3M560.0 74.9V79.3M416.8 70.2V84.2M402.0 65.8V79.7M351.7 66.8V86.5M360.1 71.4V78.3M416.8 73.5V77.4M543.9 66.0V77.3M325.3 69.3V80.2M484.8 72.4V87.8M592.1 69.7V79.4M351.5 66.1V83.9M459.5 70.8V86.0M331.3 73.9V76.5M349.0 71.6V77.6M589.3 74.6V77.1M322.6 68.6V78.1M507.8 73.6V81.8M400.9 65.9V77.3M579.9 69.3V80.6M574.5 71.8V85.8M343.8 69.8V82.3M322.6 69.7V81.8M318.9 68.1V77.4M533.2 68.3V80.7M354.7 71.2V83.9M589.8 72.8V84.4M521.5 68.0V86.9M418.0 74.9V81.5M536.8 73.7V76.9M377.2 74.2V81.8M459.5 73.7V80.4M456.1 72.8V78.4M399.2 69.1V79.6M369.4 69.5V84.1M536.7 72.6V81.7M421.4 75.2V81.5M457.9 69.9V79.5M565.4 74.1V79.1M526.2 72.9V79.4M463.9 72.7V80.8M594.9 69.9V76.3M523.8 73.3V76.6M457.2 69.9V81.9M483.4 74.7V81.8M329.0 71.6V80.2M433.1 71.0V79.2M429.2 71.5V81.5M393.0 73.2V79.3" stroke="#666666" stroke-width="0.6" stroke-opacity="0.2" fill="none"/><path d="M354.9 73.0V81.9M506.5 68.7V79.6M555.4 67.7V84.0M534.8 72.9V86.6M478.4 71.5V84.7M378.9 69.0V84.6M432.7 73.5V84.9M349.2 74.9V78.0M467.3 71.1V77.6M498.0 69.0V84.6M319.0 74.0V81.9M590.6 65.4V80.1M343.7 73.6V82.9M509.7 68.8V82.6M563.4 66.8V76.6M383.9 66.3V79.0M558.4 75.1V81.6M458.6 66.5V79.1M393.4 71.2V84.5M526.5 66.8V84.6M357.6 74.6V82.1M529.8 73.0V78.6M566.6 68.3V81.0M590.2 70.5V76.9M444.0 66.0V76.7M361.4 73.4V76.4M539.3 69.1V80.8M382.0 73.7V81.0M439.9 69.8V81.0M396.3 73.7V83.1M573.1 73.2V87.3M582.0 67.9V84.7M441.2 65.4V87.7M365.8 66.3V85.8M545.4 69.7V84.6M582.2 72.2V78.7M474.4 70.6V81.4M402.7 75.1V82.2M548.7 67.5V84.7M497.3 65.5V81.6M585.3 70.9V78.5M398.4 71.5V87.1M492.7 67.2V78.2M525.5 69.7V81.0M349.7 72.3V76.6M596.2 74.8V84.2M526.7 71.1V80.7M379.3 70.6V81.5M458.7 66.3V78.4M517.4 66.6V80.9M580.7 67.9V81.9M426.1 67.5V81.1M384.6 71.9V83.5M391.7 69.5V76.6M336.2 72.5V79.3M493.1 68.0V83.2M545.2 66.1V87.3M571.4 73.1V76.6M329.1 66.2V86.6M360.6 74.5V87.5M330.6 66.3V84.8M450.6 67.8V87.2M470.9 72.8V84.9M408.9 71.4V84.2M566.5 69.1V84.4M577.9 73.9V83.5M513.7 67.4V81.8M596.5 73.8V76.6M403.8 73.2V77.1M383.6 71.9V77.7M489.5 72.0V76.7M445.7 74.4V78.9M404.8 73.9V76.8M474.3 74.1V81.9M484.2 74.3V80.9M331.4 74.0V80.5M363.8 72.6V77.1M347.8 73.3V79.5M362.1 74.6V78.0M468.3 70.1V81.1M428.6 72.7V76.6M341.3 71.3V78.7M465.5 75.5V81.1M426.5 70.7V80.9M586.5 71.1V80.3M507.0 72.1V78.1M559.8 73.6V76.2M483.7 75.2V81.8M564.5 72.8V81.7M393.8 70.8V78.2M425.8 72.2V76.4M349.9 70.8V81.5M579.8 72.4V80.9M364.1 71.2V77.7M463.9 74.8V79.4M529.7 69.9V82.2M335.7 70.8V79.9M449.7 71.0V78.8M503.2 74.0V78.8M425.3 70.7V78.7M432.5 73.5V82.3M422.3 74.9V77.9M417.2 70.2V81.0M567.8 70.0V78.5M489.8 70.7V82.1M590.4 69.9V80.2M467.8 73.1V79.0M554.4 70.9V79.3M479.2 70.3V78.3" stroke="#424242" stroke-width="0.6" stroke-opacity="0.2" fill="none"/><path d="M571.1 65.9V79.4M318.2 65.8V84.7M368.6 69.9V78.3M365.5 71.5V87.7M555.2 71.1V79.7M557.6 68.3V82.4M354.9 70.3V78.2M578.6 67.7V86.0M342.5 67.0V82.0M543.0 66.2V77.7M556.3 66.0V82.7M585.6 70.6V80.4M482.9 69.9V87.5M391.9 67.2V77.9M469.8 66.0V81.5M335.6 69.0V81.6M490.8 74.3V77.9M349.2 69.2V76.8M558.6 74.8V81.1M398.0 66.8V79.9M336.6 67.9V85.7M354.2 75.1V87.6M547.6 72.9V78.0M460.6 73.6V83.3M455.5 71.0V82.5M529.8 69.4V83.1M515.7 69.8V86.9M552.5 72.3V78.2M571.4 73.1V78.0M552.8 70.3V85.7M392.1 65.4V87.3M517.1 69.9V87.1M591.7 67.1V87.1M366.2 70.7V86.0M526.5 68.9V76.5M561.2 68.2V86.0M588.7 73.4V81.7M423.8 67.0V77.9M451.7 71.1V80.6M576.8 65.4V86.5M517.0 71.7V80.8M320.9 75.2V80.3M406.2 67.3V87.7M412.0 67.2V81.8M401.0 66.0V84.3M594.2 71.0V82.6M565.7 73.7V82.1M546.1 65.4V82.0M593.5 70.4V78.6M571.2 67.2V83.0M569.4 65.9V87.5M340.0 75.0V76.9M489.7 68.4V82.2M452.7 66.6V76.8M426.3 66.6V80.0M330.7 75.1V84.4M455.9 68.3V79.8M425.4 69.1V76.5M433.7 75.1V77.1M568.6 66.2V84.6M390.9 72.9V84.2M343.7 70.8V87.3M373.6 70.7V76.5M582.7 72.6V77.2M521.0 69.2V82.8M551.4 73.9V82.7M327.5 72.9V83.1M480.4 71.0V82.2M396.0 71.2V87.0M394.0 67.6V82.0M468.4 71.7V83.3M586.3 67.2V85.0M408.7 74.8V83.7M528.0 73.9V84.6M341.3 66.9V84.9M317.8 68.3V83.4M405.5 69.1V79.0M333.8 71.7V85.3M415.5 69.6V86.1M580.0 72.1V85.1M590.2 75.2V81.0M542.6 75.1V86.2M509.6 67.5V86.9M410.7 67.7V79.2M496.7 69.6V77.5M565.0 73.0V84.0M593.7 71.4V82.3M507.0 70.9V77.3M570.9 71.3V82.3M401.5 74.3V77.4M468.1 75.1V80.4M503.8 75.0V83.7M523.2 73.3V79.6M552.0 73.2V78.5M553.3 73.0V86.7M428.4 70.6V80.2M405.2 70.6V85.2M506.2 74.5V85.0M538.0 72.2V77.1M458.6 71.7V87.6M509.4 69.2V79.0M552.6 70.2V84.5M567.2 69.3V86.8M398.6 65.6V77.9M544.2 74.2V82.9M435.8 66.2V87.6M324.1 72.0V83.8M330.5 68.6V84.9M591.4 69.6V84.9M317.7 65.5V77.7M416.7 72.1V87.7M343.1 69.5V85.1M463.2 66.6V82.9M443.1 72.9V86.3M572.2 70.0V77.8M511.6 75.1V76.5M358.5 72.6V78.4M587.8 72.6V83.8M540.7 67.1V80.5M369.5 71.3V79.1M516.2 71.6V82.4M374.6 71.7V87.0M531.9 72.0V80.6M338.0 65.7V78.0M518.9 72.4V79.0M444.6 74.4V80.5M565.5 65.5V80.5M326.6 74.2V82.5M452.0 69.0V80.3M408.9 69.2V79.1M359.5 68.6V82.9M586.0 72.5V79.6M458.6 67.2V84.2M520.0 74.3V83.5M384.0 71.5V77.8M461.5 70.3V76.7M427.6 71.8V81.0M523.3 69.1V84.8M440.6 68.6V86.6M445.7 73.9V77.6M380.3 71.1V79.6M491.2 71.6V77.5M478.2 67.2V79.2M483.1 68.2V81.3M574.6 68.6V84.8M491.1 70.7V85.1M364.0 69.6V82.9M539.0 68.1V82.6M337.6 74.7V76.7M552.2 70.1V80.6M406.7 70.5V77.1M395.4 73.4V79.7M508.7 71.0V82.3M593.6 72.9V82.1M574.0 72.4V82.0M571.2 75.3V81.9M477.8 70.8V79.6M418.5 72.2V78.5M595.5 71.7V78.7M501.7 70.8V76.9M507.4 72.5V81.3M579.0 71.5V81.2M414.8 75.3V81.0M498.5 71.5V81.8M475.1 73.9V81.8M361.5 74.1V77.2M431.8 70.9V78.2M543.2 72.9V81.0M579.7 72.2V77.4M596.0 70.4V81.4M570.7 72.8V78.7M573.3 73.5V76.5M387.3 70.6V77.2M422.6 70.9V80.9M471.1 71.1V76.6M341.9 71.1V79.6M391.4 73.3V78.2M534.2 70.1V76.5M336.9 74.1V77.4M367.1 73.6V81.1M471.9 70.6V78.5M361.7 70.7V76.8M411.0 71.9V76.8M540.1 75.1V80.4" stroke="#666666" stroke-width="0.6" stroke-opacity="0.4" fill="none"/><path d="M459.6 73.3V82.6M361.9 74.7V82.8M537.0 67.9V78.3M398.1 71.9V81.7M355.4 71.9V86.3M419.7 70.7V79.4M588.8 74.1V83.3M410.6 74.5V80.5M404.9 73.2V77.9M549.6 69.7V78.4M410.5 72.7V80.9M552.2 71.0V87.4M478.2 73.8V83.0M525.1 70.7V85.6" stroke="#aeaeae" stroke-width="0.6" stroke-opacity="0.4" fill="none"/><path d="M400.7 69.2V86.0M346.0 71.9V87.0M512.1 74.8V79.4M341.6 72.3V80.9M533.9 70.3V83.3M545.2 74.0V77.6M557.6 73.3V83.1M344.5 71.3V84.7M397.4 73.5V82.0M479.8 71.3V77.3M466.1 74.1V84.3M334.3 69.2V82.5M405.2 71.0V86.8M417.1 71.2V79.5M518.1 72.2V86.1M326.6 71.3V82.6M358.3 74.2V78.7M481.3 66.7V86.6M432.8 72.9V80.8M582.8 69.0V85.4M488.5 65.5V81.2M397.9 65.9V83.0M422.9 72.1V85.5M571.2 65.7V78.9M533.4 71.5V84.5M427.6 70.1V83.3M351.1 65.9V85.1M475.6 68.3V76.4M574.5 70.2V86.8M584.0 66.7V83.1M450.9 66.0V78.1M461.2 74.7V85.0M417.9 74.4V77.0M342.6 72.3V85.4M568.0 66.4V84.5M461.9 70.4V78.6M418.5 65.5V86.5M412.2 74.0V82.9M470.5 68.3V85.4M436.1 67.0V84.3M376.3 71.0V80.1M486.4 65.9V79.5M484.6 71.1V81.0M322.2 73.3V77.1M491.7 73.3V77.1M392.4 70.2V78.9M352.8 72.8V77.4M551.8 71.2V77.0M396.7 65.7V76.8M398.6 66.3V81.4M399.4 68.6V80.6M476.1 71.9V78.5M506.3 71.5V81.4M515.1 71.4V85.5M317.5 72.2V80.3M465.3 67.7V78.5M351.8 72.0V78.6M517.6 69.5V77.1M407.2 68.8V83.0M521.3 66.4V86.4M494.6 68.0V84.0M454.3 67.0V84.5M461.8 71.0V84.4M422.1 75.2V83.4M550.5 66.0V76.5M442.6 69.1V87.1M423.1 72.9V85.2M547.1 72.2V85.2M517.1 74.0V80.2M481.6 67.3V84.5M337.1 69.0V76.9M493.4 68.4V84.9M388.5 68.9V86.2M317.4 68.8V85.3M324.7 68.1V82.6M562.8 66.2V78.5M459.5 74.7V84.8M414.4 66.6V77.3M356.5 66.9V82.5M409.3 67.3V82.2M408.3 71.1V78.4M337.6 69.0V78.3M583.4 72.5V85.5M449.2 68.0V87.2M320.3 71.8V85.7M489.6 72.5V80.4M519.8 66.8V86.3M436.5 73.5V80.1M575.8 75.2V82.2M551.8 66.4V86.3M366.2 66.8V77.7M477.9 73.9V79.9M439.1 74.9V82.4M449.6 74.1V85.8M322.5 69.6V79.5M420.2 72.4V80.9M493.7 73.1V87.1M567.8 66.2V85.7M357.6 65.5V81.5M467.6 71.6V82.2M420.7 71.8V84.5M397.1 72.5V83.7M523.1 68.5V85.2M337.2 71.1V78.4M422.1 72.4V78.9M548.9 70.0V77.9M543.2 71.9V86.3M413.0 72.6V84.8M364.6 65.7V84.8M458.0 70.4V77.7M511.8 75.1V80.4M547.0 71.5V79.4M488.9 67.5V77.0M491.8 72.9V79.3M475.2 69.1V76.8M449.3 71.8V86.3M432.3 74.1V79.5M385.2 68.6V79.7M438.9 69.7V87.5M548.1 69.4V81.4M341.7 70.4V82.9M460.0 67.9V83.8M566.3 74.7V82.3M384.7 69.6V86.8" stroke="#8a8a8a" stroke-width="0.6" stroke-opacity="0.4" fill="none"/><path d="M495.3 69.9V78.6M420.8 73.5V80.4M482.6 72.6V83.6M453.2 70.8V81.9M523.9 72.1V87.4M594.1 71.1V78.9M465.9 70.5V81.2M539.7 67.4V81.5M399.1 70.3V81.6M583.2 73.7V77.8M345.5 70.0V77.3M527.0 67.9V78.9M559.5 65.9V80.8M417.0 74.2V82.0M453.1 69.9V85.8M415.6 66.1V87.6M330.1 68.1V86.0M582.3 66.6V87.4M556.6 70.7V78.2M566.4 72.6V81.1M438.4 68.6V77.6M564.9 65.8V84.3M391.8 72.1V79.9M381.0 74.1V76.9M553.4 66.8V77.3M467.0 68.7V78.2M453.3 65.6V85.0M462.9 66.5V87.7M588.0 69.6V83.1M479.2 66.0V77.3M442.1 66.7V86.3M396.2 66.7V83.9M325.5 72.8V86.6M424.2 70.6V86.1M388.1 72.0V76.9M320.9 68.2V85.1M408.6 73.4V84.6M556.4 74.9V77.6M495.4 68.3V86.7M582.5 73.2V84.1M547.4 69.7V81.8M328.2 73.0V87.4M448.5 73.8V81.6M356.3 69.1V86.5M373.9 68.0V85.9M393.6 67.9V80.4M582.2 74.4V85.6M346.5 69.0V82.7M325.6 74.1V78.4M414.3 73.4V79.6M542.4 65.8V83.3M452.6 68.5V82.9M370.5 74.1V85.1M422.7 71.7V81.4M526.7 73.2V77.6M423.9 73.7V83.6M354.3 71.0V84.7M534.9 72.3V80.6M580.4 71.2V84.6M318.8 67.5V77.6M323.7 72.0V78.7M526.6 72.8V78.0M518.2 75.1V82.9M498.8 75.1V81.6M548.0 69.4V77.3M358.2 68.0V79.8M453.4 74.8V77.6M482.5 70.0V76.7M523.5 70.0V78.5M360.1 74.1V84.4M338.3 74.4V78.6M553.9 70.5V79.8M542.5 68.0V81.6M387.6 71.9V80.5M354.4 70.1V76.6M495.9 68.1V78.9M516.1 73.8V82.2M433.3 67.0V84.2" stroke="#727272" stroke-width="0.6" stroke-opacity="0.2" fill="none"/><path d="M464.3 73.7V76.9M489.6 71.8V78.0M412.4 70.8V82.8M507.2 72.8V77.7M408.2 70.7V84.0M556.3 68.9V79.8M524.6 68.1V76.7M483.4 69.1V76.4M347.5 70.9V79.5M477.4 66.5V84.2M506.3 74.2V78.6M448.9 72.8V78.0M326.5 68.3V76.8M331.8 68.9V83.3M363.9 70.4V79.7M567.8 72.8V84.0M537.9 70.3V86.0M390.6 74.6V78.3M562.7 67.4V81.7M576.1 73.1V80.3M587.0 72.3V85.2M520.1 69.7V80.1M406.8 73.3V79.1M447.6 73.0V83.4M343.4 68.5V77.6M373.3 69.4V86.5M498.1 66.9V77.1M358.6 65.7V79.5M319.9 70.6V85.4M387.2 69.7V85.7M317.3 72.8V77.8M488.2 75.0V78.3M321.4 69.6V82.6M557.2 68.9V81.3M440.2 71.1V83.9M488.1 69.1V83.4M570.1 66.9V81.8M386.6 67.0V80.4M569.9 67.9V79.7M371.7 72.7V80.3M543.9 73.5V83.4M582.9 71.2V78.5M535.5 67.4V78.9M325.7 70.8V87.6M486.2 69.8V77.1M376.7 71.3V83.6M418.7 66.9V81.4M590.2 73.4V83.7M331.2 74.1V77.6M561.9 75.0V76.5M457.2 71.6V77.5M503.3 74.5V83.4M378.2 67.1V87.4M447.3 65.8V87.1M396.9 73.5V79.8M388.7 65.3V83.4M580.8 69.8V81.2M515.9 67.9V82.1M331.5 70.7V87.3M359.4 71.0V78.1M367.5 68.6V81.6M422.4 73.7V80.3M409.7 66.6V78.6M492.4 70.5V87.2M436.4 71.7V79.4M390.2 66.8V84.0M335.5 66.0V77.5M569.7 66.0V86.5M519.1 67.4V85.6M493.3 66.9V83.9M439.5 68.2V85.4M551.1 68.5V84.2M551.9 66.0V82.7M506.9 74.2V84.5M352.6 67.0V79.1M555.0 70.8V79.5M470.7 70.8V85.4M547.9 71.4V78.2M552.3 74.2V77.9M345.0 67.1V80.7M504.4 68.0V79.7M437.1 68.6V81.3M338.3 69.9V84.1M455.0 71.2V78.0M575.1 73.5V80.3M482.9 68.9V78.4M528.8 74.3V85.9M353.8 74.7V81.0M366.3 67.0V78.5M526.7 70.3V79.9M320.2 67.4V87.2M534.8 75.0V77.6M554.1 73.6V76.4M322.8 73.5V79.9M411.3 71.5V76.8M406.5 65.9V86.3M553.2 73.2V80.3M416.6 74.4V77.7M318.1 66.1V78.5M557.7 73.1V80.5M378.6 73.0V86.3M443.2 66.7V78.6M551.9 71.1V77.7M485.9 69.2V85.7M341.0 70.8V81.7M460.0 67.6V84.4M451.0 72.1V76.9M505.8 66.5V84.6M449.5 69.8V81.4M471.0 71.4V85.1M476.2 70.5V82.4M336.1 73.2V82.2M571.3 71.9V76.6M317.8 69.5V83.7M440.5 70.0V84.3M504.5 70.9V76.9M495.8 75.2V85.6M467.5 72.9V82.1M565.0 66.7V80.8M587.2 68.6V86.5M352.1 67.6V85.4M403.5 75.1V86.1M458.3 68.3V82.6M444.3 72.6V85.2M364.2 67.5V84.0M553.5 68.3V85.3M411.1 70.9V77.2M364.1 74.3V87.7M478.9 69.2V80.4M577.9 67.2V83.0M527.5 68.2V80.2M517.9 68.7V84.5M421.8 71.1V77.7M572.6 70.9V79.3M571.6 69.8V79.1M427.4 69.5V84.3M347.0 72.2V79.6M357.9 72.9V78.2M343.3 70.8V87.0M516.3 68.6V87.0M453.1 70.7V76.9M554.8 70.6V85.0M498.1 66.6V87.5M411.6 67.4V86.6M451.5 72.3V78.6M323.5 69.5V87.8M566.9 66.3V83.2M584.9 69.9V80.3M502.8 73.9V80.5M482.6 71.0V76.6M554.8 66.4V80.6M519.0 66.9V78.3M381.1 71.3V86.4M583.4 68.0V81.3M404.1 67.1V80.3M570.2 66.7V82.0M388.8 71.3V83.7M338.7 65.4V81.9M565.4 73.5V79.7M519.0 71.5V80.2" stroke="#727272" stroke-width="0.6" stroke-opacity="0.4" fill="none"/><path d="M379.7 66.6V84.6M592.0 74.1V81.2M526.5 72.9V87.6M359.3 70.6V84.8M400.6 71.0V78.6M413.1 72.8V77.9M500.8 70.7V83.9M335.2 72.6V80.9M482.6 68.4V79.3M356.7 73.8V84.6M401.8 72.3V85.4M499.1 74.7V83.8M565.4 67.2V82.7M338.7 66.1V84.1M532.6 74.8V80.9M351.4 66.9V79.0M455.6 65.9V84.1M577.6 66.1V86.2M355.2 74.6V85.4M460.8 66.4V85.6M475.3 72.8V80.9M456.4 67.5V86.2M434.0 70.7V77.4M360.0 73.9V86.3M534.5 73.3V80.1M570.1 72.5V82.2M561.3 71.8V87.7M377.4 67.3V79.9M485.5 70.9V84.1M527.2 68.5V83.4M442.5 74.4V77.6M343.7 73.9V81.6M368.7 72.7V81.4M587.5 74.2V78.7M484.5 72.4V77.4M391.4 73.2V79.3M434.7 75.0V84.8M390.7 69.8V77.2M460.8 73.2V87.1M324.0 68.6V78.0M368.6 73.6V79.3M397.3 66.9V80.7M446.1 69.7V77.7M502.7 70.6V87.3M554.8 72.1V85.0M383.7 72.3V79.6M515.7 69.3V78.5M373.6 71.3V82.0M439.9 67.1V76.5M531.3 66.8V84.0M388.8 73.7V80.5M490.7 73.1V82.9M542.6 72.5V80.8M321.4 71.1V83.0M582.5 66.1V79.4M478.4 70.7V87.1M378.0 69.2V79.0M593.3 66.6V87.0M367.6 69.9V80.6M558.5 71.0V84.6M318.6 72.6V86.3M478.7 70.1V87.0M363.1 73.9V83.9M414.0 73.2V85.5M471.8 72.8V87.6M437.6 69.2V80.2M547.3 73.6V78.9M442.9 73.5V87.1M395.5 68.6V83.1M432.0 72.3V81.9M587.3 68.1V83.5M520.0 71.8V86.1M371.9 73.4V77.4M476.9 67.7V79.5M588.1 70.8V80.5M364.7 65.7V79.4M348.9 69.7V87.6M481.4 71.3V76.6M397.1 69.9V84.9M587.8 74.0V85.3M501.5 70.7V86.4M460.6 74.5V79.7M421.9 68.7V84.4M319.2 74.3V85.6M458.0 72.2V78.2M554.4 68.2V87.8M504.8 70.3V84.4M457.3 68.5V84.5M505.4 66.7V79.2M585.2 71.2V83.9M368.6 69.0V78.2M463.8 69.0V79.3M585.5 71.9V84.0M530.8 66.6V79.5M435.6 73.8V80.2M588.6 74.6V84.7M332.8 66.0V80.8M549.9 73.9V86.7M504.9 68.6V83.1M575.8 74.3V81.1M545.6 67.3V84.9M340.1 74.8V85.0M355.7 68.5V83.3M463.8 70.7V82.3M560.2 65.3V83.3M335.5 72.6V81.5M533.3 67.8V86.6M485.2 70.4V78.2M412.0 69.0V81.0M322.9 66.4V86.3M400.8 73.3V77.7M555.0 74.9V79.4M531.3 68.8V86.0M594.1 72.8V85.3M575.4 75.2V83.5M439.4 66.0V79.6M521.1 68.7V82.5M363.1 71.5V87.0M432.0 66.6V86.2M355.2 69.2V82.6M525.3 68.5V77.8M333.2 67.4V81.1M374.1 74.6V81.2M443.2 71.3V87.7M320.6 69.6V86.1M431.6 73.2V77.3M390.0 69.3V76.6M517.5 65.8V80.9M484.7 66.4V80.9M513.8 74.5V87.7M447.7 74.5V77.1M404.5 74.6V83.5M483.2 73.6V76.9M344.1 72.9V84.5M328.4 70.7V82.1M462.1 69.9V80.7M550.1 69.5V78.7M561.5 69.1V82.7M458.7 67.4V84.6M505.0 73.2V79.5M577.6 74.4V80.1M579.1 72.5V78.4M490.6 68.6V82.9M409.3 69.0V84.6M488.9 71.2V84.7M504.3 66.9V83.7M348.1 65.6V85.2M526.9 70.8V79.0M320.9 66.3V79.5M402.5 66.2V82.6M343.1 75.1V82.9M324.2 70.8V87.2M471.9 73.0V82.2M549.1 74.6V84.7M566.1 66.6V80.2M405.9 72.4V79.8M512.5 68.3V83.7M536.0 65.7V83.7M318.7 68.5V84.5M370.0 68.1V85.9M479.2 68.3V81.1M355.5 67.3V81.2M567.4 67.4V80.2M320.1 69.0V86.9M572.3 65.9V77.6M553.4 66.9V85.5M574.0 73.3V79.2M542.3 72.0V81.6M416.8 67.0V81.7M398.4 67.4V84.9M426.2 73.8V85.3M560.2 75.2V83.7M487.9 74.6V80.2M584.6 74.5V81.7M435.2 71.9V76.6M575.8 74.7V78.0M336.1 73.2V81.0M385.8 72.9V81.0M563.0 71.8V81.4M503.9 71.9V78.8M356.0 75.0V79.7M318.2 73.5V77.8M495.3 72.1V77.3M445.2 71.0V76.8M538.4 72.6V77.2M369.3 73.8V79.9M464.3 69.8V76.5M508.4 74.5V82.0M533.6 73.1V77.6M318.3 71.4V80.4M395.8 73.5V79.4M516.2 72.1V77.7M575.1 75.1V79.3M494.2 72.8V78.8M586.9 74.0V82.3M544.3 71.3V78.2M328.0 71.8V82.0M359.1 74.4V77.7M545.8 73.7V76.2M360.1 72.7V76.4M521.2 72.7V80.5M512.3 72.9V77.3M529.7 74.4V82.3M482.9 73.1V80.1M566.0 73.0V76.9M370.8 73.3V78.6M392.8 71.7V80.8M549.7 73.7V77.5M519.0 73.9V78.3M340.4 72.8V79.3M347.5 70.1V77.7M463.7 70.0V79.0M444.9 70.1V81.7M570.8 71.4V78.6M320.1 71.6V80.8M593.6 70.6V80.7M325.4 75.1V81.4M466.0 74.0V81.2M480.4 72.2V81.1M418.7 74.1V78.4M398.1 74.5V80.0M573.4 74.2V80.6M399.4 72.5V78.5M533.5 73.8V81.1M334.6 73.9V79.2M516.4 71.3V78.1M477.2 72.3V77.9M514.5 71.6V77.6M396.1 74.6V81.0M345.5 73.6V78.6M342.9 74.0V77.7M505.6 73.9V82.1M549.1 72.1V76.7M341.3 72.5V80.3M453.5 70.0V81.5M344.6 71.1V79.2M387.7 70.8V79.5M396.0 71.4V77.6M413.5 71.0V79.0M357.9 73.3V81.8M417.4 70.5V80.9M381.5 73.8V76.6M483.1 72.5V80.5M472.9 74.3V81.7M561.8 72.7V77.6M423.3 71.7V79.3M491.5 72.3V81.5M335.8 73.9V76.7M590.5 70.9V81.0M558.0 70.8V80.9M416.1 72.3V80.6M415.6 70.8V77.5M319.6 71.2V77.2M390.3 71.7V81.3M488.6 72.1V80.7M487.6 71.1V80.2M573.3 70.7V76.9M502.3 74.2V79.2M509.4 71.9V76.1M497.4 74.0V79.5M329.4 71.9V82.0M581.1 71.7V78.0M508.1 71.6V81.8M318.8 72.8V76.5M435.4 72.5V76.6M326.4 71.6V76.4M349.1 69.8V81.5M409.4 70.6V81.3M425.9 74.1V80.8M376.6 71.6V79.9M478.4 74.3V81.3M509.4 70.8V77.0M480.0 74.4V81.0M583.0 73.7V76.7M459.1 71.8V81.3M326.3 72.7V79.1M501.8 71.5V77.2M405.3 74.0V81.4M575.0 73.8V78.0M394.5 70.2V77.0M507.5 71.0V76.7M563.4 74.7V81.2M495.3 73.0V77.5M452.3 73.1V80.7M533.2 74.7V76.5M478.1 74.2V77.8M377.2 71.4V76.6M347.8 70.7V81.7M488.8 74.7V78.8M514.4 75.1V82.0M521.2 73.6V76.7M360.5 70.3V76.7M408.1 73.2V82.3M521.2 71.1V78.1M317.5 72.9V78.3M458.1 72.3V76.2M335.5 71.2V80.4M348.4 75.4V81.6M347.6 73.7V80.4M587.5 74.9V76.6M347.5 74.7V78.8M468.8 74.2V76.6M579.8 73.8V76.7M532.2 72.0V80.7M391.9 73.2V79.3M435.3 71.6V79.3M327.5 71.3V82.2M401.9 74.5V76.4M399.9 71.4V76.5M419.6 73.4V80.2M444.1 71.1V80.0M392.0 70.9V80.1M577.4 71.7V79.3M476.6 72.1V76.4M432.4 74.0V77.1M479.6 74.9V81.3M326.3 73.1V76.4" stroke="#4e4e4e" stroke-width="0.6" stroke-opacity="0.4" fill="none"/><path d="M394.5 69.1V76.4M415.3 67.5V77.4M547.4 70.7V83.7M474.3 74.2V79.7M575.8 67.1V79.9M484.1 73.6V86.6M457.9 67.0V78.3M356.2 69.3V76.8M427.2 66.3V85.5M572.1 72.6V84.8M486.3 74.5V84.9M370.8 69.7V80.8M524.7 75.2V82.9M384.4 66.9V80.5M380.6 70.0V81.1M481.4 65.5V78.5M399.4 68.4V77.6M339.1 74.1V86.9M324.8 67.5V83.0M449.1 70.9V79.5M391.4 71.3V87.4M405.4 69.0V81.0M568.1 70.9V82.4M507.4 74.7V83.5M503.7 70.8V83.4M452.3 71.2V80.2M535.6 68.4V84.9M399.0 69.0V76.8M450.5 68.2V83.3M484.9 68.1V78.5M350.1 74.6V80.3M431.0 66.1V80.6M375.3 70.9V79.2M590.1 72.6V77.5M498.3 67.6V81.0M536.5 66.3V84.3M408.7 72.2V86.6M491.9 72.9V81.8M596.3 66.7V83.5M565.6 69.6V85.4M403.0 70.3V79.1M582.8 71.5V87.7M340.9 65.5V81.1M574.1 72.3V78.4M520.8 75.0V79.1M478.0 70.6V77.1M451.8 75.1V79.3M396.0 72.0V80.7M446.3 65.9V81.8M583.7 70.1V81.2M345.6 70.8V77.9M589.9 67.4V82.3M341.4 66.8V77.6M478.0 74.1V84.3M577.9 75.2V83.9M440.5 68.9V78.6M391.1 68.1V82.0M373.1 68.0V78.6M428.8 70.9V81.1M371.7 65.4V78.1M555.1 70.1V78.8M417.7 74.3V82.4M334.3 65.8V84.8M411.7 72.4V78.5M582.5 70.3V85.2M442.6 69.4V81.2M590.7 74.5V85.8M384.1 74.9V86.7M429.4 69.4V81.1M505.1 66.8V80.7M483.8 69.5V87.8M511.4 73.6V81.8M531.0 73.5V84.0M532.0 73.8V87.6M490.2 72.0V79.3M328.8 75.2V80.4M436.1 74.3V81.3M391.7 75.2V78.5M554.8 74.6V81.5M320.8 69.9V76.2M395.4 72.8V79.9M567.1 70.3V78.2M459.4 73.3V80.5M482.3 74.2V76.6M449.2 75.1V79.0M353.6 71.4V79.7M586.9 73.3V78.5M468.9 75.5V77.8M460.1 72.5V76.5M403.2 74.8V79.8M560.3 71.6V79.5M325.3 75.5V81.8M577.3 73.2V77.3M496.6 73.4V81.7M408.3 70.5V76.7M360.0 70.5V81.0M564.2 74.2V80.5M479.2 71.4V82.0M331.1 72.5V77.9M534.3 71.9V80.8M414.8 73.0V80.9M413.8 70.3V79.4M404.3 75.3V82.0M580.2 74.3V80.0M535.5 74.3V76.4M397.2 74.9V78.9M328.9 75.3V76.7M404.6 73.0V80.7M425.9 74.3V81.8M434.8 73.2V78.4M502.4 74.6V81.0M346.9 72.6V76.9M498.7 70.6V79.9" stroke="#4e4e4e" stroke-width="0.6" stroke-opacity="0.2" fill="none"/><path d="M398.5 70.5V78.6M572.6 73.2V77.3M325.1 72.1V84.1M434.3 71.8V83.5M537.6 74.1V79.8M513.3 71.5V85.7M473.9 72.9V87.6M439.3 66.3V86.3M539.6 74.0V83.5M424.9 68.2V85.5M369.3 68.6V84.7M369.2 66.0V78.1M453.0 70.9V80.9M364.8 67.1V86.7M499.9 74.0V83.9M564.4 70.0V85.8M438.1 66.6V82.3M469.7 74.1V83.0M458.4 66.6V78.7M357.9 66.1V77.6M487.7 73.3V85.0M360.3 69.3V77.0M549.5 72.3V77.5M529.3 68.1V78.9M482.9 70.4V81.5M401.5 73.6V82.1M525.2 72.5V86.5M585.0 68.9V81.8M369.0 67.2V82.6M529.0 70.2V76.5M491.3 68.3V84.4M394.7 67.2V79.8M421.7 70.4V86.3M372.5 70.6V79.2M511.2 65.8V82.3M400.1 72.5V86.4M583.4 66.3V76.7M373.6 67.4V78.4M529.1 66.6V81.4M525.4 70.6V84.7M349.4 65.6V78.8M452.0 69.1V79.0M361.8 73.5V84.5M555.5 72.5V82.9M342.8 65.7V85.3M492.2 67.6V86.7M511.6 69.3V83.1M336.6 74.7V85.8M529.0 71.9V79.0M337.6 67.2V83.8M592.4 71.2V78.2M367.5 72.5V82.9M478.2 72.3V76.6M345.6 66.4V76.7M464.5 66.7V86.8M321.4 74.9V83.9M591.3 73.3V79.8M359.6 72.2V77.8M504.4 70.2V83.2M368.1 69.5V83.0M555.8 71.2V79.2M536.3 70.7V87.7M579.7 72.9V82.4M420.4 66.3V80.5M559.6 67.0V78.9M367.6 72.6V77.3M552.8 70.9V82.7M526.4 69.0V84.9M509.9 66.1V83.7M368.6 71.2V78.7M393.4 72.0V86.1M468.4 66.0V82.5M318.4 71.9V80.6M414.7 67.9V79.4M441.5 70.1V77.3M332.5 73.4V76.9M396.6 70.0V86.2M460.8 73.7V80.8M396.0 70.9V84.1M361.5 66.9V82.3M357.4 72.2V79.3M569.5 73.1V80.2M578.8 67.6V78.2M432.7 73.1V76.8M496.1 73.6V77.8M352.7 74.3V85.8M562.0 73.4V79.8M478.2 73.8V85.4M575.9 74.7V84.8M337.6 67.7V79.7M486.2 74.3V77.1M385.1 65.7V78.6M366.6 74.5V87.5M323.3 73.9V86.9M425.4 71.4V82.6M568.3 72.4V87.4M501.1 66.1V78.0M370.1 72.8V84.0M511.0 75.0V79.7M516.7 72.3V80.7M538.5 72.0V84.8M329.7 70.1V87.0M404.1 73.8V79.9M581.7 73.6V79.8M543.1 71.2V78.8M477.8 70.5V81.0M436.6 72.4V77.8M325.3 74.9V79.4M337.4 69.9V76.7M510.8 70.5V82.0M470.2 71.2V80.6M332.4 71.8V78.4M498.9 71.6V77.7M487.2 73.7V82.1M594.4 71.9V81.9M586.0 75.4V81.7M496.9 72.0V78.9M571.3 73.5V76.7M413.2 72.9V79.4M358.3 71.8V81.4M319.6 71.4V78.5M393.9 73.2V81.8M452.4 73.5V76.3M325.4 74.1V81.1M502.4 70.9V77.6M518.9 75.5V80.8M324.5 71.4V76.3M321.3 74.1V78.1M337.8 75.3V78.3M556.5 70.4V79.9M349.0 72.0V82.2M524.5 72.5V78.9M437.0 72.4V77.1M511.2 75.1V77.4M490.4 73.3V77.4M578.4 72.0V80.6M493.2 72.2V76.2M322.6 70.2V79.6M481.9 73.4V82.2M593.4 74.7V82.1M520.6 73.1V78.2M593.7 74.7V81.6M345.4 74.2V80.4M392.5 69.9V79.3M333.6 71.4V80.4M330.1 71.5V79.4M574.4 70.1V78.1M484.4 70.2V79.9M413.3 73.8V78.4M592.3 74.6V80.1M499.3 73.9V79.4M512.6 74.3V78.1M593.8 72.8V76.7M374.1 75.2V81.9M340.3 75.5V76.8M350.7 72.5V80.0M386.7 74.6V82.1M505.3 74.9V80.7M567.9 74.9V78.1M439.8 72.8V81.2M534.2 70.4V80.0M574.0 75.2V80.3M524.5 70.3V79.0M559.1 71.3V79.3M416.1 72.0V77.4M453.7 73.4V81.8M428.1 73.6V79.9M521.8 75.5V78.1M404.2 71.1V79.7M456.1 71.0V81.9M591.6 72.3V77.8M490.3 71.6V79.2M451.6 74.0V79.7M440.4 72.7V78.8M590.8 71.6V77.2M477.6 70.0V79.6M499.6 74.2V78.9M436.1 73.4V78.1M524.0 75.3V76.4M422.9 72.4V76.3M519.0 70.2V80.6M467.7 70.3V78.2M491.5 72.6V79.6M515.7 74.8V78.2M516.1 72.6V77.7M433.9 71.7V80.0M525.1 72.0V80.4M373.2 71.3V80.2M403.1 72.0V79.9M529.5 73.0V80.3M589.5 72.5V76.5M425.5 70.0V82.0M352.6 72.6V79.0M551.5 71.5V81.4M539.4 74.1V76.6M333.9 71.6V78.3M405.3 74.0V81.2M417.5 73.6V78.6M497.3 70.5V79.7M463.8 72.6V76.1M412.7 69.9V80.1M380.4 74.1V82.2M353.9 70.3V79.2M552.3 72.1V81.1M319.9 74.2V77.9M563.3 73.3V78.6M583.5 71.2V78.5M387.1 71.8V76.3M441.3 75.4V80.1M582.8 75.1V80.9M563.5 73.5V78.0M446.5 72.2V78.8M331.1 75.0V80.9M352.2 75.1V78.5M572.9 73.4V79.7M333.2 72.5V78.8M509.9 71.0V77.7M427.2 71.7V77.2M558.7 70.8V81.9M486.9 73.9V78.5M381.4 74.2V80.6M583.0 72.1V77.9M590.3 74.0V80.4M575.6 71.1V77.0M415.5 74.3V80.2M557.0 72.8V77.3M381.2 71.2V82.0M588.6 73.2V78.0M580.3 70.7V76.5" stroke="#363636" stroke-width="0.6" stroke-opacity="0.4" fill="none"/><path d="M426.2 70.2V85.0M525.1 74.6V79.7M535.2 74.6V87.0M476.8 72.7V87.4M519.7 68.8V85.8M355.1 70.9V79.1M587.5 71.8V79.0M395.2 69.7V77.8M380.2 66.6V85.0M513.7 66.1V83.6M368.2 72.9V76.8M541.0 75.1V85.5M580.7 66.5V77.5M410.5 65.7V85.9M497.9 71.4V86.0M455.7 67.7V78.9M476.7 74.9V85.9M465.0 66.3V84.5M551.0 66.1V83.0M425.3 66.0V82.3M333.7 68.7V83.0M367.5 65.6V79.0M411.8 71.2V76.8M498.9 72.5V78.7M413.3 68.7V78.0M595.4 74.4V79.8M566.3 66.0V79.9M547.9 73.9V80.7M553.2 68.5V80.6M522.3 73.9V84.8M416.2 69.7V85.7M484.0 65.6V86.8M557.0 68.3V80.3M324.4 68.5V84.4M375.7 74.6V82.7M438.2 72.0V79.6M461.3 70.8V79.3M458.0 71.9V78.5" stroke="#727272" stroke-width="0.6" stroke-opacity="0.6" fill="none"/><path d="M543.9 66.7V76.6M362.1 70.0V83.9M594.5 68.2V85.9M435.4 71.5V80.1M537.8 74.7V78.0M565.4 74.0V80.9M475.4 71.0V78.5M396.5 68.1V84.0M584.7 73.3V85.1M517.6 71.3V81.7M591.0 69.3V76.7M317.3 68.1V84.6M335.6 69.9V87.3M594.2 72.1V83.8M367.3 74.2V79.0M360.5 75.2V83.3M569.3 74.1V86.9M505.0 66.3V83.0M457.4 66.2V86.1M449.6 70.1V81.8M435.0 67.3V82.7M447.4 65.6V80.3M448.3 73.4V82.4M574.1 68.7V77.8M370.5 74.2V76.5M371.2 70.9V80.8M328.3 70.4V84.3M359.2 68.4V77.8M386.9 73.5V82.3M538.2 69.4V82.4M417.3 67.7V77.4M559.2 73.1V86.7M348.6 68.5V81.9M506.2 65.9V79.8M469.9 68.2V86.0M360.3 72.6V86.1M333.6 73.9V76.7M435.0 73.0V81.4M396.0 71.5V86.5M326.0 66.1V81.5M384.4 72.0V79.8M366.1 74.6V76.9M441.5 71.0V84.7M513.2 69.1V83.6M368.0 71.3V86.3M420.3 70.7V79.4M354.9 68.7V77.9M552.8 69.2V82.6M396.2 70.9V86.1M344.9 73.7V83.7M494.1 69.7V85.4M524.1 70.8V87.5M534.3 73.2V87.0M387.2 65.6V76.5M360.6 71.4V83.3M525.9 71.4V83.5M494.9 70.2V80.3M538.0 72.2V80.3M374.9 69.0V85.0M345.5 66.9V81.2M529.9 68.8V78.8M462.4 74.1V84.9M581.7 68.2V87.2M373.3 74.3V84.0M454.5 74.7V80.1M447.5 68.4V84.1M413.3 66.0V81.3M564.9 68.8V85.7M342.1 73.7V77.3M500.7 73.6V87.0M423.4 71.4V77.9M573.4 66.7V81.8M527.3 68.1V82.9M506.7 71.0V85.7M383.2 67.2V78.8M435.4 65.7V86.2M343.8 70.3V82.2M419.8 73.8V77.5M348.8 70.2V86.4M563.3 67.8V78.2M582.3 72.8V77.3M334.2 67.5V82.8M367.9 66.4V86.2M528.4 66.7V85.2M401.7 70.6V80.0M366.9 72.5V81.2M341.4 73.1V86.6M384.7 72.6V84.9M425.2 70.1V79.4M518.3 65.8V85.7M352.6 72.3V77.1M401.7 66.2V86.5M494.5 74.2V87.2M485.0 73.3V86.1M471.8 69.1V78.8M564.3 71.6V77.0M569.9 72.4V85.9M461.7 68.4V78.7M359.2 69.5V85.9M510.8 70.0V83.4M548.5 73.3V87.5M513.5 73.1V84.4M411.9 72.3V82.9M572.6 70.5V79.4M359.7 66.3V78.1M419.0 71.1V85.1M399.7 70.0V76.8M459.3 74.4V80.2M326.4 71.5V84.6M462.8 68.3V84.9M393.3 70.8V83.4M372.1 69.2V80.5M319.1 68.2V85.5M369.2 74.1V87.3M431.5 68.7V78.6M437.2 73.2V83.5M551.3 66.5V84.7M397.8 70.7V85.6M590.0 66.9V80.7M344.2 65.9V85.0M354.9 69.0V82.9M380.9 73.6V84.8M515.9 66.5V82.4M448.4 72.6V81.8M376.1 74.2V79.1M349.3 74.5V81.9M538.9 72.4V78.0M570.9 70.7V77.9M431.0 71.1V77.6M345.3 73.8V77.5M583.9 73.8V76.7M336.0 72.1V78.9M476.4 73.4V77.0M456.2 73.5V80.2M387.8 73.1V77.7M460.2 70.3V81.1M437.9 73.6V78.4M452.1 75.4V77.2M570.1 70.3V81.6M430.8 71.5V82.1M420.3 70.1V79.8M442.7 75.4V80.4M515.4 74.8V81.1M554.2 71.7V81.3M379.5 73.9V78.2M436.6 71.3V76.9M522.4 70.0V80.0M465.6 70.1V79.3M378.9 73.5V78.0M325.8 70.0V78.6M327.9 75.2V76.8M588.2 71.0V78.5M429.4 70.3V79.5M568.0 72.9V79.4M494.4 73.1V79.4M407.9 70.0V79.5M344.4 74.3V80.3M592.2 75.1V77.0M582.4 75.4V79.4M487.7 73.9V77.9M436.9 74.9V81.5M481.0 73.0V80.4M475.9 73.9V79.9M318.3 72.3V80.6M582.6 72.4V76.7M442.3 71.3V76.6M512.1 72.4V78.6M420.6 74.1V80.4M328.9 72.6V80.2M347.6 74.8V79.7M408.1 72.8V77.9M529.2 70.7V78.2M426.1 72.9V77.5M318.2 72.8V81.5M331.5 74.7V79.7M378.4 70.0V80.8M538.5 70.6V80.3M499.0 72.6V80.7M386.2 72.0V76.7M324.1 72.0V81.2M458.4 72.2V76.6M515.0 70.5V76.6M540.4 70.0V77.9M474.0 71.2V79.8M545.0 72.8V81.2M325.7 72.2V78.5M496.3 72.9V78.8M498.1 70.3V77.3M322.7 72.0V82.0M493.9 70.4V78.6M584.0 73.9V77.9M540.5 70.4V82.3M341.8 72.3V81.9M502.3 74.9V79.7M585.2 74.7V78.2M457.1 74.6V80.2M366.6 74.8V77.7M589.5 73.4V80.7M541.1 74.8V77.7M426.0 71.8V77.0M320.7 73.8V79.7M468.3 75.2V78.0M331.5 71.2V76.3M506.2 72.7V77.0M364.0 75.0V82.0M417.0 73.5V80.0M548.7 72.7V76.2M425.5 75.3V78.6M423.6 70.7V78.7M552.7 74.4V78.1M344.9 74.1V81.8M419.2 71.9V78.1M329.3 70.6V78.4M346.6 75.0V79.5M591.9 75.2V77.1M375.8 74.4V82.1M350.6 74.0V78.0M328.8 70.9V77.5M550.0 71.3V77.9M580.7 70.6V78.7M594.7 71.8V76.5M449.0 71.5V76.8M380.8 73.9V79.4M506.8 74.0V79.0M361.2 71.8V80.3M441.4 71.8V78.3M331.8 70.2V79.0M372.8 74.9V77.5M404.5 73.3V79.6M329.8 70.0V80.7M463.4 73.6V78.9M339.6 74.0V77.2M322.8 75.2V80.3M449.8 73.9V77.3M332.8 75.0V80.6M499.5 71.7V82.2M516.7 75.3V81.3M502.9 73.9V79.2M317.6 72.3V81.6M547.7 72.8V78.4M482.9 71.8V81.7M443.8 70.0V79.5M436.5 70.6V76.5M545.4 71.3V77.1M336.5 71.4V81.8M498.5 73.2V77.2M464.8 72.7V78.5M482.6 71.2V76.1M470.5 70.6V81.4M322.3 72.7V81.7M329.4 71.1V81.4M560.0 71.2V77.1M323.0 75.2V81.6M527.2 73.3V81.8M508.0 70.4V77.2M481.5 72.7V81.4M455.3 74.0V76.8M381.4 70.2V76.2M407.2 71.9V79.7M449.4 70.8V80.1M462.9 73.5V81.2M582.5 71.0V79.6M370.7 73.1V77.3" stroke="#5a5a5a" stroke-width="0.6" stroke-opacity="0.4" fill="none"/><path d="M430.8 65.9V81.2M411.1 67.7V80.9M562.2 70.9V82.3M363.6 73.5V78.5M343.2 68.1V83.6M578.4 67.7V78.6M404.2 67.3V86.3M591.3 71.6V84.0M529.4 71.1V77.3M421.3 66.4V86.0M353.1 74.1V87.0M362.9 73.9V87.0M360.5 66.0V77.5M356.6 69.7V79.6M428.6 73.6V85.5M324.3 71.9V80.1M495.5 66.1V85.1M529.1 73.6V83.8M373.7 66.1V82.1M380.0 66.3V86.2M483.0 74.2V79.5M375.6 73.3V82.2M577.8 67.4V83.4M453.2 72.4V85.5M483.8 71.0V85.4M388.7 65.7V79.9M554.8 73.9V81.3M421.1 73.3V84.6M539.6 73.8V84.9M506.8 73.2V85.4M376.7 69.0V86.4M472.8 75.2V82.9M340.7 74.8V79.7M478.2 73.5V85.0M571.4 67.9V86.3M523.2 74.1V81.4M542.9 67.0V87.2M595.9 68.1V76.5M321.9 66.7V86.0M334.1 67.8V78.3M582.1 66.6V84.7M405.7 73.2V87.3M454.7 71.4V83.2M326.3 67.0V79.5M554.8 68.5V76.4M382.4 66.0V86.1M476.5 73.5V79.8M327.3 74.8V83.1M368.4 67.2V84.6M329.5 75.0V84.3M465.6 71.8V81.1M565.9 69.2V82.5M346.8 72.7V80.8M480.5 71.3V77.8M566.2 71.4V86.6M528.8 69.1V78.6M519.9 67.4V86.6M336.8 70.9V81.9M403.7 68.2V83.9M570.3 70.4V82.4M487.9 68.2V79.6M469.2 71.1V78.6M534.6 70.6V79.8M504.8 72.5V82.9M413.4 66.3V79.2M322.7 65.5V79.3M543.1 66.2V79.9M354.8 74.5V81.0M500.8 66.1V77.4M362.7 68.9V83.2M510.4 68.3V87.7M363.6 75.0V85.9M347.4 68.2V83.6M513.4 70.2V82.3M553.4 67.8V84.9" stroke="#969696" stroke-width="0.6" stroke-opacity="0.2" fill="none"/><path d="M593.3 65.9V83.1M510.8 72.5V83.1M323.4 69.3V84.7M536.7 68.8V83.8M354.5 67.4V87.3M344.2 73.6V83.6M423.5 74.3V77.6M496.2 71.6V78.8M442.4 72.5V80.5M344.0 68.7V85.1M595.9 74.3V81.9M347.6 65.5V80.5M447.3 67.4V81.6M560.3 68.6V87.4M476.7 68.1V83.6M321.9 65.4V86.9M544.2 69.5V86.2M566.1 69.4V81.4M517.6 67.6V77.0M390.3 69.4V81.3M570.6 67.2V83.3M352.7 70.2V85.6M570.2 74.8V86.5M341.5 73.2V78.5M359.4 66.9V77.0M358.1 73.5V77.5M462.2 70.1V76.8M367.1 74.5V80.5M432.3 70.2V82.2M451.5 72.1V78.7M501.4 74.4V81.0M458.7 74.6V81.9M382.7 75.4V77.0M527.5 73.8V81.9M524.7 71.9V79.8M576.8 70.9V81.1M454.9 75.3V79.6M481.0 74.2V79.0M393.4 70.3V80.9M516.0 71.5V77.9M524.7 70.6V77.3M397.6 74.3V78.4M453.2 70.8V76.9M374.9 72.6V78.3M379.9 71.9V79.5M564.3 70.8V82.1M433.7 74.4V80.2M406.6 71.7V76.5M469.2 70.8V77.8M531.3 73.3V79.7M456.0 74.4V77.5M350.1 72.1V80.6M439.3 75.3V80.1M328.9 70.2V78.2M590.7 73.3V80.3M405.7 71.5V79.0M441.9 75.0V77.5M336.9 70.9V81.4M430.2 74.6V80.7M383.9 73.2V78.1M384.6 74.0V76.4M458.9 70.5V80.6M382.8 70.2V80.5M588.6 75.1V80.6M450.6 71.4V80.3M525.7 71.6V76.5M593.2 75.4V80.3M479.1 72.4V77.2M520.1 72.2V80.4M576.0 70.5V80.7M388.3 70.3V77.3M468.3 70.4V79.8M345.3 72.4V81.5M321.9 74.5V78.6M351.4 73.4V81.6M469.3 74.3V79.0M402.6 73.3V77.4M371.6 73.3V80.4M562.6 70.6V81.2M527.8 71.9V78.8M365.5 74.8V80.0M500.1 71.9V81.4M592.7 70.3V82.3M492.2 69.9V79.4M432.6 69.8V80.0M554.1 74.5V78.9M579.4 72.7V81.7M440.5 74.0V81.7M457.0 70.7V77.6M391.2 71.0V79.5M381.3 73.0V77.6M327.0 72.9V77.1M370.1 69.9V76.7M590.5 73.5V77.1M382.1 75.1V77.9M485.1 69.8V80.9M459.2 73.9V77.9M585.6 70.5V78.9M491.2 71.5V80.9M491.4 73.6V81.9M353.5 75.3V79.9" stroke="#363636" stroke-width="0.6" stroke-opacity="0.6" fill="none"/><path d="M446.5 66.8V82.0M452.7 75.2V79.8M358.8 70.8V83.2M357.5 65.5V80.8M527.4 70.9V76.8M409.7 74.6V84.0M555.2 69.8V84.0M388.4 66.4V85.1M517.4 68.6V81.3M321.1 71.4V86.0M453.8 70.0V81.2M586.0 73.1V81.7M367.4 74.9V80.7M500.3 71.6V79.0M397.3 70.2V85.2M499.3 70.7V82.8M321.8 73.1V82.2M395.2 70.1V85.1M480.3 70.4V86.1M382.8 73.9V87.2M437.4 66.2V84.2M573.4 73.2V87.2M461.0 69.7V81.0M329.2 70.9V85.2M402.8 75.2V82.3M496.4 71.7V84.9M576.4 70.6V84.8M559.9 66.5V82.6M559.9 74.0V84.0M480.1 70.3V86.7M360.3 70.4V80.4M540.5 67.8V77.3M494.7 68.4V86.0M362.4 69.1V85.8M490.5 69.9V81.6M328.6 66.7V86.2M475.7 72.1V81.9M501.3 72.2V80.8M535.1 67.9V87.7M416.0 72.4V85.7M354.7 66.0V84.8M324.7 72.3V80.0M347.1 66.0V85.7M424.6 70.5V77.8M413.5 74.6V84.0M566.9 72.6V77.9M482.2 71.8V82.5M474.8 72.3V78.7M538.5 71.6V86.0M356.4 67.8V85.8M324.8 70.9V79.1M573.4 75.1V77.9M507.5 72.6V77.4M442.5 73.1V79.6M578.2 70.7V80.3M557.8 69.9V81.3M449.7 70.3V78.9M408.6 72.2V81.7M551.4 73.5V76.4M377.4 73.9V81.8M471.5 70.6V81.8M595.4 74.4V80.1M440.8 70.5V80.5M335.4 74.9V80.6M510.3 73.3V76.3M584.4 72.9V76.7M556.1 69.9V79.9M340.9 73.6V80.5M484.3 72.1V78.3M335.7 73.4V81.3M401.0 71.5V78.9M377.4 74.8V77.9" stroke="#666666" stroke-width="0.6" stroke-opacity="0.6" fill="none"/><path d="M352.3 70.2V82.5M439.7 71.3V86.8M488.3 65.9V84.0M575.7 68.9V85.1M592.3 69.0V84.6M335.9 71.1V86.1M512.4 70.2V87.5M493.2 74.9V78.8M484.9 69.4V86.1M435.0 66.6V80.2M462.5 70.9V80.5M410.8 74.8V83.9M441.9 74.9V85.1M440.6 66.0V78.9M381.9 69.6V85.9M351.0 73.7V79.9M531.1 72.8V76.8M342.9 72.0V78.1M339.8 74.5V85.8M435.8 65.7V77.4M352.3 67.9V81.6M465.8 71.8V82.0M336.9 74.0V80.0M578.4 66.0V81.0M584.8 68.0V80.5M578.0 66.5V79.8M546.3 74.8V84.0M380.6 65.9V86.3M411.6 75.0V76.9M376.3 72.9V87.8M380.0 65.7V82.3M546.1 74.0V78.3M583.4 75.1V81.7M386.8 69.0V80.6M473.7 72.0V80.8M552.9 68.9V77.3M551.5 65.3V79.0M330.2 68.5V83.1M366.7 73.0V77.3" stroke="#a2a2a2" stroke-width="0.6" stroke-opacity="0.6" fill="none"/><path d="M415.9 73.2V81.9M541.8 72.6V80.0M499.5 69.8V76.5M411.0 74.5V76.5M528.4 67.3V80.6M515.8 75.0V77.3M596.1 70.7V77.1M537.9 71.6V78.9M433.3 72.7V76.8M550.4 73.9V83.7M491.0 72.6V81.8M511.3 71.4V86.5M352.5 71.5V80.7M443.4 68.1V87.6M580.5 69.9V83.3M360.9 71.2V78.4M458.9 73.1V79.7M335.3 73.3V77.9M563.7 73.2V77.9M443.1 68.1V87.7M344.9 73.5V87.0M377.8 71.8V84.6M577.0 71.3V83.5M508.7 69.3V86.0M457.5 70.0V87.5M492.9 73.7V76.6M347.5 69.3V78.6M509.4 72.1V86.4M375.9 72.5V80.8M586.5 68.1V77.2M421.5 73.4V85.4M370.8 71.5V80.8M506.1 66.6V85.3M508.8 66.0V78.6M564.7 65.6V86.0M391.6 69.4V86.0M352.4 72.1V87.0M441.7 68.1V83.8M431.7 73.9V82.2M462.4 74.8V79.2M546.2 70.3V80.2M475.5 73.7V86.3M531.5 70.2V82.3M585.9 68.5V76.4M371.6 70.2V79.1M355.7 71.4V80.7M440.9 70.3V80.9M461.6 74.5V83.3M342.3 74.1V80.2M558.5 74.3V80.2M449.5 65.3V85.7M446.7 69.5V82.0M448.3 68.2V78.5M574.4 66.3V83.1M579.5 67.1V85.2M541.8 70.3V86.6M336.7 68.8V78.8M535.5 67.5V82.3M392.5 68.5V77.7M515.2 69.4V79.1M346.9 73.8V85.6M463.4 70.7V77.9M387.4 66.1V78.1M472.2 71.1V81.4M454.6 65.5V81.7M371.5 72.1V87.0M350.4 69.0V82.1M495.3 74.8V78.3M325.2 69.0V78.3M449.6 71.5V81.6M544.9 72.3V84.6" stroke="#7e7e7e" stroke-width="0.6" stroke-opacity="0.2" fill="none"/><path d="M475.4 70.0V84.3M470.8 70.5V79.5M555.5 74.2V84.6M394.4 75.1V86.8M323.4 71.1V77.9M494.6 72.4V86.0M418.6 72.2V82.2M426.9 67.1V86.0M489.1 68.2V84.7M522.9 67.2V81.0M557.4 72.1V76.7M448.9 72.8V85.5M544.6 68.0V78.2M475.2 69.5V85.6M370.6 70.9V77.9M449.1 69.1V79.1M463.0 69.1V86.9M532.5 71.9V85.5M541.1 69.2V86.8M507.9 70.9V77.7M521.3 69.7V77.3M579.5 73.3V76.9M390.1 74.1V81.2M551.8 71.3V81.1M501.9 70.8V77.7M349.4 74.2V82.1M579.6 70.4V84.8M397.4 72.5V79.2M482.7 70.9V84.9M383.7 69.6V78.7M588.2 74.9V77.3M323.3 68.9V80.8M421.5 72.8V87.6M464.3 74.4V85.5M568.5 65.8V76.5M436.7 66.5V87.1M502.0 74.1V80.0M418.3 71.4V84.6M402.9 72.7V77.6M414.1 66.2V87.2M506.0 68.5V76.9M425.4 71.0V85.5M596.3 73.4V83.4M368.3 73.1V76.5M503.4 74.8V84.3M332.7 74.5V77.1M484.1 65.7V82.4M388.6 73.4V85.2M580.1 73.2V83.8M454.5 72.9V82.8M465.9 74.4V84.2M559.8 68.0V82.4M497.8 66.6V78.6M495.9 69.2V77.5M581.9 75.1V77.0M485.0 70.6V81.5M414.9 73.7V83.5M417.9 75.2V78.2M491.1 70.2V80.3M350.3 69.8V84.4M521.7 66.3V79.6M385.1 72.7V78.7M340.1 66.6V83.6M366.5 71.2V84.5M366.0 70.2V86.0M478.7 71.2V82.6M529.9 72.6V80.0M536.2 70.1V84.4M447.5 66.5V82.2M505.9 74.3V85.8M551.4 66.3V85.5M327.8 75.3V82.5M512.2 72.8V84.7M327.7 75.0V85.9M575.4 69.7V80.9M528.3 73.5V87.5M470.4 72.1V82.4M422.7 66.4V86.2M494.1 72.6V79.5M358.1 74.6V81.9M352.0 75.3V80.5M548.8 70.5V77.6M547.1 75.0V77.9M593.1 74.5V81.3M349.6 72.1V76.7M540.7 74.0V81.3M480.8 74.9V81.9M540.9 70.1V78.2M591.1 73.8V76.4M490.3 71.7V81.5M463.3 74.7V81.9M348.3 72.9V82.0M411.8 74.5V80.4M502.0 70.0V81.5M416.4 73.5V77.0M388.1 75.4V82.1M446.1 72.0V77.1M510.2 71.4V80.0M329.0 74.7V81.6M394.1 72.5V76.5M395.9 74.8V79.0M369.7 70.7V80.0M420.9 74.0V81.5M408.1 69.9V80.1M513.5 75.2V77.4M504.3 70.7V82.2M503.3 70.8V76.2M590.8 71.1V78.3" stroke="#5a5a5a" stroke-width="0.6" stroke-opacity="0.2" fill="none"/><path d="M441.5 71.0V86.3M544.1 69.4V76.4M408.7 72.9V78.5M380.3 66.0V80.8M556.3 71.0V83.5M344.8 74.4V87.8M419.4 69.8V76.4M366.9 71.8V79.1M507.1 72.1V81.1M454.3 70.4V85.1M530.9 70.4V85.2M574.8 71.0V79.7M554.9 74.3V87.6M502.6 71.7V83.0M399.9 68.3V83.9M487.3 67.6V79.3M578.7 67.7V77.2M412.2 73.5V81.0M592.2 70.5V84.3M497.2 68.1V78.8M489.9 72.6V83.3M585.2 70.1V76.6M373.7 68.2V79.8M327.5 74.9V81.0M364.8 66.6V78.5M457.3 72.9V85.8M403.3 75.1V77.3M475.1 70.2V85.9M354.5 67.3V84.5" stroke="#8a8a8a" stroke-width="0.6" stroke-opacity="0.6" fill="none"/><path d="M476.2 71.8V87.6M539.6 72.6V78.0M401.8 71.7V82.0M360.7 72.0V82.1" stroke="#aeaeae" stroke-width="0.6" stroke-opacity="0.6" fill="none"/><path d="M459.4 69.2V79.6M540.7 74.6V85.7M363.6 71.5V82.2M434.0 67.1V84.8M581.6 67.1V78.1M407.0 70.5V77.6M350.6 66.9V87.0M592.6 69.7V85.7M586.4 68.5V86.1" stroke="#aeaeae" stroke-width="0.6" stroke-opacity="0.2" fill="none"/><path d="M317.9 70.0V78.5M536.1 73.5V79.6M414.4 74.8V79.1M516.9 71.0V76.6M396.3 70.7V80.4M424.2 70.1V80.1M405.6 73.3V80.8M370.9 72.7V80.1M343.6 72.5V78.6M380.3 71.6V80.9M454.3 74.0V77.9M396.8 75.4V77.8M363.0 74.5V78.3M414.4 70.3V79.2M454.9 71.5V81.6M474.4 70.0V78.7M459.5 74.3V77.6M517.5 71.1V78.5M564.2 72.9V81.6M397.7 72.9V77.7M419.4 75.5V77.3M542.6 73.3V78.8M432.3 74.0V77.8M328.6 73.4V80.3M356.0 74.0V78.0M340.8 73.2V80.3M336.8 74.1V78.5M382.3 70.8V80.5M418.7 71.8V81.6M421.1 73.9V80.8M561.0 73.4V77.7M594.4 71.6V80.1M480.1 74.4V81.7M470.9 73.3V78.6M517.5 71.5V77.4M536.4 73.7V81.3M502.4 72.0V79.1M492.1 74.7V76.3M466.0 75.3V76.7M581.1 71.8V78.4M585.5 69.9V76.5M382.3 74.7V81.5M482.2 69.9V76.7M566.7 73.4V77.9M554.5 72.9V80.8M359.0 74.7V76.7M585.5 70.3V79.7M436.1 70.8V78.9M389.0 71.7V77.7M367.0 71.4V77.8M367.9 73.3V81.8M460.0 72.0V80.1M352.2 70.4V79.9M454.4 71.5V79.1M352.0 73.1V78.9M381.2 75.1V79.3M401.3 73.3V76.1M580.3 69.9V76.9M330.8 73.8V76.2M421.2 72.4V76.9M385.0 75.6V78.7M388.4 70.9V78.8M389.6 74.8V76.3M387.0 71.7V78.0M383.3 75.1V79.6M383.3 73.2V83.1M420.2 73.9V78.2M424.6 69.3V77.1M424.9 72.7V76.4M423.5 75.5V75.9M425.8 71.6V78.0M417.0 71.6V77.7M516.5 74.1V82.1M517.1 74.1V77.0M515.2 68.1V79.1M517.7 73.3V82.7M509.8 72.5V76.7M512.2 74.8V80.3M512.2 67.5V77.9M541.0 73.4V77.6M540.4 72.2V78.8M538.5 75.1V79.2M541.1 73.0V78.0M536.3 73.4V82.1M541.0 74.6V79.7M592.2 73.0V76.7M586.5 74.5V77.1M584.9 72.3V77.2M591.8 75.0V76.6M589.2 70.8V76.5M587.8 67.3V80.1M584.8 75.7V77.9M588.6 73.7V81.6M591.4 73.3V83.3M591.7 74.1V76.6M587.0 75.7V78.0M591.2 70.9V79.6M363.8 74.5V79.1M364.2 75.6V77.8M364.6 71.8V78.1M363.6 67.6V78.7M362.0 70.6V75.8M459.7 74.0V77.6M455.8 70.3V77.0M459.4 68.1V78.8M458.3 74.0V79.7M461.9 71.3V76.1" stroke="#1e1e1e" stroke-width="0.6" stroke-opacity="0.6" fill="none"/><path d="M396.6 70.7V76.1M398.6 75.4V78.5M450.3 72.5V76.9M481.9 70.1V77.1M563.4 71.8V78.1M380.8 74.8V76.8M565.6 69.9V77.3M589.9 74.0V77.8M359.8 73.9V80.1M358.4 74.3V77.8M465.6 71.7V82.0M398.7 75.0V78.3M376.0 70.5V76.3M464.7 75.1V79.6M422.5 70.1V78.1M441.4 72.8V79.3M392.5 74.0V78.9M513.4 70.4V76.7M367.5 74.5V77.7M451.1 73.3V80.2M444.5 71.0V77.4M332.3 71.7V76.9M501.3 74.0V81.7M430.1 72.4V76.2M360.2 74.9V79.1M589.2 70.4V78.1M492.8 73.6V78.3M422.6 72.7V77.5M551.8 70.0V76.6M387.7 74.9V77.5M596.1 74.9V80.6M351.8 73.2V79.4M457.8 71.8V79.6M590.8 72.5V80.4M368.4 71.7V80.5M409.6 70.8V78.4M352.3 70.6V76.9M370.8 72.4V81.0M458.1 74.3V80.6M444.5 71.8V76.3M392.0 73.9V79.5M476.3 70.0V81.5M587.6 73.5V80.3M566.2 71.7V79.1M334.2 73.7V81.8M485.7 71.2V81.0M537.6 70.1V79.3M339.1 74.0V78.0M505.9 72.8V77.1M509.8 75.0V82.2M497.1 75.2V80.7M578.4 74.5V80.8M338.7 70.1V77.3M491.2 73.6V77.0M505.5 72.1V77.3M372.4 70.8V77.8M356.5 72.4V78.6M489.7 70.7V80.0M391.1 74.5V81.1M340.8 71.7V77.6M419.0 70.5V77.7M593.2 71.3V80.6M503.7 75.0V76.7M478.3 73.7V77.6M396.7 74.4V81.6M413.0 70.1V78.2M357.9 72.1V76.2M437.4 70.3V77.5M577.1 71.0V79.1M434.2 73.2V76.5M495.7 72.9V80.2M344.1 73.5V79.5M368.8 70.8V76.3M530.9 71.6V76.3M572.3 75.4V81.9M590.8 75.3V79.5M325.5 73.6V77.5M386.5 69.9V82.0M495.0 72.9V81.5M460.8 71.9V81.0M346.8 73.1V77.0M452.7 75.1V81.3M502.1 73.4V80.1M486.0 70.6V81.9M474.1 74.5V76.5M401.4 74.0V80.3M443.0 71.9V80.3M344.2 72.6V79.6M488.9 73.2V80.4M446.5 71.3V80.6M485.8 71.0V81.3M548.6 73.3V79.7M506.4 72.2V80.9M464.3 70.3V76.4M346.8 70.2V79.9M479.7 70.3V76.2M568.7 72.4V77.2M552.3 72.3V80.1M562.3 73.1V80.2M377.4 73.7V77.9M380.0 69.9V78.9M344.9 70.1V79.4M404.1 75.0V76.5M419.7 71.3V80.4M436.9 75.3V81.5M437.4 74.0V78.4M401.0 70.3V76.7M554.6 74.7V79.3M390.3 71.6V81.4M547.8 72.8V78.7M444.2 73.6V81.5M550.9 71.3V76.7M364.6 70.5V80.1M575.1 71.0V80.8M469.7 74.9V76.8M581.6 72.5V81.5M446.1 75.3V76.2M323.1 74.4V78.3M319.0 73.4V79.9M509.0 72.6V81.7M435.2 71.4V81.9M459.4 70.1V80.3M541.8 71.2V79.2M506.3 70.9V79.7M333.3 71.0V81.6M517.3 73.8V76.5M372.8 74.1V78.3M357.9 75.3V78.6M477.0 70.5V81.8M550.8 73.3V81.1M366.2 74.9V81.6M526.3 74.8V81.5M515.6 74.8V77.9M583.6 72.1V80.1M595.0 72.7V77.9M434.6 73.0V81.1M586.5 73.4V82.0M505.0 70.8V80.8M559.4 75.5V78.0M580.3 74.7V79.8M523.1 75.1V77.5M585.0 73.8V77.6" stroke="#2a2a2a" stroke-width="0.6" stroke-opacity="0.4" fill="none"/><path d="M530.2 70.9V80.4M433.1 73.2V80.0M486.1 71.0V78.2M574.6 73.0V81.3M498.1 74.0V79.8M531.0 74.3V77.3M527.7 73.0V81.3M323.4 71.1V78.2M577.5 72.1V77.4M560.1 74.2V80.8M513.7 70.0V80.7M372.7 74.6V78.2M374.7 74.3V79.4M557.5 71.0V81.3M509.6 70.7V78.6M553.0 72.3V76.3M335.2 72.4V76.8M460.6 71.9V82.3M321.3 69.8V82.0M522.7 74.8V80.3M353.6 74.0V77.1M376.7 71.3V80.3M371.6 72.3V77.1M483.3 74.8V80.2M451.7 72.1V78.2M455.8 70.1V80.3M594.4 70.8V81.3M509.8 74.2V80.1M554.8 72.4V80.0M397.8 69.9V77.2M432.0 74.7V77.8M588.3 70.4V80.1M371.3 74.5V80.7M573.1 74.6V78.6M536.7 70.1V80.3M392.4 74.9V79.8M594.0 73.5V81.6M409.7 71.8V78.3M361.5 72.9V78.4M570.7 71.1V80.9M475.4 71.4V80.5" stroke="#1e1e1e" stroke-width="0.6" stroke-opacity="0.2" fill="none"/><path d="M360.1 70.4V81.4M503.7 75.0V81.9M527.3 73.0V77.7M357.4 70.5V79.6M542.7 72.0V80.9M408.2 73.3V82.2M572.2 69.9V78.5M472.4 75.0V80.3M505.9 75.0V77.3M443.4 72.7V76.6M552.9 71.1V81.0M354.9 72.9V77.8M319.9 70.9V80.3M460.4 75.3V78.2M421.1 71.7V78.9M586.8 70.1V79.9M386.2 74.7V82.2M445.6 70.9V82.2M437.4 69.9V78.1M353.2 72.4V81.8M587.3 74.1V77.8M545.1 70.7V82.1M453.8 75.4V76.7M461.8 71.4V80.4M358.3 73.2V79.1M545.9 75.2V77.6M584.1 72.1V82.2M337.4 70.7V76.7M358.1 72.5V78.8M340.8 74.4V80.3M590.3 72.2V79.7M431.2 72.1V77.8M407.9 73.4V82.1" stroke="#2a2a2a" stroke-width="0.6" stroke-opacity="0.2" fill="none"/><path d="M588.8 71.2V81.5M571.6 73.7V80.0M418.6 72.9V80.9M360.0 73.2V81.9M397.1 71.7V80.6M470.8 73.1V76.4M596.3 69.9V77.8M590.2 74.5V76.1M566.1 70.4V81.2M349.4 72.1V78.1M401.6 72.5V81.4M579.5 75.1V79.0M357.0 70.4V80.9M360.3 70.5V80.9M372.6 74.4V78.2M430.5 74.4V78.7M444.6 70.6V79.7M331.8 70.0V82.2M465.6 74.7V76.8M374.8 74.4V81.1M368.2 71.3V76.9M437.0 74.0V76.4M564.0 74.4V79.6M344.5 74.6V79.5M484.7 71.6V76.6M324.6 75.3V80.4M550.4 70.5V77.6M422.6 70.3V77.6M455.4 73.0V80.4M544.1 74.7V79.2M427.7 73.4V79.3M390.8 72.9V79.6M595.9 72.5V80.8M356.9 72.0V76.2M523.2 72.4V78.8M468.6 72.4V80.5M453.3 71.8V79.8M485.3 70.2V79.0M528.6 72.0V81.6M450.5 74.8V79.2M340.1 73.8V80.2M371.5 71.8V81.2M376.4 71.3V77.9M464.5 73.1V80.3M450.7 73.6V76.5M504.3 73.1V77.3M335.0 71.5V76.4M512.7 73.0V79.1M529.9 74.8V76.3M327.1 71.1V80.3M383.2 74.2V76.4M465.0 72.1V81.0M573.9 72.4V82.1M515.1 75.3V79.8M408.9 72.9V78.2M556.2 70.7V76.3M468.2 74.3V82.0M356.0 71.2V81.2M543.4 74.9V77.9M362.8 74.5V81.8M329.9 70.2V76.4M558.6 71.7V80.4M525.7 73.8V79.5M438.2 70.5V77.6M367.0 74.7V80.3M373.4 73.9V79.7M480.8 72.0V77.3M429.1 72.5V82.0M514.2 73.6V81.2M397.2 72.6V77.6M503.5 75.3V79.0M320.4 73.4V81.5M509.8 71.0V81.0M582.3 74.7V82.3M524.9 71.3V80.1M381.6 73.0V79.2M464.8 73.9V81.6M471.2 73.4V78.6M519.7 70.7V77.5M459.3 72.5V78.3M327.8 72.7V82.1M584.8 72.5V80.0M541.5 71.0V79.3M577.5 70.9V78.5M570.3 75.1V76.9M430.2 73.8V81.7M436.3 73.6V78.1M345.7 70.2V80.3M455.6 73.7V80.5M508.0 70.4V79.7M529.0 74.6V79.8M575.0 74.9V78.2M333.9 70.7V81.8M502.9 73.5V82.2M432.1 75.1V81.7M406.4 72.7V81.2M501.1 72.3V81.3M327.7 74.6V77.8M426.1 75.2V81.8M421.2 70.9V78.8M366.6 70.1V79.9M464.7 74.8V82.0M337.4 72.4V81.4M454.0 73.8V79.5M466.2 70.2V80.0M364.1 73.3V81.9M375.1 75.4V79.1M332.4 74.1V78.6M541.3 72.2V80.3M555.2 72.6V76.5M529.9 72.8V79.3M363.6 70.9V80.1M425.8 70.3V78.1M468.3 70.5V80.4M578.4 70.3V77.1M338.8 75.1V81.8M354.6 72.3V76.9M364.8 72.3V79.7M385.5 70.8V81.0M428.4 74.9V79.2M335.5 71.8V78.8M426.7 74.1V81.0M507.5 72.3V79.4M368.1 71.7V81.2M324.4 75.1V80.1M412.2 71.3V79.5M488.4 74.1V80.0M592.3 71.0V81.5M366.1 73.3V82.2M583.8 72.0V76.5M369.7 73.8V76.5M323.0 73.5V77.9M563.5 73.3V78.6M348.4 71.8V77.0M368.7 74.7V80.6M500.3 73.3V78.8M526.2 72.3V81.8M389.9 70.0V77.6M589.5 73.0V79.1M476.4 72.8V76.4M408.0 72.8V80.7M431.3 74.5V81.6M381.0 73.2V80.3" stroke="#1e1e1e" stroke-width="0.6" stroke-opacity="0.4" fill="none"/><path d="M516.5 74.4V77.0M409.3 73.7V79.9M320.8 75.0V77.5M513.3 71.9V76.3M576.4 73.3V77.2M584.1 75.2V77.1M385.5 70.6V78.3M419.3 71.7V80.3M385.6 70.4V81.9M407.0 71.6V78.4M438.0 74.2V77.4M521.2 74.4V81.1M440.0 70.8V81.5M372.6 71.9V79.8M379.9 74.0V79.3M581.5 70.5V79.5M452.6 73.2V78.6M579.4 75.1V78.5M334.8 74.2V79.7M320.7 71.6V81.5M503.2 71.0V80.6M505.7 70.8V79.4M456.9 73.8V78.1M544.6 75.4V78.8M334.5 74.8V81.3M422.4 72.4V78.6M531.3 72.4V81.2M346.7 73.0V80.9M367.4 71.5V79.5M505.4 71.8V82.2M445.7 70.4V76.6M490.7 72.7V76.8M441.6 70.9V77.6M375.5 71.6V81.8M447.0 74.4V79.9M357.6 73.3V81.2M338.5 75.0V76.6M538.7 74.9V79.5M480.9 75.1V82.0M405.9 71.4V78.4M585.1 75.2V81.6M525.0 70.3V78.3M396.9 74.7V80.2M473.7 74.9V80.9M394.3 71.4V78.2M443.4 72.3V78.3M385.8 73.5V81.0M483.9 70.7V81.4M406.3 74.1V80.6" stroke="#121212" stroke-width="0.6" stroke-opacity="0.4" fill="none"/><path d="M586.0 71.4V77.2M505.6 73.1V82.0M342.1 72.9V81.4M351.1 73.0V79.8M578.9 75.5V78.3M447.5 71.8V81.7M530.2 70.5V78.1M526.4 73.9V79.7M452.8 74.5V78.5M422.7 71.1V81.2M565.4 71.2V80.0M571.7 73.8V79.9M582.9 73.5V81.1M466.5 74.0V76.9" stroke="#121212" stroke-width="0.6" stroke-opacity="0.2" fill="none"/><path d="M556.3 75.3V78.7M553.0 70.4V79.3M504.3 74.1V76.4M379.5 75.4V78.1M367.1 71.8V76.7M364.6 72.8V78.6M390.2 73.5V77.9M468.2 71.7V81.7M524.5 72.8V78.4M413.6 74.4V80.0M521.6 73.1V76.5M552.6 75.2V78.9M413.6 71.7V76.8M332.8 74.2V80.6M337.8 73.2V80.7M436.0 75.4V79.8M578.8 74.3V77.9M465.7 72.9V81.6M422.8 72.6V77.1M584.8 72.8V81.1M366.5 70.3V80.1M476.4 70.6V76.8M490.7 73.5V77.6M336.9 71.4V80.1M551.8 70.3V81.0M365.2 72.4V76.8M567.3 72.1V76.1M477.8 73.9V77.8M356.0 72.0V78.3M564.1 72.1V78.0M367.1 73.5V78.3M395.3 74.1V76.9M461.5 71.7V78.1M486.9 74.9V79.6M500.2 71.4V80.8M483.4 74.2V81.6M473.9 71.8V78.7M402.0 74.0V82.1M436.5 74.1V81.4M525.9 70.2V76.8M567.5 69.9V77.8M453.7 74.6V80.6M346.9 73.7V76.7M379.0 73.2V76.7M479.6 71.2V80.4M556.5 73.7V78.9M577.9 72.4V76.4M568.9 70.3V78.0M353.6 74.9V77.9M391.0 73.7V78.2M332.8 73.6V82.0M582.7 73.3V76.7M442.4 70.6V79.0M404.6 74.5V76.8M505.3 71.2V80.5M447.8 73.5V79.0M556.7 70.4V76.8M564.5 71.3V79.9M367.0 72.7V79.5M561.2 74.2V80.1M539.6 71.8V78.1M456.5 74.6V81.5M424.2 72.1V78.0M385.2 72.7V77.3M373.8 70.6V82.3M524.2 70.1V79.8M379.8 74.9V80.8M425.3 73.5V77.2M381.9 75.3V79.4M498.9 70.4V76.6M583.6 74.4V76.4M400.6 74.2V77.5M483.6 70.9V80.6M492.9 73.6V78.1M476.5 74.9V81.7M530.7 74.6V79.3" stroke="#2a2a2a" stroke-width="0.6" stroke-opacity="0.6" fill="none"/><path d="M331.9 70.9V81.2M352.8 74.2V81.6M527.8 72.9V79.7M342.1 72.2V82.0M401.8 72.9V78.1M592.0 74.3V78.2M587.4 72.2V76.5M532.8 71.5V79.9M549.8 70.6V76.3M458.5 72.5V76.3M487.7 74.3V82.1M561.9 71.8V77.9M428.4 72.1V78.2M573.6 72.0V78.3M481.5 73.8V76.3M554.3 71.9V79.3M590.5 74.9V79.9M465.3 75.0V78.9M508.6 73.9V78.3M410.6 71.8V79.4M411.5 71.5V80.4M433.6 73.9V77.2M338.0 74.9V79.6M560.4 73.2V78.1M383.2 75.4V80.1M358.1 73.3V78.0M495.0 72.4V78.7M420.2 73.6V77.2M374.2 74.6V80.8M411.8 72.3V77.5M549.5 70.3V77.5M388.9 73.3V79.2M387.2 71.8V76.1M383.3 75.6V79.8M390.0 67.4V78.2M386.2 74.0V78.1M382.3 75.7V81.5M391.7 73.5V76.1M382.5 70.2V78.4M384.2 73.4V79.7M383.4 72.5V77.2M391.9 74.5V76.2M386.3 67.9V78.5M384.6 75.1V77.5M384.0 75.2V77.4M384.7 70.2V76.3M389.2 68.9V79.8M424.2 73.6V78.4M422.5 74.6V76.6M424.3 73.3V77.6M421.3 73.5V77.4M425.8 73.7V77.7M423.6 72.8V76.7M423.5 75.8V78.3M424.9 68.6V77.4M425.6 69.9V80.7M420.1 71.7V78.3M421.4 73.3V79.3M417.6 73.4V77.7M426.4 74.6V80.3M417.7 74.0V77.1M511.3 75.7V76.7M521.1 69.9V81.0M516.0 74.7V80.3M510.3 72.1V77.3M511.2 72.1V76.9M516.3 73.1V80.3M519.4 69.5V83.5M519.6 75.3V79.7M519.4 73.4V77.0M519.9 72.8V80.1M519.4 74.6V76.0M509.2 71.8V79.3M508.9 64.5V76.1M513.1 71.9V80.7M511.3 73.9V76.3M510.8 67.3V79.5M536.2 74.6V80.8M538.4 74.6V80.5M542.0 72.1V80.1M537.4 72.2V76.4M540.4 74.6V78.1M537.8 69.4V76.9M535.4 75.3V78.5M534.8 75.5V79.9M586.8 73.8V76.1M587.1 73.8V80.8M587.3 72.9V76.7M589.7 73.9V78.1M590.7 68.7V76.0M591.1 70.9V78.0M587.3 75.4V78.3M589.9 71.2V80.1M585.4 73.5V76.2M589.3 71.0V76.2M587.2 75.3V78.6M361.3 74.8V76.4M362.9 75.4V77.3M364.1 71.3V76.0M363.4 74.1V80.6M364.7 73.2V77.4M360.7 75.5V79.6M360.2 74.1V77.7M362.6 74.1V79.7M362.3 69.6V78.5M361.0 71.3V76.2M460.0 75.3V76.3M457.6 75.8V78.4M456.2 74.2V77.6M456.0 72.5V78.1M459.3 72.7V77.9M455.2 70.9V80.5M460.2 71.6V75.9M457.9 69.9V77.9M461.2 67.6V77.1" stroke="#121212" stroke-width="0.6" stroke-opacity="0.6" fill="none"/><path d="M388.1 74.6V81.7M387.8 74.1V75.8M387.4 73.2V76.5M383.9 70.4V78.4M386.2 73.7V77.8M381.9 72.2V76.5M382.0 74.9V80.6M391.3 71.4V77.1M381.7 74.6V79.7M381.2 73.0V77.7M386.1 71.5V79.3M390.8 69.0V81.2M390.3 70.3V76.7M389.4 75.5V76.8M387.0 70.0V76.2M381.6 74.3V82.5M389.5 67.4V77.8M384.9 73.6V79.3M391.5 72.0V84.6M384.4 75.4V77.1M385.6 75.5V78.4M382.5 75.8V76.3M388.5 70.8V78.0M426.1 74.4V77.5M417.8 73.5V76.0M426.3 73.8V76.3M426.5 74.8V76.5M425.2 70.3V78.6M419.5 75.3V76.1M419.2 73.7V76.3M418.5 72.4V76.8M422.0 67.7V78.2M419.6 75.4V84.4M417.8 72.0V84.2M421.2 68.9V82.9M422.1 75.3V81.3M422.1 72.8V80.3M520.2 74.8V77.8M518.9 72.5V82.3M520.6 71.8V76.3M510.0 70.5V81.7M521.5 74.3V76.5M513.0 73.0V78.5M511.1 72.8V76.5M515.9 74.6V78.8M521.6 74.7V76.4M512.2 75.2V78.5M515.2 70.6V76.1M510.7 73.6V77.6M517.9 75.3V81.1M519.0 75.1V78.4M520.6 75.1V77.8M521.5 71.5V78.2M515.5 69.0V83.1M513.4 74.1V76.3M521.9 72.2V76.2M508.5 75.7V77.8M519.2 73.3V81.6M518.3 74.1V85.8M518.4 75.0V76.4M517.0 73.7V77.1M513.9 75.0V76.6M519.2 72.7V80.4M509.1 75.2V75.9M520.8 74.1V76.2M518.1 71.6V81.9M508.6 73.1V80.5M537.9 74.6V77.3M535.6 73.1V77.1M540.8 72.3V76.3M539.3 74.5V79.6M540.6 74.1V78.9M536.1 75.4V78.0M535.2 73.8V77.2M537.6 74.9V79.3M535.4 72.9V80.3M537.1 73.6V76.0M538.2 68.2V80.8M539.2 70.5V83.5M584.7 71.2V79.1M588.1 73.7V76.4M587.6 72.0V77.5M591.6 75.1V79.4M586.7 75.8V76.6M588.0 74.7V76.5M591.3 74.2V76.1M590.4 70.9V85.0M589.0 73.5V81.9M589.1 75.7V79.2M585.3 72.6V78.2M586.4 73.4V80.7M591.4 69.5V78.0M585.4 71.4V76.9M586.1 75.3V80.2M365.6 71.5V80.4M365.4 74.6V77.7M364.7 75.1V78.2M361.9 73.8V82.2M364.8 74.3V76.2M360.7 72.9V76.9M363.5 73.4V82.5M363.8 71.1V76.8M360.0 74.7V77.9M455.9 73.9V82.2M456.2 74.1V77.5M458.4 75.6V79.7M457.9 75.0V81.6M458.8 74.9V80.6M461.1 75.0V78.5M457.7 69.8V75.9M461.5 72.8V76.2M458.4 72.3V79.5M457.5 74.9V79.4" stroke="#1e1e1e" stroke-width="0.6" stroke-opacity="0.8" fill="none"/><path d="M385.7 75.4V78.1M385.5 75.0V77.5M390.5 75.6V77.2M391.3 70.7V78.9M391.0 67.4V77.2M382.5 75.2V76.3M383.5 72.7V79.3M384.0 72.9V77.0M388.2 69.3V82.1M390.9 72.7V78.5M389.8 68.3V76.0M382.0 73.1V78.7M385.6 74.3V76.0M383.7 71.1V78.0M390.1 70.0V76.6M389.5 72.6V76.8M388.4 69.9V78.3M382.8 75.3V77.7M389.5 75.4V75.8M388.9 73.1V76.7M391.6 72.3V78.3M389.1 72.5V78.0M382.1 74.8V78.8M384.1 74.2V82.2M391.0 71.5V77.9M390.1 75.5V82.4M384.9 75.4V82.4M384.0 75.0V76.4M382.7 69.6V79.5M388.1 73.8V82.9M387.4 75.4V76.3M386.1 69.4V76.6M420.5 73.7V78.3M422.3 72.6V76.2M417.6 74.0V78.3M421.5 67.8V79.1M425.4 70.8V80.0M420.2 74.2V80.0M421.3 75.2V78.2M424.7 71.4V77.9M422.1 72.0V81.2M420.5 75.5V79.0M426.9 75.1V77.1M425.3 71.1V77.9M417.7 74.3V79.3M423.4 71.6V76.8M426.4 74.7V79.0M426.4 75.4V76.3M421.7 73.1V80.0M417.9 75.0V80.9M418.2 74.1V78.9M421.9 72.5V78.3M421.7 71.3V80.0M422.4 73.5V77.2M426.3 72.4V76.6M424.2 73.5V76.3M427.0 73.4V76.8M423.9 68.2V77.5M424.4 73.8V79.3M423.2 75.5V78.4M419.5 74.3V78.5M421.9 71.8V79.0M423.7 74.8V81.9M418.4 74.2V76.3M520.3 73.6V77.6M518.7 75.6V77.8M510.8 72.5V76.4M515.4 72.0V77.5M512.7 72.3V77.1M517.6 74.9V79.3M513.8 75.1V75.9M509.1 75.5V79.6M514.2 73.3V76.9M509.1 71.2V78.4M508.6 72.6V76.7M515.6 68.9V79.7M513.0 74.7V79.4M510.5 75.7V76.1M520.4 71.6V83.7M521.3 75.6V80.0M510.4 73.0V82.9M520.7 70.3V76.0M519.5 71.1V79.3M512.6 72.6V76.6M520.3 72.1V75.8M518.5 73.9V80.4M521.1 75.1V78.3M517.6 73.1V76.8M519.7 68.7V77.2M520.0 71.1V77.0M519.1 72.5V82.2M516.0 74.6V76.8M521.2 73.9V76.8M516.6 72.0V78.3M512.3 73.8V84.3M521.9 74.5V76.7M520.5 75.1V77.2M511.1 74.4V77.8M517.6 71.3V79.0M514.6 72.0V78.5M511.2 73.2V76.6M516.0 71.7V77.9M521.0 75.0V77.0M516.4 74.2V75.9M513.3 74.6V78.6M515.4 70.9V75.9M520.2 71.3V82.3M508.9 73.9V76.5M516.6 75.5V76.0M521.2 71.0V80.9M540.4 65.8V77.0M537.1 75.2V77.9M541.2 74.2V76.2M535.5 73.5V80.2M540.6 75.0V83.4M537.7 70.3V81.6M536.1 75.4V79.6M536.1 74.1V77.0M535.2 73.5V76.8M537.0 66.5V77.0M541.1 68.6V82.0M541.9 74.1V75.9M537.8 73.1V81.5M541.7 72.9V77.3M541.6 73.6V78.4M539.1 75.6V76.8M535.0 71.0V78.0M541.5 75.7V76.1M537.6 71.2V76.3M538.5 74.8V77.8M538.7 74.2V78.2M536.6 73.7V75.8M539.6 74.6V79.1M535.9 70.7V80.5M541.8 75.7V77.8M540.3 75.4V76.5M538.8 71.7V79.7M541.5 75.2V78.6M539.6 73.7V77.3M541.2 73.5V81.9M534.9 70.4V75.9M538.4 74.2V76.3M587.6 69.0V78.0M586.5 71.7V76.9M587.3 73.4V79.1M589.6 71.5V79.9M585.2 72.9V82.2M587.5 74.1V77.3M588.2 74.6V76.0M587.3 75.3V76.4M584.8 74.6V77.0M590.7 65.8V77.5M585.6 74.5V76.2M591.1 72.6V77.9M589.0 72.4V76.0M588.1 70.0V82.0M592.5 74.4V76.4M590.5 70.8V78.7M588.7 71.6V76.3M592.2 73.5V76.8M584.7 74.5V76.6M586.4 73.0V77.6M588.9 72.6V78.3M590.1 75.7V76.3M588.1 74.4V77.2M586.3 69.9V76.0M591.5 72.9V81.1M592.2 73.2V79.7M586.4 72.6V78.4M588.0 75.5V77.3M586.2 74.4V79.1M584.5 73.8V85.4M592.7 73.8V78.8M586.7 73.9V80.1M588.8 72.7V83.2M587.8 73.5V80.9M361.4 70.4V79.1M364.3 70.8V84.5M361.2 73.7V77.4M361.2 68.5V77.2M362.8 75.7V76.1M364.7 74.9V82.5M361.4 73.2V79.8M361.8 74.6V78.4M361.7 71.6V75.9M362.6 72.0V82.1M363.1 75.0V77.9M360.9 71.3V76.5M362.4 71.4V76.8M360.7 70.4V78.7M363.8 75.6V81.1M360.1 74.5V77.7M365.2 74.8V78.0M362.6 75.2V81.6M361.7 68.5V76.8M364.0 70.8V85.1M458.4 68.9V82.9M458.8 74.1V75.8M460.9 75.2V75.8M461.1 73.3V78.6M456.1 74.7V76.4M459.9 75.6V78.9M457.8 73.0V78.3M457.0 71.4V77.5M460.4 73.0V76.3M460.6 72.5V76.9M460.3 71.3V80.3M456.0 73.3V77.0M457.5 73.4V77.7M455.5 67.7V76.7M459.5 75.2V79.1M458.7 71.9V79.7M460.5 68.1V76.0M461.8 75.2V77.9M458.5 68.7V78.0M459.7 74.6V79.0M458.6 71.7V76.5M455.8 74.8V78.2M459.9 75.2V78.2M459.6 70.1V77.9M461.9 65.2V78.0M461.5 70.2V76.2M456.3 74.1V79.1M460.4 72.2V79.3" stroke="#121212" stroke-width="0.6" stroke-opacity="0.8" fill="none"/><path d="M388.8 72.5V80.1M383.1 72.5V76.1M381.2 73.6V76.7M387.0 73.0V77.4M387.8 67.1V80.1M388.2 72.6V81.5M390.4 72.0V81.2M390.2 72.3V77.2M381.5 69.5V76.3M387.8 71.5V79.2M383.1 74.3V76.5M391.6 74.6V77.2M386.8 75.6V78.3M387.1 75.0V78.7M387.7 75.1V77.9M391.6 68.0V76.5M382.0 70.3V81.2M384.6 74.9V79.8M389.4 73.9V77.7M387.5 73.5V76.2M385.0 72.0V78.8M388.4 73.0V83.7M386.5 75.7V75.9M390.7 74.2V79.1M386.6 74.1V82.7M387.3 75.4V82.0M381.2 68.2V76.8M383.9 75.8V76.0M384.7 66.9V77.9M391.9 73.7V77.6M386.5 70.9V77.2M391.1 71.5V76.0M382.8 74.8V80.3M383.7 74.7V78.9M386.1 73.1V80.4M388.4 69.0V76.9M384.0 74.3V76.4M383.7 70.1V79.1M389.7 66.1V76.1M389.8 70.1V78.8M387.5 72.2V76.1M426.3 75.3V77.4M420.9 74.1V77.3M420.1 74.6V77.8M424.2 75.7V78.3M425.2 74.6V79.3M422.8 71.5V79.7M420.5 68.4V80.9M418.4 71.0V78.1M423.7 75.5V76.8M423.3 75.8V80.2M422.0 74.7V83.4M423.1 72.6V79.0M425.9 74.7V80.7M426.6 74.3V76.2M421.6 71.3V79.6M426.2 74.1V76.9M422.9 74.9V77.9M421.4 74.8V77.0M425.1 71.3V79.9M418.4 71.8V79.5M420.4 70.1V78.3M424.0 73.4V78.9M420.6 74.5V79.5M418.0 70.4V79.1M426.0 69.5V80.5M420.4 74.1V77.1M419.4 75.1V77.9M417.7 72.1V77.1M417.9 73.4V82.6M419.7 72.2V76.1M418.0 71.9V77.9M425.3 74.1V76.9M424.9 73.0V81.2M420.6 75.0V78.7M421.7 71.7V80.5M422.0 72.7V77.2M510.3 74.2V78.4M519.6 75.6V79.5M509.2 72.4V81.8M519.0 74.1V77.1M513.3 74.1V77.7M519.4 72.9V78.4M511.7 74.4V80.0M513.8 75.1V77.0M515.3 75.5V81.9M518.9 73.2V79.4M518.8 71.6V78.2M516.6 74.0V76.9M515.2 72.6V78.4M512.5 73.3V77.7M512.0 74.8V81.7M513.2 75.0V79.3M509.6 73.4V78.9M520.7 74.9V78.2M509.5 73.7V78.6M517.6 70.9V76.3M510.5 75.2V78.3M515.5 72.1V77.3M508.6 69.6V76.5M517.4 68.5V77.2M511.9 75.6V76.0M512.3 74.5V76.5M518.2 74.3V78.0M514.8 74.7V76.3M520.5 73.4V77.8M512.9 71.3V76.1M514.1 75.2V76.1M518.0 75.7V79.7M510.0 73.9V78.2M516.4 70.1V79.6M520.0 73.8V78.8M514.0 72.3V77.9M511.2 75.1V82.7M521.0 72.3V78.1M510.4 73.8V76.2M519.0 71.7V77.4M521.6 72.1V77.3M541.6 73.7V79.1M536.3 73.7V76.6M534.6 74.2V75.9M539.6 75.7V77.3M535.9 73.4V80.3M541.3 67.4V78.9M540.8 73.9V76.0M536.0 73.0V80.7M534.7 73.6V77.9M540.3 65.8V76.1M539.6 73.6V76.7M534.6 74.2V76.0M538.1 69.4V77.1M537.7 75.4V77.1M539.5 74.1V77.1M537.0 75.6V80.5M537.4 73.2V83.2M538.4 71.8V79.0M539.7 69.1V77.5M539.4 69.9V80.3M536.8 75.3V78.3M537.5 70.8V78.6M536.2 75.5V81.4M539.9 73.8V75.8M588.6 72.2V78.2M592.4 75.2V77.2M586.2 74.4V76.4M586.5 73.8V81.7M587.6 72.3V76.9M589.9 72.9V76.1M584.4 70.1V76.1M591.6 74.5V76.9M589.4 70.1V83.3M587.7 69.9V77.0M584.6 74.8V77.2M589.8 72.1V78.5M588.9 73.3V77.7M586.7 75.3V77.8M590.3 75.3V85.0M585.2 70.9V80.8M588.4 73.5V78.9M591.0 68.5V79.4M587.7 74.8V77.2M589.3 69.4V79.0M587.9 74.8V79.3M588.8 75.1V79.2M586.5 69.3V82.0M585.9 73.3V77.2M588.3 72.0V78.6M587.7 63.7V82.7M587.4 74.7V77.8M587.6 71.2V80.9M585.8 75.4V78.0M362.1 72.5V77.8M361.9 65.5V78.0M364.0 69.6V76.7M360.6 73.0V75.9M361.5 75.2V84.1M361.8 70.4V77.9M360.1 69.6V84.4M360.6 74.6V75.8M363.0 75.0V85.6M362.2 74.5V79.0M365.0 73.5V77.7M365.3 75.7V78.9M360.2 75.3V76.4M363.2 72.3V76.2M364.9 72.9V82.9M365.0 74.4V82.8M361.9 72.0V77.5M364.0 75.8V76.2M362.6 75.4V77.6M364.6 73.2V77.6M459.9 71.9V82.2M456.2 75.3V76.0M455.1 74.0V76.4M458.3 75.1V78.2M456.2 75.8V78.6M456.0 73.8V87.5M459.0 75.4V77.3M456.1 73.5V77.7M460.4 73.3V78.7M461.3 73.4V76.8M456.4 75.5V79.4M459.7 68.5V81.1M457.8 69.7V77.7M458.1 75.8V81.1M457.7 74.0V76.9M459.3 67.2V78.6M460.8 74.1V78.9M459.5 75.4V81.4M458.4 73.9V81.1M458.2 75.1V78.3M459.8 70.6V79.9M460.9 75.4V77.0M461.9 70.6V76.6" stroke="#060606" stroke-width="0.6" stroke-opacity="0.8" fill="none"/><path d="M384.1 72.2V77.0M386.2 74.4V79.3M382.4 71.0V84.9M389.7 74.3V77.2M383.5 75.0V77.7M390.6 74.9V78.6M382.7 75.2V76.1M382.3 74.4V76.1M386.2 74.1V76.2M385.3 72.4V79.7M381.9 75.3V78.6M381.9 74.9V77.6M390.5 72.9V80.0M387.9 68.6V77.5M418.6 69.3V77.1M422.1 68.1V77.8M424.6 69.6V81.9M421.2 70.5V76.8M423.8 73.8V78.7M418.7 74.9V76.5M420.0 73.1V76.6M421.2 71.0V77.6M421.2 70.1V80.9M418.1 69.7V77.1M417.5 74.8V81.2M420.0 73.3V76.6M422.7 71.8V78.5M420.8 74.5V80.0M420.1 71.0V81.4M419.3 74.8V76.5M426.0 68.2V78.4M418.4 70.3V78.1M514.6 75.6V79.2M518.4 74.5V79.4M517.8 73.9V82.6M516.8 73.9V83.5M510.5 73.9V78.3M512.6 73.0V78.9M512.2 74.3V76.7M514.4 71.0V76.3M517.8 71.8V78.7M509.3 75.2V77.1M509.2 73.0V76.2M519.1 74.7V76.5M513.2 73.0V79.4M516.6 72.9V78.7M514.7 73.3V78.4M513.9 72.4V77.9M517.0 71.1V81.7M516.2 74.9V78.8M518.7 74.8V76.7M511.8 70.3V77.3M520.3 72.2V77.0M515.4 75.1V75.9M540.0 74.8V78.6M539.2 74.7V77.9M536.0 70.4V79.4M539.0 72.5V82.5M541.4 73.8V77.5M536.1 73.3V75.9M588.3 72.8V80.6M588.1 75.6V78.9M588.4 74.0V76.6M592.3 73.6V76.8M589.0 73.3V78.7M588.6 74.9V76.7M589.5 75.0V77.2M365.9 71.2V79.8M364.9 74.4V81.5M362.5 75.5V80.8M364.9 72.9V76.2M365.7 73.4V77.5M360.3 68.7V78.6M361.5 74.6V77.2M362.7 74.2V76.8M458.6 75.1V77.9M458.3 72.4V78.8M459.0 70.7V78.0M458.0 72.9V76.3M459.7 73.9V78.9M461.7 68.6V80.8M458.8 75.1V75.8M461.7 73.2V82.5M457.8 75.4V80.3" stroke="#060606" stroke-width="0.6" stroke-opacity="0.6" fill="none"/><path d="M409.5 54.0V73.0M434.4 56.6V73.0M398.0 61.0V73.0M445.0 60.0V73.0M548.0 60.0V73.0M485.0 62.0V73.0" stroke="#7e7e7e" stroke-width="0.7" fill="none"/><rect x="317.3" y="72.9" width="279.2" height="5.8" fill="#050505"/><rect x="338" y="60" width="3" height="32" fill="#fff"/><line x1="339.5" y1="11.5" x2="339.5" y2="137.2" stroke="#c8c8c8" stroke-width="1"/><rect x="548.1" y="117.9" width="41.7" height="2.2" fill="#111"/><text x="568.3" y="131.2" text-anchor="middle" font-size="10" font-family="&quot;Liberation Sans&quot;, sans-serif" fill="#222">10 mins</text><path d="M340.6,140.3 L345.8,149.5 L340.6,147.8 L335.40000000000003,149.5 Z" fill="#111"/><rect x="339.65000000000003" y="147" width="1.9" height="5.4" fill="#111"/><text transform="translate(8,18.6) scale(0.95,1)" x="0" y="0" font-size="17.5" font-family="&quot;Liberation Sans&quot;, sans-serif" fill="#1a1a1a">A</text><text transform="translate(318,18.3) scale(0.92,1)" x="0" y="0" font-size="17.5" font-family="&quot;Liberation Sans&quot;, sans-serif" fill="#1a1a1a">B</text><text transform="translate(6.9,180) scale(0.9,1)" x="0" y="0" font-size="17.5" font-family="&quot;Liberation Sans&quot;, sans-serif" fill="#1a1a1a">C</text><text transform="translate(310.4,178.7) scale(1.0,1)" x="0" y="0" font-size="17.5" font-family="&quot;Liberation Sans&quot;, sans-serif" fill="#1a1a1a">D</text><text transform="translate(4.3,329.8) scale(0.8,1)" x="0" y="0" font-size="17.5" font-family="&quot;Liberation Sans&quot;, sans-serif" fill="#1a1a1a">E</text><text transform="translate(315.4,329.5) scale(0.8,1)" x="0" y="0" font-size="17.5" font-family="&quot;Liberation Sans&quot;, sans-serif" fill="#1a1a1a">F</text></svg></body></html>
